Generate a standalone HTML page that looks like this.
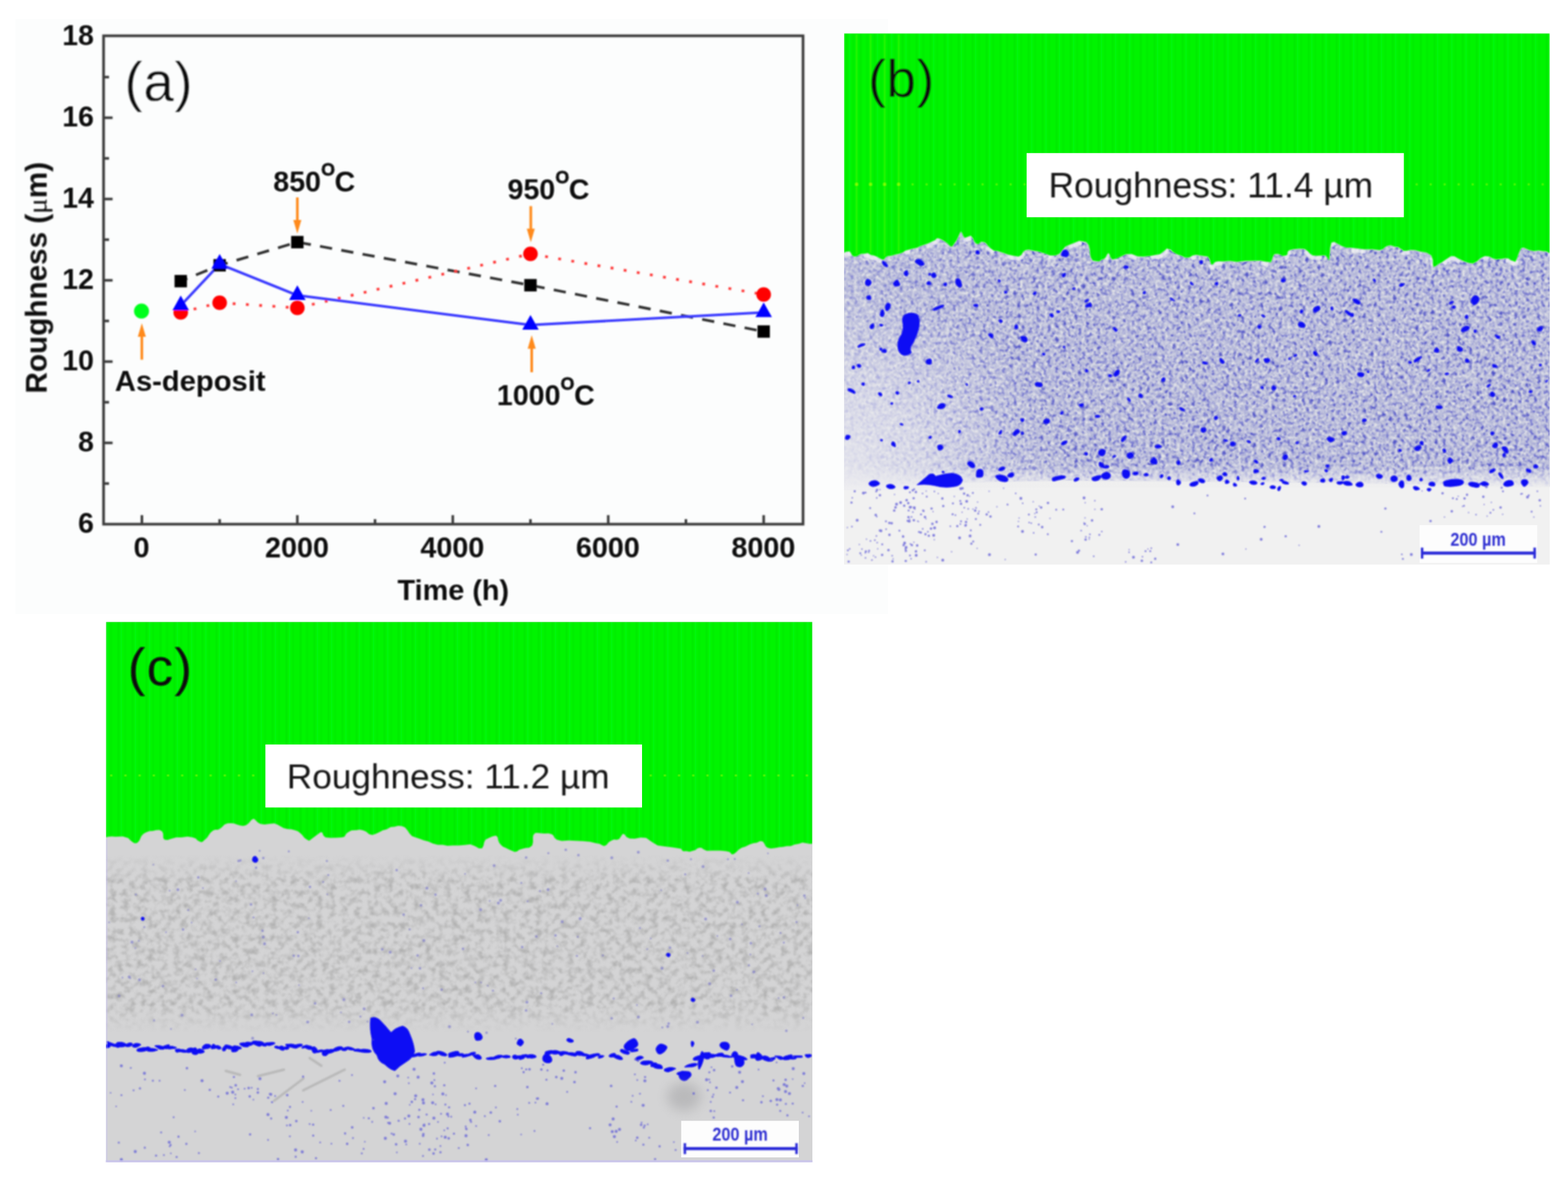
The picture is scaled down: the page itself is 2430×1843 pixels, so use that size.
<!DOCTYPE html>
<html lang="en"><head><meta charset="utf-8"><title>Roughness vs time and cross-section micrographs</title>
<style>
html,body{margin:0;padding:0;background:#fff;}
body{width:2430px;height:1843px;overflow:hidden;position:relative;font-family:"Liberation Sans", Arial, Helvetica, sans-serif;}
svg{position:absolute;left:0;top:0;display:block;}
text{font-family:"Liberation Sans", Arial, Helvetica, sans-serif;}
.b{font-weight:700;}
</style></head><body>
<svg width="2430" height="1843" viewBox="0 0 2430 1843">
<defs>
<filter id="soft" x="-5%" y="-5%" width="110%" height="110%"><feGaussianBlur stdDeviation="0.9"/></filter>
<filter id="soft2" x="-5%" y="-5%" width="110%" height="110%"><feGaussianBlur stdDeviation="1.3"/></filter>
<filter id="nzB" x="0" y="0" width="100%" height="100%" color-interpolation-filters="sRGB">
  <feTurbulence type="fractalNoise" baseFrequency="0.21" numOctaves="3" seed="3" result="n"/>
  <feColorMatrix in="n" type="matrix" values="0 0 0 0 0.90  0 0 0 0 0.905  0 0 0 0 0.91  2.2 0.8 0 0 -1.13"/>
  <feGaussianBlur stdDeviation="0.9"/>
  <feComposite in2="SourceGraphic" operator="in"/>
</filter>
<filter id="nzB2" x="0" y="0" width="100%" height="100%" color-interpolation-filters="sRGB">
  <feTurbulence type="fractalNoise" baseFrequency="0.17" numOctaves="3" seed="8" result="n"/>
  <feColorMatrix in="n" type="matrix" values="0 0 0 0 0.30  0 0 0 0 0.31  0 0 0 0 0.78  0 3.0 1.0 0 -1.98"/>
  <feGaussianBlur stdDeviation="1.0"/>
  <feComposite in2="SourceGraphic" operator="in"/>
</filter>
<filter id="blur8" x="-50%" y="-50%" width="200%" height="200%"><feGaussianBlur stdDeviation="9"/></filter>
<linearGradient id="gB" x1="0" y1="0" x2="1" y2="0"><stop offset="0" stop-color="#fff" stop-opacity="0.55"/><stop offset="0.25" stop-color="#fff" stop-opacity="0.95"/><stop offset="1" stop-color="#fff" stop-opacity="1"/></linearGradient>
<mask id="mB" maskUnits="userSpaceOnUse" x="1300" y="330" width="1110" height="440"><rect x="1300" y="330" width="1110" height="440" fill="url(#gB)"/></mask>
<radialGradient id="gBL" gradientUnits="userSpaceOnUse" cx="1300" cy="720" r="330" gradientTransform="translate(1300 720) scale(1 0.85) translate(-1300 -720)"><stop offset="0" stop-color="#ececf0" stop-opacity="0.8"/><stop offset="0.4" stop-color="#ececf0" stop-opacity="0.55"/><stop offset="0.75" stop-color="#ececf0" stop-opacity="0.2"/><stop offset="1" stop-color="#ececf0" stop-opacity="0"/></radialGradient>
<linearGradient id="gBbot" gradientUnits="userSpaceOnUse" x1="0" y1="722" x2="0" y2="752"><stop offset="0" stop-color="#efefef" stop-opacity="0"/><stop offset="1" stop-color="#efefef" stop-opacity="0.9"/></linearGradient>
<linearGradient id="gC" x1="0" y1="0" x2="0" y2="1"><stop offset="0" stop-color="#fff" stop-opacity="0"/><stop offset="0.15" stop-color="#fff" stop-opacity="1"/><stop offset="0.85" stop-color="#fff" stop-opacity="1"/><stop offset="1" stop-color="#fff" stop-opacity="0"/></linearGradient>
<mask id="mC" maskUnits="userSpaceOnUse" x="160" y="1325" width="1105" height="275"><rect x="160" y="1325" width="1105" height="275" fill="url(#gC)"/></mask>
<filter id="nzC" x="0" y="0" width="100%" height="100%" color-interpolation-filters="sRGB">
  <feTurbulence type="fractalNoise" baseFrequency="0.1" numOctaves="3" seed="11" result="n"/>
  <feColorMatrix in="n" type="matrix" values="0 0 0 0 0.70  0 0 0 0 0.70  0 0 0 0 0.70  2.6 0 0 0 -1.1"/>
  <feGaussianBlur stdDeviation="0.9"/>
  <feComposite in2="SourceGraphic" operator="in"/>
</filter>
<pattern id="stripe" width="21.7" height="40" patternUnits="userSpaceOnUse" patternTransform="translate(1308 0)">
  <rect x="0" y="0" width="21.7" height="40" fill="#00f404"/>
  <rect x="3" y="0" width="2" height="40" fill="#00e602"/>
  <rect x="13.5" y="0" width="1.6" height="40" fill="#00ea02"/>
  <rect x="8" y="0" width="1.5" height="40" fill="#08fa0a"/>
</pattern>
<clipPath id="clipBcoat"><polygon points="1308.0,392.3 1316.3,389.6 1323.5,397.8 1339.8,393.2 1354.2,396.0 1366.9,402.3 1376.0,396.9 1394.0,393.2 1408.5,386.9 1426.6,381.5 1444.7,374.2 1455.5,369.7 1466.4,376.1 1473.6,382.4 1482.6,372.4 1489.0,358.9 1495.3,368.8 1504.3,365.2 1513.4,377.9 1524.2,375.2 1535.1,385.1 1553.2,391.4 1578.5,397.8 1589.3,387.8 1607.4,389.6 1636.3,396.0 1650.8,382.4 1672.5,373.3 1687.0,379.7 1690.6,399.6 1700.0,405.0 1710.8,401.4 1718.0,392.3 1723.5,402.3 1745.2,394.1 1772.3,397.8 1797.6,394.1 1808.5,385.1 1817.5,390.5 1837.4,399.6 1853.7,395.0 1871.8,397.8 1878.1,410.4 1888.0,405.0 1917.0,405.9 1953.2,404.1 1969.4,406.8 1974.9,394.1 1993.0,396.0 1998.4,387.8 2021.9,386.0 2034.5,396.0 2054.4,396.0 2059.9,403.2 2063.5,376.1 2079.7,381.5 2102.3,385.1 2138.5,387.8 2149.3,381.5 2167.4,383.3 2174.7,388.7 2192.7,387.8 2218.0,396.0 2221.7,414.0 2234.3,406.8 2248.8,396.9 2265.0,403.2 2283.1,408.6 2301.2,396.9 2319.3,402.3 2337.4,400.5 2348.2,405.9 2357.3,385.1 2369.9,387.8 2391.6,389.6 2402.0,392.3 2402,754 2300,753 2150,750 2000,748 1800,746 1650,745 1500,748 1400,752 1308,754"/></clipPath>
<clipPath id="clipB"><rect x="1308" y="51.6" width="1093.8000000000002" height="823.6999999999999"/></clipPath>
<clipPath id="clipC"><rect x="164.2" y="963.7" width="1094.8" height="837.8999999999999"/></clipPath>
</defs>
<rect width="2430" height="1843" fill="#ffffff"/>

<g id="chart">
<rect x="24" y="29.5" width="1352" height="922" fill="#fcfdfd"/>
<g filter="url(#soft)">
<rect x="160.5" y="55.5" width="1084.0" height="757.0" fill="none" stroke="#3c3c3c" stroke-width="4.1"/>
<line x1="160.5" y1="749.5" x2="169.0" y2="749.5" stroke="#3c3c3c" stroke-width="4"/>
<line x1="160.5" y1="686.5" x2="174.5" y2="686.5" stroke="#3c3c3c" stroke-width="4"/>
<line x1="160.5" y1="623.5" x2="169.0" y2="623.5" stroke="#3c3c3c" stroke-width="4"/>
<line x1="160.5" y1="560.5" x2="174.5" y2="560.5" stroke="#3c3c3c" stroke-width="4"/>
<line x1="160.5" y1="497.5" x2="169.0" y2="497.5" stroke="#3c3c3c" stroke-width="4"/>
<line x1="160.5" y1="434.5" x2="174.5" y2="434.5" stroke="#3c3c3c" stroke-width="4"/>
<line x1="160.5" y1="371.5" x2="169.0" y2="371.5" stroke="#3c3c3c" stroke-width="4"/>
<line x1="160.5" y1="308.5" x2="174.5" y2="308.5" stroke="#3c3c3c" stroke-width="4"/>
<line x1="160.5" y1="245.5" x2="169.0" y2="245.5" stroke="#3c3c3c" stroke-width="4"/>
<line x1="160.5" y1="182.5" x2="174.5" y2="182.5" stroke="#3c3c3c" stroke-width="4"/>
<line x1="160.5" y1="119.5" x2="169.0" y2="119.5" stroke="#3c3c3c" stroke-width="4"/>
<line x1="219.9" y1="812.5" x2="219.9" y2="798.5" stroke="#3c3c3c" stroke-width="4"/>
<line x1="340.4" y1="812.5" x2="340.4" y2="804.7" stroke="#3c3c3c" stroke-width="4"/>
<line x1="460.8" y1="812.5" x2="460.8" y2="798.5" stroke="#3c3c3c" stroke-width="4"/>
<line x1="581.2" y1="812.5" x2="581.2" y2="804.7" stroke="#3c3c3c" stroke-width="4"/>
<line x1="701.7" y1="812.5" x2="701.7" y2="798.5" stroke="#3c3c3c" stroke-width="4"/>
<line x1="822.1" y1="812.5" x2="822.1" y2="804.7" stroke="#3c3c3c" stroke-width="4"/>
<line x1="942.6" y1="812.5" x2="942.6" y2="798.5" stroke="#3c3c3c" stroke-width="4"/>
<line x1="1063.0" y1="812.5" x2="1063.0" y2="804.7" stroke="#3c3c3c" stroke-width="4"/>
<line x1="1183.5" y1="812.5" x2="1183.5" y2="798.5" stroke="#3c3c3c" stroke-width="4"/>
</g>
<g class="b" font-size="44" fill="#0a0a0a" filter="url(#soft)">
<text x="145.5" y="825.8" text-anchor="end">6</text>
<text x="145.5" y="699.8" text-anchor="end">8</text>
<text x="145.5" y="573.8" text-anchor="end">10</text>
<text x="145.5" y="447.8" text-anchor="end">12</text>
<text x="145.5" y="321.8" text-anchor="end">14</text>
<text x="145.5" y="195.8" text-anchor="end">16</text>
<text x="145.5" y="69.8" text-anchor="end">18</text>
<text x="219.3" y="864" font-size="44.5" text-anchor="middle">0</text>
<text x="460.2" y="864" font-size="44.5" text-anchor="middle">2000</text>
<text x="701.1" y="864" font-size="44.5" text-anchor="middle">4000</text>
<text x="942.0" y="864" font-size="44.5" text-anchor="middle">6000</text>
<text x="1182.9" y="864" font-size="44.5" text-anchor="middle">8000</text>
<text x="702.5" y="930.3" font-size="44.7" text-anchor="middle">Time (h)</text>
<text transform="translate(72.3 430.5) rotate(-90)" font-size="46" text-anchor="middle">Roughness (<tspan font-family="'Liberation Serif', serif" font-weight="400" font-size="45">μ</tspan>m)</text>
</g>
<text x="193" y="155.5" font-size="84.5" letter-spacing="1" fill="#0a0a0a" stroke="#fcfdfd" stroke-width="0.4" filter="url(#soft)">(a)</text>
<g filter="url(#soft)">
<polyline points="280.1,435.8 340.4,411.2 460.8,375.3 822.1,442.1 1183.5,513.9" fill="none" stroke="#303030" stroke-width="4.2" stroke-dasharray="19 14.5" stroke-dashoffset="8"/>
<polyline points="280.1,484.3 340.4,469.2 460.8,477.3 822.1,393.5 1183.5,456.5" fill="none" stroke="#ff3a3a" stroke-width="4.2" stroke-dasharray="4.4 16.2" />
<polyline points="280.1,473.6 340.4,409.3 460.8,457.8 822.1,503.8 1183.5,484.3" fill="none" stroke="#3a3aff" stroke-width="4.1" stroke-linejoin="round"/>
<rect x="270.5" y="426.2" width="19.2" height="19.2" fill="#000"/>
<rect x="330.8" y="401.6" width="19.2" height="19.2" fill="#000"/>
<rect x="451.2" y="365.7" width="19.2" height="19.2" fill="#000"/>
<rect x="812.5" y="432.5" width="19.2" height="19.2" fill="#000"/>
<rect x="1173.9" y="504.3" width="19.2" height="19.2" fill="#000"/>
<circle cx="280.1" cy="484.3" r="11.3" fill="#ff0000"/>
<circle cx="340.4" cy="469.2" r="11.3" fill="#ff0000"/>
<circle cx="460.8" cy="477.3" r="11.3" fill="#ff0000"/>
<circle cx="822.1" cy="393.5" r="11.3" fill="#ff0000"/>
<circle cx="1183.5" cy="456.5" r="11.3" fill="#ff0000"/>
<polygon points="280.1,458.1 292.9,480.9 267.3,480.9" fill="#0000ff"/>
<polygon points="340.4,393.8 353.2,416.6 327.6,416.6" fill="#0000ff"/>
<polygon points="460.8,442.3 473.6,465.1 448.0,465.1" fill="#0000ff"/>
<polygon points="822.1,488.3 834.9,511.1 809.4,511.1" fill="#0000ff"/>
<polygon points="1183.5,468.8 1196.3,491.6 1170.7,491.6" fill="#0000ff"/>
<circle cx="219.3" cy="482.2" r="11.6" fill="#00ff1e"/>
<line x1="460.8" y1="306" x2="460.8" y2="348" stroke="#ff8a1a" stroke-width="4"/>
<polygon points="460.8,362 454.6,341 467.0,341" fill="#ff8a1a"/>
<line x1="822.6" y1="319.5" x2="822.6" y2="361.5" stroke="#ff8a1a" stroke-width="4"/>
<polygon points="822.6,375.5 816.4,354.5 828.8000000000001,354.5" fill="#ff8a1a"/>
<line x1="824" y1="577" x2="824" y2="533.5" stroke="#ff8a1a" stroke-width="4"/>
<polygon points="824,519.5 817.8,540.5 830.2,540.5" fill="#ff8a1a"/>
<line x1="219.8" y1="557.5" x2="219.8" y2="515" stroke="#ff8a1a" stroke-width="4"/>
<polygon points="219.8,501 213.60000000000002,522 226.0,522" fill="#ff8a1a"/>
</g>
<g class="b" font-size="44.3" fill="#0a0a0a" filter="url(#soft)">
<text x="423.5" y="296.5">850<tspan font-size="27.5" dy="-24.5" dx="0.3" stroke="#0a0a0a" stroke-width="0.9">O</tspan><tspan dy="24.5" dx="-0.5">C</tspan></text>
<text x="786.5" y="308.8">950<tspan font-size="27.5" dy="-24.5" dx="0.3" stroke="#0a0a0a" stroke-width="0.9">O</tspan><tspan dy="24.5" dx="-0.5">C</tspan></text>
<text x="770" y="628.2">1000<tspan font-size="27.5" dy="-24.5" dx="0.3" stroke="#0a0a0a" stroke-width="0.9">O</tspan><tspan dy="24.5" dx="-0.5">C</tspan></text>
<text x="178" y="606.3" font-size="45.2">As-deposit</text>
</g>
</g>
<g id="panelB">
<g clip-path="url(#clipB)">
<rect x="1308" y="51.6" width="1093.8000000000002" height="823.6999999999999" fill="#f1f1f1"/>
<polygon points="1308.0,392.3 1310.2,390.6 1313.3,389.9 1316.3,389.6 1318.4,391.7 1320.5,395.9 1323.5,397.8 1328.3,397.2 1334.2,393.6 1339.8,393.2 1344.8,392.3 1349.6,395.3 1354.2,396.0 1358.7,397.7 1363.0,400.3 1366.9,402.3 1369.9,402.5 1372.4,398.9 1376.0,396.9 1381.5,396.4 1387.9,394.5 1394.0,393.2 1399.0,391.6 1403.5,388.2 1408.5,386.9 1414.3,385.4 1420.4,384.3 1426.6,381.5 1432.9,379.2 1439.2,377.1 1444.7,374.2 1448.8,372.5 1452.2,369.2 1455.5,369.7 1459.3,371.6 1463.0,373.8 1466.4,376.1 1469.0,378.3 1471.2,380.4 1473.6,382.4 1476.6,381.3 1479.7,376.5 1482.6,372.4 1484.9,367.8 1487.0,362.7 1489.0,358.9 1491.0,361.5 1493.0,366.6 1495.3,368.8 1498.1,367.7 1501.2,366.4 1504.3,365.2 1507.3,368.7 1510.2,375.2 1513.4,377.9 1516.9,378.6 1520.5,374.8 1524.2,375.2 1527.6,376.8 1530.9,380.9 1535.1,385.1 1540.3,388.6 1546.4,389.3 1553.2,391.4 1561.6,394.4 1570.9,396.4 1578.5,397.8 1582.9,395.3 1585.7,390.6 1589.3,387.8 1594.4,387.0 1600.3,388.4 1607.4,389.6 1616.8,392.3 1627.3,396.1 1636.3,396.0 1641.9,393.2 1646.0,388.4 1650.8,382.4 1657.8,379.3 1665.5,376.2 1672.5,373.3 1678.3,374.2 1683.2,375.2 1687.0,379.7 1688.8,386.7 1689.4,394.7 1690.6,399.6 1693.3,403.8 1696.5,404.6 1700.0,405.0 1703.6,405.2 1707.4,402.6 1710.8,401.4 1713.5,398.9 1715.9,394.3 1718.0,392.3 1719.4,394.4 1720.5,398.6 1723.5,402.3 1729.3,401.3 1737.0,397.8 1745.2,394.1 1753.9,393.7 1763.2,397.4 1772.3,397.8 1781.4,397.1 1790.3,395.2 1797.6,394.1 1802.4,390.5 1805.5,387.9 1808.5,385.1 1811.2,386.6 1813.8,386.8 1817.5,390.5 1823.5,394.0 1830.6,396.4 1837.4,399.6 1843.0,399.3 1848.3,396.1 1853.7,395.0 1860.0,395.9 1866.6,397.0 1871.8,397.8 1874.6,402.0 1876.2,408.4 1878.1,410.4 1880.4,409.2 1883.2,406.0 1888.0,405.0 1896.0,405.2 1906.1,404.4 1917.0,405.9 1929.3,404.6 1942.3,404.2 1953.2,404.1 1960.5,405.5 1965.5,406.0 1969.4,406.8 1971.6,402.1 1972.5,398.7 1974.9,394.1 1980.5,393.6 1987.4,396.7 1993.0,396.0 1995.1,394.7 1995.7,390.1 1998.4,387.8 2005.3,386.2 2014.2,385.5 2021.9,386.0 2026.6,389.2 2030.2,393.2 2034.5,396.0 2041.1,396.6 2048.6,396.1 2054.4,396.0 2057.4,400.2 2058.7,403.1 2059.9,403.2 2060.8,395.3 2061.4,384.5 2063.5,376.1 2067.7,374.9 2073.4,378.2 2079.7,381.5 2086.3,384.0 2093.5,384.1 2102.3,385.1 2114.3,386.5 2127.8,386.4 2138.5,387.8 2143.7,385.9 2146.1,383.5 2149.3,381.5 2155.2,380.2 2161.9,382.4 2167.4,383.3 2170.2,385.4 2171.9,386.2 2174.7,388.7 2179.6,388.8 2185.8,387.6 2192.7,387.8 2201.4,389.9 2210.9,391.8 2218.0,396.0 2220.5,402.7 2220.6,410.1 2221.7,414.0 2225.2,412.4 2229.6,409.3 2234.3,406.8 2238.9,403.5 2243.8,400.2 2248.8,396.9 2254.0,397.2 2259.4,400.5 2265.0,403.2 2270.9,405.9 2277.0,407.7 2283.1,408.6 2289.1,405.0 2295.2,399.7 2301.2,396.9 2307.2,397.4 2313.3,400.6 2319.3,402.3 2325.6,401.5 2331.9,400.5 2337.4,400.5 2341.6,403.4 2345.0,404.6 2348.2,405.9 2351.2,400.2 2354.1,391.8 2357.3,385.1 2360.9,383.8 2364.9,385.4 2369.9,387.8 2376.9,389.2 2384.9,388.3 2391.6,389.6 2396.3,389.8 2399.7,391.4 2402.0,392.3 2402.0,754.0 2300.0,753.0 2150.0,750.0 2000.0,748.0 1800.0,746.0 1650.0,745.0 1500.0,748.0 1400.0,752.0 1308.0,754.0" fill="#b2b5d8" filter="url(#soft2)"/>
<g clip-path="url(#clipBcoat)"><rect x="1308" y="340" width="1093.8000000000002" height="420" fill="#000" filter="url(#nzB)"/><rect x="1308" y="340" width="1093.8000000000002" height="420" fill="#000" filter="url(#nzB2)" mask="url(#mB)"/></g>
<rect x="1308" y="720" width="1093.8000000000002" height="36" fill="url(#gBbot)"/>
<rect x="1308" y="430" width="340" height="330" fill="url(#gBL)"/>
<polyline points="1308.0,395.3 1310.2,393.6 1313.3,392.9 1316.3,392.6 1318.4,394.7 1320.5,398.9 1323.5,400.8 1328.3,400.2 1334.2,396.6 1339.8,396.2 1344.8,395.3 1349.6,398.3 1354.2,399.0 1358.7,400.7 1363.0,403.3 1366.9,405.3 1369.9,405.5 1372.4,401.9 1376.0,399.9 1381.5,399.4 1387.9,397.5 1394.0,396.2 1399.0,394.6 1403.5,391.2 1408.5,389.9 1414.3,388.4 1420.4,387.3 1426.6,384.5 1432.9,382.2 1439.2,380.1 1444.7,377.2 1448.8,375.5 1452.2,372.2 1455.5,372.7 1459.3,374.6 1463.0,376.8 1466.4,379.1 1469.0,381.3 1471.2,383.4 1473.6,385.4 1476.6,384.3 1479.7,379.5 1482.6,375.4 1484.9,370.8 1487.0,365.7 1489.0,361.9 1491.0,364.5 1493.0,369.6 1495.3,371.8 1498.1,370.7 1501.2,369.4 1504.3,368.2 1507.3,371.7 1510.2,378.2 1513.4,380.9 1516.9,381.6 1520.5,377.8 1524.2,378.2 1527.6,379.8 1530.9,383.9 1535.1,388.1 1540.3,391.6 1546.4,392.3 1553.2,394.4 1561.6,397.4 1570.9,399.4 1578.5,400.8 1582.9,398.3 1585.7,393.6 1589.3,390.8 1594.4,390.0 1600.3,391.4 1607.4,392.6 1616.8,395.3 1627.3,399.1 1636.3,399.0 1641.9,396.2 1646.0,391.4 1650.8,385.4 1657.8,382.3 1665.5,379.2 1672.5,376.3 1678.3,377.2 1683.2,378.2 1687.0,382.7 1688.8,389.7 1689.4,397.7 1690.6,402.6 1693.3,406.8 1696.5,407.6 1700.0,408.0 1703.6,408.2 1707.4,405.6 1710.8,404.4 1713.5,401.9 1715.9,397.3 1718.0,395.3 1719.4,397.4 1720.5,401.6 1723.5,405.3 1729.3,404.3 1737.0,400.8 1745.2,397.1 1753.9,396.7 1763.2,400.4 1772.3,400.8 1781.4,400.1 1790.3,398.2 1797.6,397.1 1802.4,393.5 1805.5,390.9 1808.5,388.1 1811.2,389.6 1813.8,389.8 1817.5,393.5 1823.5,397.0 1830.6,399.4 1837.4,402.6 1843.0,402.3 1848.3,399.1 1853.7,398.0 1860.0,398.9 1866.6,400.0 1871.8,400.8 1874.6,405.0 1876.2,411.4 1878.1,413.4 1880.4,412.2 1883.2,409.0 1888.0,408.0 1896.0,408.2 1906.1,407.4 1917.0,408.9 1929.3,407.6 1942.3,407.2 1953.2,407.1 1960.5,408.5 1965.5,409.0 1969.4,409.8 1971.6,405.1 1972.5,401.7 1974.9,397.1 1980.5,396.6 1987.4,399.7 1993.0,399.0 1995.1,397.7 1995.7,393.1 1998.4,390.8 2005.3,389.2 2014.2,388.5 2021.9,389.0 2026.6,392.2 2030.2,396.2 2034.5,399.0 2041.1,399.6 2048.6,399.1 2054.4,399.0 2057.4,403.2 2058.7,406.1 2059.9,406.2 2060.8,398.3 2061.4,387.5 2063.5,379.1 2067.7,377.9 2073.4,381.2 2079.7,384.5 2086.3,387.0 2093.5,387.1 2102.3,388.1 2114.3,389.5 2127.8,389.4 2138.5,390.8 2143.7,388.9 2146.1,386.5 2149.3,384.5 2155.2,383.2 2161.9,385.4 2167.4,386.3 2170.2,388.4 2171.9,389.2 2174.7,391.7 2179.6,391.8 2185.8,390.6 2192.7,390.8 2201.4,392.9 2210.9,394.8 2218.0,399.0 2220.5,405.7 2220.6,413.1 2221.7,417.0 2225.2,415.4 2229.6,412.3 2234.3,409.8 2238.9,406.5 2243.8,403.2 2248.8,399.9 2254.0,400.2 2259.4,403.5 2265.0,406.2 2270.9,408.9 2277.0,410.7 2283.1,411.6 2289.1,408.0 2295.2,402.7 2301.2,399.9 2307.2,400.4 2313.3,403.6 2319.3,405.3 2325.6,404.5 2331.9,403.5 2337.4,403.5 2341.6,406.4 2345.0,407.6 2348.2,408.9 2351.2,403.2 2354.1,394.8 2357.3,388.1 2360.9,386.8 2364.9,388.4 2369.9,390.8 2376.9,392.2 2384.9,391.3 2391.6,392.6 2396.3,392.8 2399.7,394.4 2402.0,395.3" fill="none" stroke="#f4f4f6" stroke-width="7" stroke-dasharray="14 22 30 40 9 28 22 60 12 35" opacity="0.75" filter="url(#soft2)"/>
<polygon points="1308,51.6 2401.8,51.6 2402.0,392.3 2399.7,391.4 2396.3,389.8 2391.6,389.6 2384.9,388.3 2376.9,389.2 2369.9,387.8 2364.9,385.4 2360.9,383.8 2357.3,385.1 2354.1,391.8 2351.2,400.2 2348.2,405.9 2345.0,404.6 2341.6,403.4 2337.4,400.5 2331.9,400.5 2325.6,401.5 2319.3,402.3 2313.3,400.6 2307.2,397.4 2301.2,396.9 2295.2,399.7 2289.1,405.0 2283.1,408.6 2277.0,407.7 2270.9,405.9 2265.0,403.2 2259.4,400.5 2254.0,397.2 2248.8,396.9 2243.8,400.2 2238.9,403.5 2234.3,406.8 2229.6,409.3 2225.2,412.4 2221.7,414.0 2220.6,410.1 2220.5,402.7 2218.0,396.0 2210.9,391.8 2201.4,389.9 2192.7,387.8 2185.8,387.6 2179.6,388.8 2174.7,388.7 2171.9,386.2 2170.2,385.4 2167.4,383.3 2161.9,382.4 2155.2,380.2 2149.3,381.5 2146.1,383.5 2143.7,385.9 2138.5,387.8 2127.8,386.4 2114.3,386.5 2102.3,385.1 2093.5,384.1 2086.3,384.0 2079.7,381.5 2073.4,378.2 2067.7,374.9 2063.5,376.1 2061.4,384.5 2060.8,395.3 2059.9,403.2 2058.7,403.1 2057.4,400.2 2054.4,396.0 2048.6,396.1 2041.1,396.6 2034.5,396.0 2030.2,393.2 2026.6,389.2 2021.9,386.0 2014.2,385.5 2005.3,386.2 1998.4,387.8 1995.7,390.1 1995.1,394.7 1993.0,396.0 1987.4,396.7 1980.5,393.6 1974.9,394.1 1972.5,398.7 1971.6,402.1 1969.4,406.8 1965.5,406.0 1960.5,405.5 1953.2,404.1 1942.3,404.2 1929.3,404.6 1917.0,405.9 1906.1,404.4 1896.0,405.2 1888.0,405.0 1883.2,406.0 1880.4,409.2 1878.1,410.4 1876.2,408.4 1874.6,402.0 1871.8,397.8 1866.6,397.0 1860.0,395.9 1853.7,395.0 1848.3,396.1 1843.0,399.3 1837.4,399.6 1830.6,396.4 1823.5,394.0 1817.5,390.5 1813.8,386.8 1811.2,386.6 1808.5,385.1 1805.5,387.9 1802.4,390.5 1797.6,394.1 1790.3,395.2 1781.4,397.1 1772.3,397.8 1763.2,397.4 1753.9,393.7 1745.2,394.1 1737.0,397.8 1729.3,401.3 1723.5,402.3 1720.5,398.6 1719.4,394.4 1718.0,392.3 1715.9,394.3 1713.5,398.9 1710.8,401.4 1707.4,402.6 1703.6,405.2 1700.0,405.0 1696.5,404.6 1693.3,403.8 1690.6,399.6 1689.4,394.7 1688.8,386.7 1687.0,379.7 1683.2,375.2 1678.3,374.2 1672.5,373.3 1665.5,376.2 1657.8,379.3 1650.8,382.4 1646.0,388.4 1641.9,393.2 1636.3,396.0 1627.3,396.1 1616.8,392.3 1607.4,389.6 1600.3,388.4 1594.4,387.0 1589.3,387.8 1585.7,390.6 1582.9,395.3 1578.5,397.8 1570.9,396.4 1561.6,394.4 1553.2,391.4 1546.4,389.3 1540.3,388.6 1535.1,385.1 1530.9,380.9 1527.6,376.8 1524.2,375.2 1520.5,374.8 1516.9,378.6 1513.4,377.9 1510.2,375.2 1507.3,368.7 1504.3,365.2 1501.2,366.4 1498.1,367.7 1495.3,368.8 1493.0,366.6 1491.0,361.5 1489.0,358.9 1487.0,362.7 1484.9,367.8 1482.6,372.4 1479.7,376.5 1476.6,381.3 1473.6,382.4 1471.2,380.4 1469.0,378.3 1466.4,376.1 1463.0,373.8 1459.3,371.6 1455.5,369.7 1452.2,369.2 1448.8,372.5 1444.7,374.2 1439.2,377.1 1432.9,379.2 1426.6,381.5 1420.4,384.3 1414.3,385.4 1408.5,386.9 1403.5,388.2 1399.0,391.6 1394.0,393.2 1387.9,394.5 1381.5,396.4 1376.0,396.9 1372.4,398.9 1369.9,402.5 1366.9,402.3 1363.0,400.3 1358.7,397.7 1354.2,396.0 1349.6,395.3 1344.8,392.3 1339.8,393.2 1334.2,393.6 1328.3,397.2 1323.5,397.8 1320.5,395.9 1318.4,391.7 1316.3,389.6 1313.3,389.9 1310.2,390.6 1308.0,392.3" fill="url(#stripe)" filter="url(#soft)"/>
<g stroke="#8cff00" opacity="0.55" filter="url(#soft)">
<line x1="1327.5" y1="53.6" x2="1327.5" y2="393.7" stroke-width="1.3"/>
<line x1="1349.2" y1="53.6" x2="1349.2" y2="392.0" stroke-width="1.3"/>
<line x1="1371" y1="53.6" x2="1371" y2="396.9" stroke-width="1.3"/>
<line x1="1392.7" y1="53.6" x2="1392.7" y2="390.5" stroke-width="1.3"/>
</g>
<g fill="#9cff00" opacity="0.8" filter="url(#soft)">
<circle cx="1327.5" cy="285.7" r="2.6"/>
<circle cx="1349.2" cy="285.7" r="2.6"/>
<circle cx="1370.9" cy="285.7" r="2.6"/>
<circle cx="1392.6" cy="285.7" r="2.6"/>
<circle cx="1414.3" cy="285.7" r="1.5"/>
<circle cx="1436.0" cy="285.7" r="1.5"/>
<circle cx="1457.7" cy="285.7" r="1.5"/>
<circle cx="1479.4" cy="285.7" r="1.5"/>
<circle cx="1501.1" cy="285.7" r="1.5"/>
<circle cx="1522.8" cy="285.7" r="1.5"/>
<circle cx="1544.5" cy="285.7" r="1.5"/>
<circle cx="1566.2" cy="285.7" r="1.5"/>
<circle cx="1587.9" cy="285.7" r="1.5"/>
<circle cx="2195.5" cy="285.7" r="1.5"/>
<circle cx="2217.2" cy="285.7" r="1.5"/>
<circle cx="2238.9" cy="285.7" r="1.5"/>
<circle cx="2260.6" cy="285.7" r="1.5"/>
<circle cx="2282.3" cy="285.7" r="1.5"/>
<circle cx="2304.0" cy="285.7" r="1.5"/>
<circle cx="2325.7" cy="285.7" r="1.5"/>
<circle cx="2347.4" cy="285.7" r="1.5"/>
<circle cx="2369.1" cy="285.7" r="1.5"/>
<circle cx="2390.8" cy="285.7" r="1.5"/>
</g>
<g fill="#0808f4" filter="url(#soft)">
<path d="M1403 487 Q1414 482 1423 488 Q1427 497 1424 510 Q1420 524 1414 534 Q1409 541 1413 546 Q1409 552 1400 551 Q1392 548 1391 538 Q1390 527 1397 518 Q1401 508 1398 497 Q1398 490 1403 487Z"/>
<path d="M1378.9 478.6Q1377.6 480.8 1375.6 482.0Q1373.5 483.1 1372.5 480.9Q1371.6 478.7 1371.6 476.2Q1371.7 473.7 1373.0 471.4Q1374.4 469.1 1376.0 469.2Q1377.7 469.4 1379.1 470.3Q1380.5 471.2 1380.4 473.7Q1380.2 476.3 1378.9 478.6Z"/>
<path d="M1369.8 489.6Q1368.5 492.0 1367.0 491.5Q1365.5 490.9 1364.4 490.1Q1363.3 489.2 1363.6 487.1Q1364.0 485.1 1364.7 482.5Q1365.4 480.0 1367.3 479.6Q1369.1 479.2 1369.6 481.2Q1370.1 483.3 1370.6 485.3Q1371.1 487.3 1369.8 489.6Z"/>
<path d="M1353.3 508.9Q1351.6 510.3 1350.0 509.9Q1348.5 509.4 1347.8 508.0Q1347.2 506.6 1348.2 505.0Q1349.1 503.4 1350.3 502.5Q1351.5 501.7 1352.9 501.3Q1354.4 500.8 1354.5 502.3Q1354.6 503.8 1354.9 505.6Q1355.1 507.5 1353.3 508.9Z"/>
<path d="M1462.8 474.7Q1462.0 476.1 1458.9 477.6Q1455.9 479.1 1452.3 480.5Q1448.8 481.9 1447.0 481.5Q1445.2 481.2 1445.4 479.7Q1445.6 478.3 1449.7 476.2Q1453.8 474.2 1457.8 472.9Q1461.8 471.7 1462.7 472.5Q1463.6 473.4 1462.8 474.7Z"/>
<path d="M1490.6 440.6Q1491.0 443.5 1489.6 444.7Q1488.2 446.0 1486.4 445.2Q1484.7 444.3 1482.7 442.5Q1480.6 440.7 1480.4 437.3Q1480.3 433.9 1481.8 432.2Q1483.4 430.6 1485.5 431.5Q1487.6 432.4 1489.0 435.0Q1490.3 437.7 1490.6 440.6Z"/>
<path d="M1590.5 530.3Q1588.8 530.9 1586.6 530.3Q1584.5 529.7 1583.3 527.9Q1582.2 526.1 1581.3 523.8Q1580.5 521.5 1582.7 521.0Q1585.0 520.6 1587.7 520.9Q1590.3 521.2 1591.5 523.5Q1592.7 525.9 1592.5 527.7Q1592.2 529.6 1590.5 530.3Z"/>
<path d="M1406.8 427.0Q1405.5 428.8 1404.2 428.2Q1402.9 427.6 1402.0 426.9Q1401.1 426.3 1400.5 424.5Q1400.0 422.8 1401.3 421.4Q1402.7 420.0 1404.3 419.0Q1405.8 418.1 1406.5 419.8Q1407.2 421.5 1407.7 423.4Q1408.1 425.3 1406.8 427.0Z"/>
<path d="M1451.1 426.5Q1451.7 427.8 1450.5 429.4Q1449.2 431.0 1447.3 430.8Q1445.5 430.7 1444.5 429.8Q1443.5 428.9 1443.2 427.6Q1442.9 426.3 1443.8 424.5Q1444.6 422.7 1446.8 422.5Q1449.0 422.3 1449.7 423.7Q1450.5 425.1 1451.1 426.5Z"/>
<path d="M1467.5 442.1Q1467.2 443.2 1466.1 443.5Q1465.0 443.8 1464.0 443.4Q1463.1 442.9 1462.0 442.0Q1461.0 441.0 1462.0 440.0Q1462.9 438.9 1464.0 438.2Q1465.0 437.4 1466.2 438.0Q1467.4 438.6 1467.6 439.8Q1467.8 441.0 1467.5 442.1Z"/>
<path d="M1518.3 392.6Q1518.2 394.2 1516.6 394.2Q1515.0 394.3 1513.5 394.1Q1512.0 394.0 1511.9 392.5Q1511.8 391.0 1512.0 389.6Q1512.3 388.3 1513.6 387.9Q1515.0 387.6 1516.3 388.0Q1517.5 388.5 1517.9 389.7Q1518.4 391.0 1518.3 392.6Z"/>
<path d="M1655.2 397.2Q1653.2 399.1 1650.8 398.6Q1648.4 398.2 1646.0 397.3Q1643.7 396.3 1644.4 393.9Q1645.1 391.5 1646.2 389.7Q1647.3 388.0 1649.7 387.1Q1652.1 386.3 1653.9 388.1Q1655.7 390.0 1656.4 392.6Q1657.1 395.2 1655.2 397.2Z"/>
<path d="M1538.8 523.6Q1538.2 525.2 1536.3 524.1Q1534.4 523.0 1533.2 521.8Q1532.1 520.7 1531.5 519.0Q1531.0 517.3 1532.7 516.7Q1534.4 516.2 1536.1 516.5Q1537.7 516.8 1538.6 518.1Q1539.5 519.4 1539.5 520.6Q1539.5 521.9 1538.8 523.6Z"/>
<path d="M1577.7 508.5Q1577.6 509.9 1576.3 510.2Q1575.0 510.5 1573.7 510.2Q1572.4 510.0 1572.1 508.5Q1571.7 507.0 1572.2 505.6Q1572.6 504.2 1573.8 503.2Q1575.0 502.1 1576.2 503.1Q1577.5 504.2 1577.6 505.6Q1577.8 507.0 1577.7 508.5Z"/>
<path d="M1615.6 597.9Q1615.0 599.8 1612.5 599.8Q1610.0 599.8 1608.2 599.2Q1606.5 598.6 1604.6 597.3Q1602.8 596.0 1603.9 594.2Q1605.1 592.3 1607.5 592.2Q1610.0 592.1 1611.8 592.7Q1613.6 593.3 1614.9 594.7Q1616.2 596.0 1615.6 597.9Z"/>
<path d="M1340.9 533.7Q1340.6 535.0 1338.2 536.0Q1335.8 537.0 1333.4 538.0Q1331.1 539.0 1329.7 538.4Q1328.4 537.8 1329.3 536.4Q1330.2 535.0 1332.1 533.9Q1334.1 532.8 1335.8 532.6Q1337.6 532.4 1339.4 532.4Q1341.2 532.4 1340.9 533.7Z"/>
<path d="M1325.5 609.8Q1325.4 611.1 1322.2 609.8Q1319.0 608.4 1316.2 607.1Q1313.3 605.7 1313.4 604.5Q1313.5 603.3 1314.2 602.2Q1314.9 601.2 1318.1 602.1Q1321.2 603.1 1323.3 604.7Q1325.4 606.2 1325.5 607.3Q1325.7 608.4 1325.5 609.8Z"/>
<path d="M1632.8 490.4Q1632.7 491.7 1631.4 491.7Q1630.0 491.7 1628.9 491.4Q1627.9 491.1 1627.1 490.1Q1626.4 489.0 1626.7 487.5Q1627.1 486.1 1628.5 485.7Q1630.0 485.3 1631.1 486.0Q1632.2 486.8 1632.6 487.9Q1632.9 489.0 1632.8 490.4Z"/>
<path d="M1420 752 Q1432 742 1440 735 Q1447 732 1450 738 Q1462 734 1476 733 Q1490 735 1492 744 Q1490 754 1476 755 Q1462 757 1448 753 Q1436 750 1420 752Z"/>
<path d="M1362.2 751.5Q1359.4 753.4 1356.7 753.9Q1354.0 754.4 1351.2 754.0Q1348.4 753.6 1346.8 751.5Q1345.2 749.5 1347.1 747.7Q1349.0 745.9 1351.5 745.0Q1354.0 744.1 1357.0 744.6Q1359.9 745.2 1362.4 747.4Q1364.9 749.5 1362.2 751.5Z"/>
<path d="M1386.3 756.8Q1384.5 757.6 1382.4 757.9Q1380.3 758.2 1377.4 757.4Q1374.5 756.6 1373.5 754.7Q1372.5 752.8 1374.4 751.6Q1376.4 750.4 1379.1 750.3Q1381.9 750.2 1384.3 751.4Q1386.6 752.6 1387.4 754.3Q1388.1 755.9 1386.3 756.8Z"/>
<path d="M1408.1 756.8Q1407.4 757.6 1406.2 758.0Q1405.0 758.3 1403.1 758.4Q1401.2 758.6 1400.6 757.3Q1400.0 756.0 1400.6 754.7Q1401.1 753.4 1403.0 753.6Q1405.0 753.7 1406.7 753.7Q1408.4 753.7 1408.5 754.9Q1408.7 756.0 1408.1 756.8Z"/>
<path d="M1523.8 736.8Q1523.1 739.5 1520.6 739.9Q1518.0 740.4 1515.1 740.3Q1512.3 740.2 1512.6 737.1Q1512.9 734.0 1513.1 731.5Q1513.3 728.9 1515.6 727.6Q1518.0 726.2 1520.8 727.1Q1523.5 728.1 1524.0 731.0Q1524.4 734.0 1523.8 736.8Z"/>
<path d="M1509.1 725.5Q1507.2 725.9 1504.6 724.7Q1502.0 723.5 1500.1 721.1Q1498.2 718.8 1499.1 717.3Q1500.0 715.8 1501.4 715.0Q1502.9 714.2 1505.5 715.2Q1508.1 716.3 1509.9 718.8Q1511.6 721.2 1511.3 723.1Q1511.0 725.0 1509.1 725.5Z"/>
<path d="M1561.7 745.8Q1560.3 747.5 1555.8 747.1Q1551.3 746.6 1547.7 744.4Q1544.2 742.1 1543.0 739.8Q1541.8 737.5 1544.4 736.6Q1547.0 735.7 1550.8 735.8Q1554.5 736.0 1558.2 737.9Q1561.9 739.9 1562.5 742.0Q1563.1 744.1 1561.7 745.8Z"/>
<path d="M1571.8 735.9Q1572.1 737.2 1570.2 738.7Q1568.3 740.2 1565.7 740.2Q1563.0 740.3 1561.8 739.1Q1560.6 738.0 1561.5 736.5Q1562.5 735.0 1564.2 733.6Q1565.8 732.3 1568.2 732.2Q1570.5 732.2 1571.0 733.4Q1571.5 734.6 1571.8 735.9Z"/>
<path d="M1651.7 739.7Q1651.2 741.5 1646.0 742.8Q1640.8 744.1 1635.8 745.4Q1630.8 746.6 1630.6 745.1Q1630.4 743.5 1630.1 742.0Q1629.9 740.5 1634.5 738.8Q1639.0 737.2 1643.1 736.9Q1647.1 736.7 1649.7 737.3Q1652.2 737.9 1651.7 739.7Z"/>
<path d="M1672.6 742.7Q1672.0 744.0 1670.5 745.0Q1668.9 746.0 1666.8 746.4Q1664.7 746.7 1664.2 745.5Q1663.8 744.3 1664.4 743.3Q1665.0 742.3 1666.1 741.3Q1667.2 740.4 1669.1 740.0Q1671.0 739.7 1672.1 740.5Q1673.3 741.4 1672.6 742.7Z"/>
<path d="M1706.5 740.2Q1705.8 741.7 1703.6 743.6Q1701.4 745.6 1697.9 745.8Q1694.3 745.9 1693.0 744.8Q1691.7 743.6 1691.7 741.8Q1691.7 740.0 1695.3 738.8Q1698.9 737.5 1702.3 736.8Q1705.7 736.0 1706.5 737.4Q1707.3 738.7 1706.5 740.2Z"/>
<path d="M1721.1 739.0Q1720.5 741.1 1717.7 742.5Q1715.0 743.9 1711.6 743.0Q1708.2 742.1 1706.8 739.6Q1705.5 737.0 1707.6 735.0Q1709.7 733.0 1712.3 731.9Q1715.0 730.8 1717.6 731.9Q1720.1 733.1 1721.0 735.1Q1721.8 737.0 1721.1 739.0Z"/>
<path d="M1751.3 736.6Q1750.9 739.3 1748.5 741.0Q1746.0 742.8 1743.1 741.5Q1740.2 740.2 1739.2 737.1Q1738.3 734.0 1739.1 730.8Q1739.9 727.5 1743.0 727.4Q1746.0 727.3 1748.1 728.5Q1750.1 729.6 1750.9 731.8Q1751.7 734.0 1751.3 736.6Z"/>
<path d="M1764.0 735.1Q1763.1 736.2 1761.6 736.6Q1760.0 737.0 1758.3 736.7Q1756.6 736.4 1755.7 735.2Q1754.7 734.0 1755.6 732.8Q1756.5 731.5 1758.2 731.2Q1760.0 730.8 1762.1 731.0Q1764.1 731.1 1764.5 732.6Q1764.9 734.0 1764.0 735.1Z"/>
<path d="M1779.9 737.0Q1778.8 738.1 1777.4 738.2Q1776.0 738.4 1774.9 738.0Q1773.8 737.6 1772.5 736.8Q1771.3 736.0 1772.5 735.2Q1773.8 734.4 1774.9 733.5Q1776.0 732.7 1777.5 733.2Q1778.9 733.8 1779.9 734.9Q1781.0 736.0 1779.9 737.0Z"/>
<path d="M1793.6 717.6Q1793.3 720.3 1790.6 720.1Q1788.0 719.9 1786.1 719.3Q1784.2 718.8 1782.9 716.9Q1781.6 715.0 1783.1 713.2Q1784.5 711.5 1786.2 709.5Q1788.0 707.4 1790.0 709.2Q1792.0 711.0 1792.9 713.0Q1793.9 715.0 1793.6 717.6Z"/>
<path d="M1712.4 703.5Q1711.6 705.0 1709.8 706.4Q1708.0 707.9 1705.8 706.8Q1703.5 705.8 1702.3 703.9Q1701.1 702.0 1702.1 699.9Q1703.0 697.8 1705.5 696.7Q1708.0 695.7 1710.8 696.4Q1713.6 697.2 1713.5 699.6Q1713.3 702.0 1712.4 703.5Z"/>
<path d="M1829.8 749.5Q1828.7 751.0 1827.4 752.0Q1826.0 752.9 1824.7 752.0Q1823.3 751.0 1823.0 749.5Q1822.6 748.0 1822.7 746.3Q1822.9 744.5 1824.4 743.5Q1826.0 742.5 1827.3 743.7Q1828.7 745.0 1829.8 746.5Q1830.9 748.0 1829.8 749.5Z"/>
<path d="M1857.3 749.4Q1856.8 751.0 1854.5 752.6Q1852.3 754.2 1849.3 754.3Q1846.4 754.4 1844.7 753.5Q1842.9 752.5 1843.4 750.7Q1844.0 748.8 1846.9 747.6Q1849.9 746.4 1853.1 745.7Q1856.2 745.0 1857.0 746.4Q1857.8 747.9 1857.3 749.4Z"/>
<path d="M1802.6 738.8Q1801.7 739.7 1800.8 740.7Q1800.0 741.6 1798.8 741.0Q1797.6 740.4 1797.6 739.2Q1797.6 738.0 1797.7 737.0Q1797.9 735.9 1799.0 735.4Q1800.0 734.8 1801.3 735.1Q1802.6 735.4 1803.1 736.7Q1803.6 738.0 1802.6 738.8Z"/>
<path d="M1814.5 742.1Q1814.2 743.2 1813.1 743.9Q1812.0 744.6 1810.8 744.0Q1809.6 743.4 1808.9 742.2Q1808.3 741.0 1809.1 740.0Q1809.9 738.9 1811.0 738.3Q1812.0 737.8 1812.9 738.5Q1813.8 739.2 1814.3 740.1Q1814.8 741.0 1814.5 742.1Z"/>
<path d="M2267.5 749.9Q2265.2 752.4 2258.4 753.6Q2251.5 754.9 2244.8 754.6Q2238.1 754.4 2237.3 752.3Q2236.5 750.2 2236.4 747.8Q2236.2 745.5 2243.4 743.9Q2250.5 742.2 2258.0 742.6Q2265.5 743.0 2267.6 745.2Q2269.8 747.5 2267.5 749.9Z"/>
<path d="M2292.7 754.6Q2291.3 756.4 2287.7 755.9Q2284.1 755.5 2280.4 754.6Q2276.6 753.7 2275.6 751.3Q2274.6 748.9 2277.2 747.8Q2279.9 746.6 2282.8 746.9Q2285.8 747.1 2288.8 748.0Q2291.7 748.9 2292.9 750.8Q2294.0 752.8 2292.7 754.6Z"/>
<path d="M2307.3 751.6Q2306.4 753.2 2303.2 753.6Q2300.0 754.0 2297.8 753.1Q2295.7 752.2 2293.2 751.1Q2290.8 750.0 2293.2 748.9Q2295.6 747.8 2297.8 746.6Q2300.0 745.4 2302.4 746.5Q2304.7 747.6 2306.5 748.8Q2308.2 750.0 2307.3 751.6Z"/>
<path d="M2346.1 749.8Q2346.3 752.1 2342.8 753.2Q2339.3 754.3 2336.6 754.5Q2333.9 754.6 2331.6 753.6Q2329.3 752.7 2329.6 750.3Q2330.0 748.0 2333.0 745.9Q2336.1 743.9 2339.7 743.9Q2343.4 743.9 2344.6 745.7Q2345.9 747.6 2346.1 749.8Z"/>
<path d="M2367.8 750.1Q2366.2 752.2 2364.1 753.8Q2362.0 755.3 2360.3 753.4Q2358.6 751.4 2357.7 749.7Q2356.8 748.0 2357.3 745.9Q2357.7 743.7 2359.9 743.2Q2362.0 742.6 2364.4 743.0Q2366.7 743.3 2368.0 745.6Q2369.3 748.0 2367.8 750.1Z"/>
<path d="M2163.8 746.1Q2162.1 747.2 2159.6 747.2Q2157.2 747.1 2155.8 745.1Q2154.4 743.1 2154.8 741.2Q2155.2 739.4 2156.7 738.3Q2158.1 737.2 2160.5 737.0Q2162.8 736.9 2164.7 738.8Q2166.5 740.7 2166.1 742.9Q2165.6 745.1 2163.8 746.1Z"/>
<path d="M2176.2 752.5Q2176.2 755.0 2174.1 756.2Q2172.0 757.4 2170.2 755.8Q2168.4 754.3 2167.6 752.1Q2166.8 750.0 2167.9 748.2Q2169.0 746.4 2170.5 745.1Q2172.0 743.9 2173.8 744.8Q2175.5 745.8 2175.9 747.9Q2176.3 750.0 2176.2 752.5Z"/>
<path d="M2199.3 759.2Q2197.6 759.5 2195.8 760.0Q2193.9 760.5 2192.1 759.2Q2190.3 757.8 2189.9 756.5Q2189.6 755.3 2190.3 754.3Q2191.1 753.2 2193.5 753.6Q2195.9 754.0 2197.8 755.1Q2199.7 756.2 2200.3 757.5Q2201.0 758.9 2199.3 759.2Z"/>
<path d="M2217.9 759.8Q2216.9 760.7 2216.0 761.4Q2215.0 762.1 2213.8 761.5Q2212.6 761.0 2211.7 760.0Q2210.7 759.0 2211.4 757.7Q2212.0 756.4 2213.5 756.4Q2215.0 756.3 2216.2 756.6Q2217.4 756.9 2218.1 758.0Q2218.8 759.0 2217.9 759.8Z"/>
<path d="M2141.6 741.0Q2140.7 742.1 2138.5 742.2Q2136.2 742.3 2134.1 740.7Q2132.0 739.1 2132.3 737.4Q2132.5 735.7 2134.0 734.9Q2135.5 734.1 2137.4 734.5Q2139.3 734.9 2141.3 735.9Q2143.3 737.0 2142.9 738.4Q2142.5 739.9 2141.6 741.0Z"/>
<path d="M2251.5 715.4Q2249.9 716.9 2248.4 718.3Q2247.0 719.7 2245.7 718.2Q2244.3 716.7 2243.5 715.3Q2242.8 714.0 2243.4 712.5Q2243.9 710.9 2245.5 709.7Q2247.0 708.5 2248.6 709.7Q2250.2 710.8 2251.6 712.4Q2253.1 714.0 2251.5 715.4Z"/>
<path d="M2383.8 724.3Q2383.4 725.6 2381.7 725.7Q2380.0 725.8 2378.2 725.8Q2376.5 725.8 2376.4 724.4Q2376.3 723.0 2376.6 721.8Q2376.8 720.5 2378.4 720.2Q2380.0 719.9 2381.4 720.4Q2382.7 720.9 2383.4 721.9Q2384.2 723.0 2383.8 724.3Z"/>
<path d="M1866.2 748.5Q1864.7 749.3 1862.5 748.8Q1860.4 748.4 1858.7 747.0Q1857.0 745.6 1856.7 744.0Q1856.3 742.3 1858.0 741.8Q1859.7 741.3 1861.6 741.6Q1863.5 741.9 1865.5 743.1Q1867.5 744.3 1867.6 746.0Q1867.7 747.7 1866.2 748.5Z"/>
<path d="M1894.4 743.3Q1893.3 744.7 1891.5 745.4Q1889.6 746.2 1888.0 745.0Q1886.3 743.8 1885.5 742.0Q1884.7 740.3 1886.3 739.1Q1887.8 738.0 1889.5 737.2Q1891.1 736.3 1892.9 737.2Q1894.8 738.2 1895.1 740.0Q1895.5 741.9 1894.4 743.3Z"/>
<path d="M1905.1 748.3Q1904.0 749.3 1902.7 749.7Q1901.5 750.1 1899.9 749.9Q1898.3 749.7 1898.4 748.2Q1898.5 746.8 1898.6 745.3Q1898.7 743.8 1900.4 743.4Q1902.0 743.0 1903.0 744.1Q1904.0 745.2 1905.1 746.3Q1906.2 747.3 1905.1 748.3Z"/>
<path d="M1901.9 736.5Q1901.7 737.9 1900.0 738.0Q1898.3 738.2 1897.1 737.7Q1895.9 737.1 1894.6 736.1Q1893.3 735.1 1894.4 733.9Q1895.4 732.7 1896.9 731.9Q1898.3 731.1 1899.6 732.1Q1900.8 733.1 1901.4 734.1Q1902.1 735.1 1901.9 736.5Z"/>
<path d="M1917.2 752.0Q1917.4 753.4 1916.2 753.8Q1915.1 754.2 1914.1 754.3Q1913.1 754.4 1912.0 753.7Q1910.9 753.0 1910.7 751.5Q1910.5 749.9 1911.5 748.8Q1912.5 747.7 1913.8 748.4Q1915.1 749.2 1916.0 749.9Q1916.9 750.6 1917.2 752.0Z"/>
<path d="M1920.8 742.4Q1920.6 744.0 1919.6 744.4Q1918.6 744.8 1917.6 744.3Q1916.6 743.9 1916.5 742.3Q1916.4 740.8 1916.8 739.7Q1917.1 738.6 1917.8 738.1Q1918.6 737.6 1919.2 738.1Q1919.9 738.6 1920.5 739.7Q1921.1 740.8 1920.8 742.4Z"/>
<path d="M1947.5 750.5Q1946.1 751.4 1943.5 751.5Q1940.8 751.6 1938.8 750.5Q1936.9 749.3 1936.1 748.2Q1935.4 747.1 1936.4 746.2Q1937.4 745.4 1939.8 744.9Q1942.1 744.3 1945.2 745.4Q1948.3 746.4 1948.5 748.0Q1948.8 749.5 1947.5 750.5Z"/>
<path d="M1950.6 731.6Q1949.2 732.6 1948.0 733.1Q1946.7 733.5 1944.8 733.6Q1942.9 733.8 1942.6 732.1Q1942.4 730.5 1942.8 729.0Q1943.2 727.5 1944.9 727.3Q1946.7 727.0 1948.2 727.5Q1949.8 727.9 1950.9 729.2Q1952.1 730.5 1950.6 731.6Z"/>
<path d="M1959.6 749.3Q1959.4 750.3 1958.6 751.1Q1957.7 752.0 1956.7 751.8Q1955.6 751.7 1954.5 751.5Q1953.4 751.3 1953.4 750.2Q1953.4 749.1 1954.6 748.6Q1955.9 748.0 1957.0 747.6Q1958.1 747.3 1958.9 747.8Q1959.7 748.3 1959.6 749.3Z"/>
<path d="M1961.2 742.6Q1960.4 743.5 1959.2 743.7Q1957.9 744.0 1956.8 743.6Q1955.8 743.3 1955.0 742.5Q1954.2 741.7 1955.1 741.0Q1956.0 740.3 1956.9 739.4Q1957.9 738.5 1959.4 739.0Q1960.9 739.5 1961.5 740.6Q1962.1 741.7 1961.2 742.6Z"/>
<path d="M1977.0 756.4Q1976.3 757.5 1974.3 757.9Q1972.3 758.3 1970.6 757.7Q1968.9 757.2 1968.0 756.3Q1967.1 755.4 1967.9 754.4Q1968.7 753.4 1970.4 752.6Q1972.1 751.8 1974.1 752.4Q1976.2 752.9 1976.9 754.1Q1977.6 755.2 1977.0 756.4Z"/>
<path d="M1984.0 759.5Q1983.4 761.0 1982.2 761.1Q1980.9 761.3 1980.1 760.3Q1979.4 759.4 1979.5 757.8Q1979.6 756.1 1980.6 755.1Q1981.6 754.1 1982.8 753.5Q1984.0 752.8 1984.8 753.8Q1985.6 754.8 1985.1 756.4Q1984.6 757.9 1984.0 759.5Z"/>
<path d="M1989.1 744.8Q1988.6 745.7 1987.2 746.0Q1985.9 746.3 1984.7 745.9Q1983.5 745.4 1982.8 744.7Q1982.0 744.0 1983.0 743.5Q1983.9 742.9 1984.9 742.5Q1985.9 742.2 1987.1 742.4Q1988.3 742.6 1988.9 743.3Q1989.6 744.0 1989.1 744.8Z"/>
<path d="M1997.1 750.5Q1996.6 751.2 1994.1 751.1Q1991.7 751.0 1989.2 749.9Q1986.6 748.9 1986.5 747.9Q1986.3 746.8 1986.6 745.8Q1986.8 744.8 1990.0 745.3Q1993.1 745.8 1995.2 746.9Q1997.4 748.1 1997.5 748.9Q1997.7 749.8 1997.1 750.5Z"/>
<path d="M2024.6 751.7Q2023.5 752.7 2021.9 752.7Q2020.2 752.8 2019.0 751.8Q2017.8 750.9 2016.9 749.5Q2016.0 748.1 2017.4 747.2Q2018.7 746.2 2020.4 746.1Q2022.2 746.0 2023.7 747.0Q2025.2 747.9 2025.4 749.3Q2025.6 750.8 2024.6 751.7Z"/>
<path d="M2027.8 730.9Q2026.4 731.5 2025.3 732.0Q2024.1 732.6 2022.5 732.3Q2020.9 732.0 2020.7 731.2Q2020.5 730.4 2020.9 729.7Q2021.4 729.0 2022.7 728.9Q2024.1 728.8 2025.4 728.9Q2026.6 729.1 2028.0 729.7Q2029.3 730.4 2027.8 730.9Z"/>
<path d="M2052.5 747.4Q2051.4 747.9 2050.1 748.0Q2048.8 748.0 2047.2 747.2Q2045.5 746.5 2045.8 744.9Q2046.1 743.4 2047.2 742.5Q2048.3 741.7 2050.1 741.4Q2051.8 741.2 2052.8 742.6Q2053.9 744.1 2053.8 745.4Q2053.6 746.8 2052.5 747.4Z"/>
<path d="M2057.9 730.5Q2057.2 731.5 2056.2 732.0Q2055.1 732.6 2054.3 731.8Q2053.6 731.0 2052.9 730.3Q2052.2 729.5 2052.5 728.5Q2052.9 727.4 2054.0 727.5Q2055.1 727.5 2056.3 727.4Q2057.5 727.3 2058.0 728.4Q2058.6 729.5 2057.9 730.5Z"/>
<path d="M2064.3 746.5Q2063.5 747.5 2062.4 747.2Q2061.3 746.9 2060.4 746.1Q2059.5 745.4 2059.6 743.9Q2059.7 742.5 2060.9 742.0Q2062.2 741.5 2063.5 740.8Q2064.9 740.2 2065.4 741.6Q2065.9 743.0 2065.5 744.2Q2065.1 745.4 2064.3 746.5Z"/>
<path d="M2060.3 723.4Q2059.8 724.4 2058.6 724.7Q2057.3 725.0 2056.3 724.5Q2055.2 724.1 2054.5 723.2Q2053.7 722.3 2054.3 721.3Q2054.9 720.3 2056.1 720.1Q2057.3 719.8 2058.6 720.0Q2059.9 720.1 2060.3 721.2Q2060.7 722.3 2060.3 723.4Z"/>
<path d="M2081.5 749.3Q2080.4 750.2 2078.7 750.9Q2077.0 751.6 2075.1 751.2Q2073.3 750.8 2072.3 750.0Q2071.3 749.3 2071.3 748.0Q2071.3 746.8 2073.9 746.3Q2076.5 745.9 2079.3 745.8Q2082.1 745.7 2082.4 747.1Q2082.7 748.4 2081.5 749.3Z"/>
<path d="M2084.4 741.4Q2083.5 742.4 2082.6 743.7Q2081.7 745.0 2080.3 744.3Q2078.9 743.6 2079.1 742.0Q2079.2 740.4 2079.1 738.8Q2079.0 737.3 2080.4 737.0Q2081.7 736.8 2082.9 737.3Q2084.0 737.8 2084.7 739.1Q2085.4 740.4 2084.4 741.4Z"/>
<path d="M2094.6 752.5Q2092.1 752.9 2089.8 753.0Q2087.5 753.0 2084.5 751.9Q2081.6 750.7 2081.2 749.0Q2080.8 747.2 2082.6 746.5Q2084.3 745.7 2087.0 745.5Q2089.7 745.3 2092.4 746.8Q2095.0 748.4 2096.0 750.2Q2097.1 752.1 2094.6 752.5Z"/>
<path d="M2091.0 740.2Q2090.0 740.9 2088.9 741.6Q2087.7 742.2 2086.3 741.7Q2084.8 741.2 2084.5 740.3Q2084.2 739.4 2084.8 738.7Q2085.4 738.0 2086.6 737.4Q2087.7 736.8 2088.9 737.4Q2090.1 738.0 2091.0 738.7Q2092.0 739.4 2091.0 740.2Z"/>
<path d="M2112.9 752.7Q2112.3 754.4 2109.8 755.0Q2107.2 755.6 2105.1 754.9Q2102.9 754.2 2101.4 752.9Q2100.0 751.6 2101.1 750.0Q2102.3 748.5 2104.5 747.4Q2106.8 746.2 2109.2 747.0Q2111.7 747.9 2112.6 749.4Q2113.6 751.0 2112.9 752.7Z"/>
<path d="M2186.3 744.4Q2184.7 745.8 2182.7 745.4Q2180.7 745.1 2180.0 743.5Q2179.3 741.9 2179.6 740.5Q2179.8 739.1 2180.6 737.3Q2181.3 735.6 2183.3 735.8Q2185.2 736.0 2186.3 737.6Q2187.4 739.1 2187.6 741.1Q2187.9 743.1 2186.3 744.4Z"/>
<path d="M2204.4 745.1Q2203.8 745.8 2202.7 746.1Q2201.6 746.4 2200.7 745.7Q2199.8 744.9 2199.7 743.8Q2199.5 742.8 2200.2 741.9Q2200.9 741.1 2202.1 740.9Q2203.3 740.7 2203.9 741.6Q2204.6 742.6 2204.8 743.5Q2205.1 744.4 2204.4 745.1Z"/>
<path d="M2224.3 752.2Q2224.0 753.8 2221.2 754.0Q2218.3 754.1 2215.8 753.0Q2213.2 751.9 2213.7 750.4Q2214.2 748.9 2215.1 747.9Q2215.9 747.0 2217.7 746.7Q2219.6 746.4 2221.7 747.1Q2223.7 747.9 2224.1 749.2Q2224.5 750.6 2224.3 752.2Z"/>
<path d="M1989.8 437.5Q1988.5 438.0 1986.5 437.5Q1984.5 437.1 1984.9 435.1Q1985.2 433.1 1986.5 432.1Q1987.8 431.1 1989.4 431.4Q1990.9 431.7 1991.9 433.1Q1992.9 434.4 1992.0 435.7Q1991.2 437.0 1989.8 437.5Z"/>
<path d="M1460.4 696.7Q1458.4 698.0 1456.5 698.3Q1454.6 698.7 1453.6 696.8Q1452.7 695.0 1452.5 692.4Q1452.4 689.9 1454.7 689.4Q1457.1 688.9 1459.2 689.5Q1461.2 690.2 1461.8 692.8Q1462.4 695.3 1460.4 696.7Z"/>
<path d="M2391.2 508.4Q2391.2 510.5 2389.4 512.2Q2387.5 513.8 2385.5 513.9Q2383.5 513.9 2382.3 512.8Q2381.0 511.6 2382.0 509.6Q2383.0 507.6 2385.1 506.4Q2387.2 505.2 2389.2 505.8Q2391.2 506.3 2391.2 508.4Z"/>
<path d="M2203.1 554.2Q2201.6 556.4 2199.7 558.2Q2197.8 560.0 2194.7 561.2Q2191.6 562.5 2190.8 561.0Q2189.9 559.5 2192.2 557.2Q2194.5 555.0 2197.0 553.9Q2199.5 552.8 2202.0 552.4Q2204.6 552.0 2203.1 554.2Z"/>
<path d="M1704.9 646.0Q1704.4 647.2 1702.0 647.6Q1699.7 648.0 1698.4 647.3Q1697.1 646.7 1696.7 645.8Q1696.3 644.9 1697.6 643.8Q1698.9 642.7 1701.0 643.0Q1703.1 643.3 1704.3 644.1Q1705.4 644.8 1704.9 646.0Z"/>
<path d="M1557.5 726.8Q1556.6 728.3 1554.2 729.3Q1551.7 730.4 1549.4 730.1Q1547.1 729.9 1547.1 728.7Q1547.1 727.4 1548.5 725.9Q1549.8 724.4 1553.0 723.6Q1556.2 722.8 1557.3 724.1Q1558.3 725.4 1557.5 726.8Z"/>
<path d="M1902.8 683.6Q1902.0 684.8 1900.3 684.8Q1898.5 684.8 1897.6 684.3Q1896.6 683.7 1896.5 682.9Q1896.3 682.1 1897.2 681.3Q1898.1 680.6 1899.4 680.8Q1900.6 681.1 1902.1 681.7Q1903.6 682.3 1902.8 683.6Z"/>
<path d="M2229.8 541.4Q2231.1 542.7 2229.9 544.9Q2228.7 547.1 2226.7 546.7Q2224.8 546.2 2223.1 545.7Q2221.4 545.2 2222.3 543.3Q2223.2 541.5 2224.5 539.7Q2225.8 537.9 2227.2 539.0Q2228.6 540.1 2229.8 541.4Z"/>
<path d="M2019.8 483.2Q2019.5 484.5 2018.3 485.6Q2017.1 486.7 2015.8 485.9Q2014.5 485.1 2014.3 483.9Q2014.1 482.7 2014.6 481.5Q2015.1 480.3 2016.7 479.8Q2018.4 479.4 2019.3 480.6Q2020.1 481.9 2019.8 483.2Z"/>
<path d="M1392.9 610.9Q1391.9 611.8 1390.5 611.7Q1389.0 611.5 1388.2 610.3Q1387.3 609.2 1387.7 607.9Q1388.1 606.6 1389.5 606.4Q1390.9 606.2 1392.0 606.9Q1393.0 607.6 1393.5 608.8Q1393.9 610.1 1392.9 610.9Z"/>
<path d="M2087.4 670.6Q2087.8 672.1 2085.9 673.7Q2083.9 675.3 2082.0 674.9Q2080.1 674.5 2079.3 673.3Q2078.5 672.1 2079.4 670.3Q2080.3 668.5 2082.4 668.1Q2084.5 667.6 2085.7 668.3Q2086.9 669.1 2087.4 670.6Z"/>
<path d="M2275.8 561.7Q2274.6 562.4 2273.0 562.3Q2271.5 562.3 2270.8 560.6Q2270.1 559.0 2270.8 557.0Q2271.6 555.1 2273.5 555.8Q2275.3 556.5 2276.3 557.4Q2277.2 558.2 2277.1 559.6Q2277.1 561.0 2275.8 561.7Z"/>
<path d="M1515.7 474.7Q1515.3 475.9 1513.4 475.9Q1511.6 475.8 1509.8 475.3Q1508.1 474.8 1508.1 473.4Q1508.1 472.0 1509.8 471.4Q1511.5 470.8 1513.5 470.9Q1515.5 471.0 1515.8 472.3Q1516.1 473.5 1515.7 474.7Z"/>
<path d="M1914.9 688.7Q1914.9 690.6 1912.3 691.4Q1909.7 692.2 1908.1 691.6Q1906.4 690.9 1906.2 689.7Q1906.1 688.4 1906.5 686.5Q1906.9 684.6 1909.6 684.3Q1912.4 684.0 1913.6 685.4Q1914.9 686.8 1914.9 688.7Z"/>
<path d="M1735.2 575.1Q1735.8 577.4 1734.3 580.0Q1732.8 582.5 1730.2 583.6Q1727.7 584.6 1726.7 582.9Q1725.6 581.1 1726.3 579.1Q1726.9 577.1 1728.4 575.5Q1729.9 573.8 1732.3 573.3Q1734.6 572.8 1735.2 575.1Z"/>
<path d="M2264.5 545.1Q2262.7 545.7 2260.0 544.4Q2257.4 543.2 2257.6 540.9Q2257.7 538.6 2258.5 537.1Q2259.3 535.6 2261.3 536.6Q2263.4 537.6 2265.5 539.1Q2267.6 540.7 2267.0 542.6Q2266.4 544.5 2264.5 545.1Z"/>
<path d="M1318.0 677.8Q1317.4 679.5 1315.4 680.9Q1313.4 682.2 1311.3 681.5Q1309.1 680.8 1309.5 679.2Q1309.9 677.5 1310.5 675.8Q1311.1 674.1 1313.4 674.0Q1315.7 673.9 1317.2 675.0Q1318.7 676.1 1318.0 677.8Z"/>
<path d="M1864.2 405.0Q1864.2 406.6 1863.7 407.9Q1863.3 409.2 1861.8 409.4Q1860.4 409.7 1859.7 408.6Q1859.0 407.5 1858.6 406.0Q1858.2 404.6 1859.7 404.1Q1861.2 403.6 1862.7 403.5Q1864.3 403.5 1864.2 405.0Z"/>
<path d="M1652.0 424.0Q1652.3 425.0 1651.6 426.8Q1651.0 428.5 1649.2 429.4Q1647.4 430.2 1646.3 429.4Q1645.2 428.6 1645.7 426.6Q1646.2 424.6 1648.0 423.7Q1649.7 422.8 1650.7 422.9Q1651.8 423.0 1652.0 424.0Z"/>
<path d="M1799.8 693.4Q1798.1 694.0 1795.7 694.9Q1793.3 695.7 1791.1 694.2Q1788.9 692.7 1790.1 691.5Q1791.2 690.2 1792.9 689.3Q1794.6 688.4 1796.9 689.3Q1799.2 690.2 1800.4 691.4Q1801.6 692.7 1799.8 693.4Z"/>
<path d="M1723.2 583.7Q1722.5 584.6 1720.8 584.8Q1719.1 585.0 1718.0 584.0Q1717.0 583.1 1716.9 582.0Q1716.7 580.9 1718.2 580.4Q1719.7 579.9 1721.6 580.2Q1723.4 580.5 1723.6 581.7Q1723.8 582.8 1723.2 583.7Z"/>
<path d="M2010.0 549.7Q2010.4 550.9 2009.4 551.8Q2008.4 552.7 2007.3 553.1Q2006.3 553.6 2005.3 553.1Q2004.2 552.6 2004.7 551.2Q2005.1 549.9 2006.3 549.5Q2007.4 549.0 2008.6 548.8Q2009.7 548.6 2010.0 549.7Z"/>
<path d="M1561.1 453.4Q1561.0 454.7 1559.6 454.9Q1558.2 455.0 1557.3 454.8Q1556.3 454.6 1556.1 453.8Q1555.9 452.9 1556.2 451.8Q1556.6 450.8 1557.9 450.8Q1559.2 450.7 1560.2 451.4Q1561.3 452.0 1561.1 453.4Z"/>
<path d="M2313.7 615.5Q2311.5 615.5 2309.9 613.8Q2308.2 612.1 2308.9 610.4Q2309.6 608.7 2310.6 607.5Q2311.6 606.3 2313.3 606.9Q2315.1 607.6 2316.3 609.5Q2317.5 611.3 2316.7 613.4Q2315.9 615.4 2313.7 615.5Z"/>
<path d="M1869.4 666.3Q1869.2 668.5 1867.8 669.6Q1866.4 670.8 1864.3 670.8Q1862.2 670.9 1861.2 668.7Q1860.2 666.6 1860.9 664.5Q1861.6 662.3 1863.7 662.4Q1865.8 662.4 1867.7 663.3Q1869.5 664.2 1869.4 666.3Z"/>
<path d="M2328.3 742.2Q2326.3 741.3 2324.8 739.7Q2323.3 738.0 2322.5 736.1Q2321.7 734.3 2322.3 733.0Q2323.0 731.7 2325.2 732.9Q2327.4 734.0 2328.6 736.5Q2329.8 738.9 2330.0 741.0Q2330.3 743.0 2328.3 742.2Z"/>
<path d="M2324.0 524.9Q2323.0 525.7 2320.8 524.9Q2318.6 524.1 2318.0 522.8Q2317.4 521.4 2316.9 519.7Q2316.3 518.0 2318.7 518.8Q2321.1 519.6 2323.3 520.5Q2325.5 521.4 2325.2 522.7Q2324.9 524.1 2324.0 524.9Z"/>
<path d="M2288.7 513.1Q2288.2 514.4 2287.5 515.3Q2286.8 516.2 2285.4 516.0Q2284.1 515.8 2284.0 514.4Q2283.9 513.0 2284.1 511.8Q2284.3 510.6 2285.4 510.8Q2286.5 511.0 2287.8 511.4Q2289.1 511.8 2288.7 513.1Z"/>
<path d="M1348.6 464.8Q1346.5 465.4 1344.8 464.6Q1343.0 463.8 1342.6 461.8Q1342.1 459.8 1343.8 458.8Q1345.5 457.8 1347.1 457.5Q1348.7 457.2 1349.2 458.7Q1349.8 460.1 1350.2 462.1Q1350.7 464.1 1348.6 464.8Z"/>
<path d="M1888.1 439.7Q1887.9 441.0 1886.9 442.1Q1886.0 443.2 1884.9 442.5Q1883.8 441.8 1882.7 441.0Q1881.7 440.2 1882.7 439.2Q1883.7 438.2 1885.0 437.1Q1886.2 436.1 1887.3 437.3Q1888.3 438.4 1888.1 439.7Z"/>
<path d="M1967.5 560.6Q1966.2 561.7 1964.0 562.4Q1961.7 563.1 1960.3 561.4Q1958.9 559.8 1958.5 557.9Q1958.1 556.1 1960.5 555.4Q1962.9 554.7 1965.5 555.3Q1968.1 555.9 1968.4 557.7Q1968.7 559.5 1967.5 560.6Z"/>
<path d="M1442.9 439.9Q1443.3 441.5 1441.2 441.7Q1439.1 441.8 1437.4 441.4Q1435.7 441.0 1435.6 439.4Q1435.6 437.9 1436.9 436.9Q1438.1 435.8 1439.8 435.9Q1441.4 436.0 1441.9 437.1Q1442.5 438.3 1442.9 439.9Z"/>
<path d="M2172.3 698.2Q2172.5 699.6 2171.3 700.1Q2170.2 700.7 2169.3 700.3Q2168.4 699.9 2167.4 699.2Q2166.4 698.5 2167.0 697.4Q2167.7 696.4 2168.8 696.0Q2169.9 695.6 2171.0 696.2Q2172.1 696.8 2172.3 698.2Z"/>
<path d="M2336.3 702.8Q2334.4 703.7 2332.1 701.4Q2329.8 699.0 2328.1 696.5Q2326.3 694.0 2327.9 692.8Q2329.4 691.5 2332.2 691.9Q2335.0 692.3 2336.2 695.0Q2337.3 697.7 2337.7 699.8Q2338.1 701.9 2336.3 702.8Z"/>
<path d="M2176.5 441.1Q2175.3 442.6 2174.0 443.6Q2172.7 444.6 2170.9 444.7Q2169.0 444.9 2168.5 443.6Q2167.9 442.3 2169.0 440.8Q2170.1 439.3 2172.1 439.1Q2174.0 439.0 2175.9 439.3Q2177.8 439.6 2176.5 441.1Z"/>
<path d="M2066.4 478.6Q2066.8 480.2 2065.7 481.0Q2064.6 481.9 2063.5 481.0Q2062.3 480.1 2062.0 478.9Q2061.7 477.7 2062.0 476.7Q2062.4 475.7 2063.4 475.1Q2064.4 474.4 2065.3 475.8Q2066.1 477.1 2066.4 478.6Z"/>
<path d="M2292.1 461.5Q2293.3 464.2 2291.5 467.6Q2289.7 470.9 2286.7 472.3Q2283.8 473.7 2282.2 471.9Q2280.7 470.0 2279.7 467.0Q2278.7 463.9 2281.8 460.7Q2284.9 457.4 2287.9 458.1Q2290.9 458.8 2292.1 461.5Z"/>
<path d="M2020.3 507.9Q2017.7 508.0 2015.2 507.5Q2012.7 507.1 2011.9 504.3Q2011.0 501.4 2013.5 499.8Q2015.9 498.3 2018.0 499.0Q2020.1 499.7 2021.5 501.2Q2022.8 502.7 2022.8 505.3Q2022.8 507.8 2020.3 507.9Z"/>
<path d="M1647.7 641.1Q1647.2 642.1 1646.0 642.8Q1644.8 643.5 1643.8 642.4Q1642.8 641.4 1643.1 640.3Q1643.5 639.2 1644.2 638.3Q1644.9 637.3 1646.5 637.3Q1648.0 637.3 1648.1 638.7Q1648.3 640.2 1647.7 641.1Z"/>
<path d="M2287.2 459.6Q2287.3 461.1 2286.6 462.3Q2286.0 463.4 2284.7 463.7Q2283.5 463.9 2283.0 462.9Q2282.5 461.9 2282.2 460.8Q2281.9 459.6 2283.1 459.1Q2284.3 458.5 2285.7 458.3Q2287.2 458.1 2287.2 459.6Z"/>
<path d="M1586.6 671.5Q1587.2 672.5 1586.3 672.9Q1585.3 673.3 1584.3 673.7Q1583.3 674.1 1582.9 672.9Q1582.6 671.7 1582.3 670.4Q1582.0 669.2 1583.2 668.9Q1584.4 668.7 1585.2 669.6Q1586.0 670.4 1586.6 671.5Z"/>
<path d="M2310.4 596.4Q2310.4 597.6 2309.1 598.6Q2307.7 599.7 2306.2 600.2Q2304.8 600.8 2304.0 600.0Q2303.3 599.3 2304.3 597.9Q2305.3 596.5 2306.7 595.7Q2308.2 594.9 2309.3 595.1Q2310.4 595.3 2310.4 596.4Z"/>
<path d="M2234.4 633.2Q2232.3 633.8 2230.3 634.0Q2228.3 634.2 2226.3 633.1Q2224.4 631.9 2224.8 630.3Q2225.3 628.8 2227.5 628.5Q2229.6 628.3 2232.1 628.6Q2234.5 629.0 2235.5 630.8Q2236.5 632.5 2234.4 633.2Z"/>
<path d="M2098.3 489.2Q2098.2 490.7 2096.4 491.2Q2094.7 491.7 2093.3 490.5Q2092.0 489.4 2091.6 487.6Q2091.3 485.9 2093.1 485.4Q2094.9 485.0 2096.2 485.3Q2097.6 485.6 2098.0 486.7Q2098.4 487.8 2098.3 489.2Z"/>
<path d="M1332.6 570.1Q1331.5 570.5 1330.3 569.9Q1329.0 569.2 1328.1 567.7Q1327.2 566.2 1328.2 565.1Q1329.3 563.9 1331.1 564.1Q1332.9 564.2 1334.1 565.8Q1335.3 567.4 1334.5 568.5Q1333.6 569.7 1332.6 570.1Z"/>
<path d="M1374.1 545.6Q1373.6 547.3 1371.6 547.0Q1369.7 546.7 1367.6 546.2Q1365.4 545.6 1366.4 543.9Q1367.3 542.2 1368.6 541.2Q1369.9 540.3 1371.5 540.8Q1373.1 541.3 1373.9 542.7Q1374.7 544.0 1374.1 545.6Z"/>
<path d="M2068.0 682.3Q2066.8 684.2 2063.7 685.2Q2060.6 686.1 2059.1 684.3Q2057.7 682.6 2056.5 680.9Q2055.3 679.2 2057.8 677.9Q2060.3 676.7 2062.6 677.4Q2065.0 678.1 2067.1 679.2Q2069.2 680.4 2068.0 682.3Z"/>
<path d="M2122.0 577.2Q2121.8 578.0 2121.0 578.1Q2120.1 578.2 2119.2 577.8Q2118.3 577.3 2118.3 576.2Q2118.4 575.1 2119.3 574.6Q2120.3 574.1 2121.2 574.4Q2122.1 574.6 2122.1 575.5Q2122.2 576.4 2122.0 577.2Z"/>
<path d="M2375.0 606.8Q2375.3 608.1 2374.0 608.7Q2372.6 609.4 2371.5 609.2Q2370.4 609.1 2369.3 608.3Q2368.3 607.5 2369.1 606.2Q2370.0 605.0 2371.3 605.0Q2372.5 605.0 2373.5 605.3Q2374.6 605.6 2375.0 606.8Z"/>
<path d="M1751.3 622.9Q1750.0 623.1 1749.0 621.7Q1748.0 620.4 1747.1 619.0Q1746.3 617.6 1747.1 616.8Q1747.9 615.9 1749.3 616.9Q1750.6 617.9 1751.4 619.0Q1752.3 620.0 1752.4 621.4Q1752.6 622.8 1751.3 622.9Z"/>
<path d="M1367.5 540.9Q1367.7 541.9 1367.1 542.8Q1366.6 543.8 1365.5 543.7Q1364.3 543.6 1363.6 542.9Q1362.9 542.1 1362.8 540.7Q1362.8 539.4 1364.2 538.9Q1365.6 538.4 1366.5 539.2Q1367.3 540.0 1367.5 540.9Z"/>
<path d="M2252.8 468.3Q2252.1 469.7 2250.6 470.6Q2249.0 471.5 2247.4 471.7Q2245.7 471.9 2245.5 470.9Q2245.3 469.8 2246.2 468.7Q2247.1 467.6 2248.8 466.9Q2250.5 466.3 2252.0 466.6Q2253.5 467.0 2252.8 468.3Z"/>
<path d="M1550.6 435.5Q1550.5 436.8 1549.5 437.5Q1548.5 438.2 1547.8 437.2Q1547.1 436.2 1546.6 435.3Q1546.2 434.5 1546.6 433.6Q1547.1 432.8 1548.0 433.0Q1548.9 433.1 1549.8 433.7Q1550.8 434.2 1550.6 435.5Z"/>
<path d="M2277.5 509.1Q2276.5 511.6 2273.5 513.0Q2270.5 514.3 2267.3 514.6Q2264.2 514.9 2264.2 512.7Q2264.3 510.6 2265.8 508.6Q2267.3 506.7 2270.3 505.6Q2273.3 504.5 2275.9 505.5Q2278.4 506.5 2277.5 509.1Z"/>
<path d="M1835.3 637.3Q1833.4 637.4 1831.6 636.8Q1829.9 636.3 1828.7 635.0Q1827.5 633.7 1827.4 632.3Q1827.4 630.9 1829.7 631.3Q1831.9 631.7 1833.7 632.9Q1835.6 634.0 1836.4 635.6Q1837.2 637.2 1835.3 637.3Z"/>
<path d="M2255.6 475.2Q2255.8 476.7 2254.7 477.8Q2253.6 478.9 2252.5 478.6Q2251.4 478.4 2250.2 478.0Q2249.0 477.6 2249.4 476.2Q2249.8 474.7 2251.2 473.9Q2252.6 473.2 2254.0 473.5Q2255.4 473.8 2255.6 475.2Z"/>
<path d="M1386.6 692.8Q1384.5 692.0 1382.6 690.9Q1380.8 689.7 1381.1 687.9Q1381.4 686.1 1382.2 684.9Q1383.0 683.7 1384.8 684.5Q1386.7 685.3 1387.3 687.1Q1387.9 688.9 1388.3 691.2Q1388.7 693.5 1386.6 692.8Z"/>
<path d="M1729.9 514.4Q1728.9 515.0 1727.5 513.3Q1726.0 511.7 1725.1 509.9Q1724.2 508.1 1725.2 507.5Q1726.3 506.9 1727.9 507.6Q1729.6 508.2 1731.1 510.1Q1732.6 512.1 1731.7 513.0Q1730.9 513.9 1729.9 514.4Z"/>
<path d="M2187.4 563.6Q2186.8 564.4 2185.2 563.9Q2183.7 563.5 2183.1 562.4Q2182.5 561.4 2182.6 560.4Q2182.6 559.3 2184.0 559.5Q2185.5 559.7 2187.0 560.2Q2188.5 560.8 2188.3 561.8Q2188.0 562.8 2187.4 563.6Z"/>
<path d="M1950.8 556.2Q1950.9 557.2 1950.0 558.7Q1949.0 560.2 1947.6 561.6Q1946.2 563.0 1945.3 562.4Q1944.4 561.9 1945.2 560.0Q1946.0 558.2 1947.4 556.9Q1948.7 555.6 1949.7 555.4Q1950.7 555.3 1950.8 556.2Z"/>
<path d="M1684.6 705.8Q1683.4 706.4 1682.2 705.8Q1681.0 705.2 1680.4 704.1Q1679.9 703.0 1680.6 702.1Q1681.2 701.3 1682.5 700.8Q1683.7 700.3 1684.9 701.4Q1686.2 702.5 1686.0 703.8Q1685.7 705.2 1684.6 705.8Z"/>
<path d="M1729.7 707.0Q1729.5 708.1 1728.2 708.6Q1726.9 709.2 1725.5 709.6Q1724.1 709.9 1724.0 708.9Q1723.8 707.9 1724.5 706.9Q1725.2 706.0 1726.5 705.6Q1727.7 705.3 1728.8 705.6Q1730.0 705.9 1729.7 707.0Z"/>
<path d="M1878.5 715.3Q1877.2 715.4 1875.9 715.4Q1874.5 715.4 1874.2 713.9Q1873.9 712.4 1875.0 711.3Q1876.2 710.2 1877.6 710.1Q1879.1 710.0 1879.4 711.3Q1879.8 712.5 1879.8 713.9Q1879.9 715.2 1878.5 715.3Z"/>
<path d="M1431.1 411.6Q1428.3 413.1 1425.2 411.5Q1422.1 409.8 1419.6 408.0Q1417.1 406.1 1418.2 404.1Q1419.3 402.0 1422.2 401.5Q1425.1 401.0 1427.7 402.8Q1430.2 404.6 1432.0 407.3Q1433.8 410.1 1431.1 411.6Z"/>
<path d="M1627.2 653.6Q1626.9 655.6 1624.5 656.5Q1622.2 657.4 1620.0 657.0Q1617.7 656.5 1617.0 654.6Q1616.3 652.7 1618.1 651.0Q1619.9 649.4 1622.4 649.0Q1624.9 648.7 1626.2 650.2Q1627.5 651.7 1627.2 653.6Z"/>
<path d="M1654.2 684.7Q1654.2 686.8 1651.9 688.1Q1649.6 689.4 1647.9 690.0Q1646.2 690.6 1645.1 689.8Q1643.9 689.0 1644.6 686.9Q1645.3 684.9 1647.6 683.9Q1649.9 683.0 1652.1 682.8Q1654.2 682.6 1654.2 684.7Z"/>
<path d="M2092.1 489.0Q2090.8 489.6 2089.0 487.9Q2087.2 486.2 2085.1 484.0Q2083.1 481.8 2084.5 481.0Q2086.0 480.1 2088.1 481.4Q2090.3 482.6 2092.4 484.2Q2094.6 485.8 2094.0 487.1Q2093.3 488.4 2092.1 489.0Z"/>
<path d="M1606.2 454.0Q1606.1 454.9 1605.5 456.1Q1604.9 457.2 1603.2 457.4Q1601.6 457.6 1600.8 456.3Q1600.0 455.0 1601.2 453.9Q1602.5 452.8 1603.6 452.0Q1604.8 451.1 1605.6 452.0Q1606.4 453.0 1606.2 454.0Z"/>
<path d="M1770.8 612.6Q1771.9 613.9 1770.5 615.5Q1769.2 617.1 1767.6 616.6Q1766.0 616.2 1765.0 615.4Q1764.1 614.6 1764.3 613.1Q1764.5 611.6 1766.0 610.4Q1767.5 609.3 1768.6 610.3Q1769.7 611.4 1770.8 612.6Z"/>
<path d="M1757.2 706.5Q1757.3 708.7 1754.1 710.1Q1751.0 711.5 1748.8 710.2Q1746.7 708.8 1746.0 707.1Q1745.4 705.4 1747.0 703.5Q1748.6 701.5 1751.8 701.0Q1755.1 700.5 1756.1 702.4Q1757.2 704.3 1757.2 706.5Z"/>
<path d="M2379.1 535.3Q2377.7 536.1 2376.0 534.8Q2374.3 533.4 2373.4 531.5Q2372.5 529.7 2373.7 528.3Q2374.9 527.0 2376.8 527.8Q2378.7 528.7 2379.5 530.1Q2380.3 531.5 2380.4 533.0Q2380.5 534.4 2379.1 535.3Z"/>
<path d="M2275.5 491.4Q2275.8 492.9 2274.5 493.7Q2273.2 494.6 2271.9 494.2Q2270.5 493.8 2270.2 492.6Q2269.8 491.3 2270.3 490.3Q2270.8 489.2 2272.1 488.1Q2273.5 486.9 2274.4 488.5Q2275.2 490.0 2275.5 491.4Z"/>
<path d="M1650.1 428.8Q1648.7 428.8 1647.7 428.1Q1646.7 427.4 1646.0 426.6Q1645.3 425.7 1645.6 424.9Q1645.9 424.1 1647.2 424.3Q1648.4 424.4 1649.2 425.4Q1650.0 426.3 1650.7 427.5Q1651.4 428.8 1650.1 428.8Z"/>
<path d="M1983.1 682.4Q1981.5 682.6 1980.1 682.2Q1978.6 681.8 1978.5 680.2Q1978.4 678.7 1979.6 678.0Q1980.8 677.3 1981.9 677.4Q1982.9 677.6 1983.5 678.3Q1984.2 679.1 1984.5 680.7Q1984.7 682.2 1983.1 682.4Z"/>
<path d="M1443.3 424.4Q1444.1 425.4 1443.2 426.1Q1442.2 426.8 1441.3 427.1Q1440.5 427.5 1439.4 426.9Q1438.3 426.4 1438.7 425.3Q1439.0 424.2 1439.7 423.6Q1440.5 423.1 1441.5 423.3Q1442.5 423.4 1443.3 424.4Z"/>
<path d="M2318.9 570.0Q2316.9 569.9 2315.0 569.9Q2313.1 569.9 2312.7 568.2Q2312.2 566.5 2312.6 565.2Q2313.0 563.8 2314.8 564.3Q2316.6 564.7 2318.5 565.6Q2320.4 566.5 2320.6 568.3Q2320.8 570.2 2318.9 570.0Z"/>
<path d="M1340.2 596.5Q1340.0 597.9 1338.4 597.9Q1336.7 598.0 1335.7 597.1Q1334.7 596.1 1334.9 595.0Q1335.0 593.8 1336.0 593.3Q1337.0 592.9 1338.4 592.7Q1339.7 592.5 1340.0 593.8Q1340.3 595.0 1340.2 596.5Z"/>
<path d="M1960.0 491.9Q1959.0 492.4 1957.4 491.5Q1955.9 490.6 1955.1 489.6Q1954.4 488.7 1954.7 488.1Q1955.0 487.4 1956.2 487.4Q1957.4 487.4 1958.8 488.3Q1960.3 489.2 1960.7 490.3Q1961.1 491.5 1960.0 491.9Z"/>
<path d="M1323.5 572.2Q1322.0 572.4 1321.0 572.1Q1320.0 571.8 1319.9 570.7Q1319.9 569.5 1320.5 568.1Q1321.1 566.7 1322.6 566.6Q1324.1 566.4 1324.7 567.7Q1325.2 568.9 1325.1 570.5Q1325.0 572.1 1323.5 572.2Z"/>
<path d="M1829.4 716.6Q1830.0 718.0 1828.8 719.6Q1827.6 721.2 1826.0 720.7Q1824.3 720.2 1823.7 719.1Q1823.0 718.1 1823.3 716.7Q1823.6 715.4 1825.1 714.0Q1826.6 712.7 1827.7 714.0Q1828.8 715.2 1829.4 716.6Z"/>
<path d="M1476.6 616.3Q1475.6 616.9 1473.3 616.7Q1471.0 616.6 1469.6 615.5Q1468.2 614.4 1467.7 613.1Q1467.1 611.9 1469.6 611.8Q1472.0 611.6 1473.9 612.7Q1475.7 613.8 1476.6 614.7Q1477.6 615.7 1476.6 616.3Z"/>
<path d="M2117.9 651.9Q2117.7 653.1 2115.8 653.8Q2113.8 654.6 2112.1 654.1Q2110.4 653.7 2110.7 652.5Q2111.1 651.4 2111.7 650.1Q2112.4 648.9 2114.4 648.8Q2116.5 648.8 2117.2 649.7Q2118.0 650.6 2117.9 651.9Z"/>
<path d="M1957.0 603.4Q1955.8 603.2 1954.7 602.6Q1953.7 601.9 1953.6 600.5Q1953.4 599.1 1954.7 598.8Q1956.0 598.4 1957.2 598.6Q1958.5 598.7 1958.4 600.0Q1958.4 601.2 1958.3 602.4Q1958.1 603.6 1957.0 603.4Z"/>
<path d="M2388.2 567.8Q2387.3 568.3 2386.4 568.0Q2385.5 567.7 2385.1 566.7Q2384.7 565.8 2385.4 564.8Q2386.0 563.8 2387.1 563.7Q2388.2 563.6 2388.7 564.4Q2389.3 565.2 2389.2 566.2Q2389.1 567.2 2388.2 567.8Z"/>
<path d="M1685.0 577.2Q1684.1 577.5 1682.8 577.0Q1681.4 576.5 1681.5 575.2Q1681.6 574.0 1681.9 573.0Q1682.2 571.9 1683.7 572.0Q1685.2 572.1 1686.0 573.5Q1686.8 574.9 1686.4 575.9Q1686.0 576.9 1685.0 577.2Z"/>
<path d="M1574.4 674.9Q1572.2 676.7 1570.4 675.0Q1568.5 673.3 1569.8 671.0Q1571.0 668.8 1572.6 667.4Q1574.2 666.0 1576.8 665.6Q1579.5 665.3 1580.4 667.7Q1581.4 670.1 1579.0 671.6Q1576.6 673.2 1574.4 674.9Z"/>
<path d="M1551.9 500.5Q1550.7 501.2 1549.7 500.0Q1548.8 498.7 1547.6 497.5Q1546.5 496.2 1547.9 495.7Q1549.2 495.2 1550.5 495.0Q1551.7 494.8 1552.9 495.9Q1554.1 497.1 1553.7 498.4Q1553.2 499.8 1551.9 500.5Z"/>
<path d="M2106.7 471.9Q2104.6 472.5 2101.3 470.7Q2098.0 468.9 2096.8 466.4Q2095.5 463.8 2097.1 463.1Q2098.7 462.4 2100.8 463.0Q2102.9 463.5 2105.6 465.3Q2108.3 467.1 2108.5 469.2Q2108.7 471.4 2106.7 471.9Z"/>
<path d="M1499.0 598.0Q1498.2 598.0 1497.6 597.4Q1497.0 596.7 1496.4 595.8Q1495.9 594.8 1496.7 594.4Q1497.4 594.0 1498.4 594.3Q1499.3 594.6 1499.7 595.5Q1500.0 596.5 1499.9 597.3Q1499.8 598.1 1499.0 598.0Z"/>
<path d="M1651.1 538.2Q1650.7 539.1 1649.8 539.4Q1648.9 539.7 1648.2 539.4Q1647.4 539.2 1647.2 538.4Q1647.1 537.7 1647.5 536.9Q1647.9 536.0 1648.9 536.0Q1650.0 536.0 1650.8 536.7Q1651.6 537.3 1651.1 538.2Z"/>
<path d="M1848.9 442.4Q1847.7 442.3 1846.2 441.5Q1844.6 440.8 1844.3 439.5Q1844.0 438.3 1844.3 437.4Q1844.6 436.5 1846.0 437.1Q1847.5 437.7 1848.5 438.9Q1849.6 440.1 1849.8 441.3Q1850.1 442.4 1848.9 442.4Z"/>
<path d="M1619.2 550.8Q1618.5 551.6 1617.4 551.2Q1616.2 550.9 1615.0 550.1Q1613.7 549.3 1614.7 548.3Q1615.6 547.2 1616.7 546.8Q1617.8 546.3 1618.8 547.0Q1619.8 547.7 1619.9 548.8Q1620.0 549.9 1619.2 550.8Z"/>
<path d="M2206.0 688.8Q2206.0 690.5 2204.4 690.3Q2202.8 690.0 2201.8 689.4Q2200.9 688.8 2200.2 687.4Q2199.6 686.0 2200.7 684.7Q2201.8 683.4 2203.7 683.4Q2205.6 683.4 2205.8 685.3Q2206.0 687.1 2206.0 688.8Z"/>
<path d="M2202.5 695.1Q2201.7 696.7 2199.6 698.1Q2197.6 699.4 2195.2 698.9Q2192.9 698.3 2191.8 696.6Q2190.7 695.0 2192.8 693.0Q2194.9 691.0 2198.1 690.6Q2201.4 690.2 2202.4 691.9Q2203.4 693.5 2202.5 695.1Z"/>
<path d="M1745.6 676.6Q1745.5 678.8 1744.1 681.1Q1742.8 683.3 1740.6 684.7Q1738.4 686.0 1737.7 684.6Q1736.9 683.2 1737.4 681.2Q1738.0 679.2 1739.7 677.6Q1741.5 676.0 1743.6 675.2Q1745.7 674.5 1745.6 676.6Z"/>
<path d="M2216.6 572.9Q2216.4 573.9 2215.3 575.0Q2214.2 576.2 2213.1 576.3Q2212.0 576.4 2211.2 576.1Q2210.3 575.9 2211.2 574.7Q2212.0 573.4 2213.4 572.5Q2214.9 571.5 2215.8 571.7Q2216.8 571.9 2216.6 572.9Z"/>
<path d="M1443.5 560.3Q1442.3 560.1 1441.3 559.8Q1440.4 559.5 1439.9 558.5Q1439.4 557.5 1439.8 556.6Q1440.2 555.6 1441.5 555.9Q1442.8 556.2 1443.3 557.3Q1443.7 558.3 1444.2 559.4Q1444.6 560.5 1443.5 560.3Z"/>
<path d="M2398.9 589.2Q2398.8 590.2 2398.2 591.3Q2397.6 592.5 2396.6 592.7Q2395.6 592.8 2395.1 592.5Q2394.5 592.1 2395.0 591.2Q2395.6 590.2 2396.4 589.5Q2397.1 588.7 2398.0 588.5Q2399.0 588.3 2398.9 589.2Z"/>
<path d="M1803.8 590.9Q1802.5 591.4 1801.1 591.3Q1799.8 591.2 1799.8 589.8Q1799.9 588.3 1800.5 586.9Q1801.0 585.5 1802.7 584.9Q1804.5 584.4 1805.3 585.9Q1806.2 587.3 1805.7 588.9Q1805.1 590.5 1803.8 590.9Z"/>
<path d="M1442.7 679.8Q1441.5 680.2 1440.4 680.3Q1439.2 680.3 1439.2 679.1Q1439.1 678.0 1439.5 677.1Q1439.9 676.2 1440.9 675.8Q1441.9 675.4 1443.2 675.8Q1444.5 676.2 1444.2 677.8Q1444.0 679.3 1442.7 679.8Z"/>
<path d="M2012.8 685.9Q2012.8 686.8 2011.8 687.6Q2010.8 688.3 2009.5 688.7Q2008.3 689.0 2008.3 688.0Q2008.3 687.1 2008.3 686.0Q2008.4 685.0 2009.7 684.6Q2011.0 684.3 2011.9 684.6Q2012.7 685.0 2012.8 685.9Z"/>
<path d="M1463.2 733.3Q1462.5 733.7 1461.5 733.4Q1460.4 733.0 1459.8 732.2Q1459.2 731.3 1459.6 730.7Q1460.0 730.0 1461.0 730.0Q1462.0 729.9 1463.0 730.6Q1463.9 731.3 1463.9 732.1Q1463.9 732.9 1463.2 733.3Z"/>
<path d="M1368.2 682.5Q1367.9 683.5 1367.0 684.1Q1366.0 684.7 1365.3 684.1Q1364.6 683.6 1364.2 683.0Q1363.8 682.4 1364.1 681.4Q1364.4 680.4 1365.5 680.4Q1366.7 680.5 1367.5 681.0Q1368.4 681.5 1368.2 682.5Z"/>
<path d="M1887.2 646.1Q1888.4 647.4 1887.3 648.7Q1886.2 650.0 1884.9 650.6Q1883.6 651.3 1882.6 650.4Q1881.5 649.4 1881.5 648.1Q1881.5 646.8 1882.3 645.6Q1883.1 644.4 1884.6 644.6Q1886.1 644.8 1887.2 646.1Z"/>
<path d="M1955.0 506.7Q1954.3 508.1 1953.4 509.1Q1952.5 510.1 1951.0 509.7Q1949.5 509.2 1948.8 507.5Q1948.2 505.8 1949.2 504.5Q1950.3 503.3 1951.7 503.4Q1953.1 503.6 1954.4 504.5Q1955.7 505.4 1955.0 506.7Z"/>
<path d="M1410.2 595.1Q1409.3 595.6 1408.2 595.6Q1407.1 595.6 1407.0 594.3Q1406.8 593.1 1407.7 592.1Q1408.6 591.1 1409.5 591.4Q1410.4 591.6 1411.3 592.0Q1412.3 592.4 1411.6 593.5Q1411.0 594.6 1410.2 595.1Z"/>
<path d="M1366.4 613.7Q1365.2 614.6 1363.8 613.9Q1362.4 613.1 1361.4 612.0Q1360.4 611.0 1360.8 609.5Q1361.2 608.0 1362.9 608.1Q1364.6 608.1 1365.7 609.1Q1366.8 610.0 1367.2 611.4Q1367.6 612.8 1366.4 613.7Z"/>
<path d="M1995.5 710.2Q1994.4 712.4 1992.6 713.2Q1990.8 714.0 1989.1 712.8Q1987.4 711.5 1987.6 709.4Q1987.7 707.3 1988.7 705.8Q1989.7 704.2 1991.8 703.9Q1994.0 703.5 1995.3 705.8Q1996.6 708.1 1995.5 710.2Z"/>
<path d="M1393.4 443.1Q1391.1 444.3 1388.4 444.2Q1385.8 444.1 1384.5 441.6Q1383.2 439.2 1384.9 437.5Q1386.6 435.8 1388.7 434.1Q1390.9 432.4 1392.2 434.9Q1393.5 437.3 1394.6 439.6Q1395.7 441.9 1393.4 443.1Z"/>
<path d="M1666.5 447.8Q1666.1 448.8 1665.0 448.8Q1663.9 448.8 1662.9 448.7Q1661.9 448.6 1661.9 447.8Q1661.8 446.9 1662.5 446.3Q1663.2 445.7 1664.3 445.5Q1665.4 445.3 1666.1 446.1Q1666.8 446.8 1666.5 447.8Z"/>
<path d="M1871.2 564.4Q1870.3 565.3 1868.2 565.0Q1866.2 564.7 1864.5 563.9Q1862.8 563.1 1862.7 561.9Q1862.5 560.7 1864.6 560.3Q1866.7 559.9 1868.9 560.7Q1871.0 561.4 1871.5 562.5Q1872.0 563.6 1871.2 564.4Z"/>
<path d="M1938.2 686.4Q1937.0 686.6 1935.5 686.4Q1934.0 686.1 1932.8 685.0Q1931.5 683.9 1932.1 683.3Q1932.8 682.6 1934.2 682.6Q1935.6 682.6 1936.7 683.5Q1937.9 684.4 1938.6 685.3Q1939.3 686.3 1938.2 686.4Z"/>
<path d="M2315.9 672.1Q2315.4 673.3 2314.0 674.2Q2312.5 675.0 2311.0 674.2Q2309.5 673.3 2309.7 671.9Q2309.9 670.5 2310.9 669.6Q2311.9 668.7 2313.2 668.9Q2314.4 669.2 2315.5 670.0Q2316.5 670.8 2315.9 672.1Z"/>
<path d="M2130.8 437.0Q2129.8 436.8 2128.8 435.9Q2127.8 435.0 2127.6 433.7Q2127.4 432.4 2128.1 431.9Q2128.9 431.5 2130.2 431.9Q2131.4 432.3 2131.8 433.9Q2132.2 435.5 2132.0 436.4Q2131.7 437.3 2130.8 437.0Z"/>
<path d="M1642.5 484.3Q1641.6 484.9 1640.4 485.3Q1639.3 485.8 1638.4 485.0Q1637.4 484.3 1637.2 483.2Q1637.1 482.2 1638.3 481.5Q1639.6 480.9 1641.0 481.4Q1642.4 481.8 1642.9 482.8Q1643.3 483.7 1642.5 484.3Z"/>
<path d="M1711.1 725.9Q1708.3 725.3 1706.2 724.4Q1704.1 723.5 1703.4 721.6Q1702.7 719.7 1702.8 717.5Q1703.0 715.3 1705.9 716.2Q1708.8 717.0 1710.3 719.2Q1711.8 721.4 1712.9 724.0Q1713.9 726.6 1711.1 725.9Z"/>
<path d="M1923.4 488.6Q1923.5 489.5 1922.4 489.9Q1921.2 490.3 1920.1 490.6Q1918.9 490.8 1918.5 490.0Q1918.1 489.1 1918.9 488.2Q1919.6 487.3 1920.7 487.0Q1921.9 486.7 1922.6 487.2Q1923.3 487.7 1923.4 488.6Z"/>
<path d="M2113.0 583.4Q2111.7 584.6 2109.0 584.6Q2106.2 584.7 2104.5 582.8Q2102.7 580.9 2103.4 579.1Q2104.1 577.4 2106.4 577.0Q2108.8 576.6 2111.4 577.5Q2114.1 578.5 2114.2 580.3Q2114.2 582.2 2113.0 583.4Z"/>
<path d="M1692.2 473.6Q1692.6 475.6 1690.0 475.9Q1687.4 476.2 1684.7 476.6Q1682.1 477.0 1681.9 474.9Q1681.7 472.9 1683.7 471.7Q1685.7 470.6 1687.9 469.4Q1690.2 468.1 1691.0 469.9Q1691.7 471.7 1692.2 473.6Z"/>
<path d="M1424.9 591.5Q1425.2 592.4 1424.0 592.9Q1422.8 593.3 1422.1 592.8Q1421.4 592.2 1421.0 591.6Q1420.6 590.9 1421.3 590.4Q1421.9 589.8 1423.0 589.3Q1424.0 588.8 1424.3 589.7Q1424.6 590.6 1424.9 591.5Z"/>
<path d="M2372.9 732.0Q2372.2 733.3 2370.0 732.8Q2367.7 732.2 2365.9 730.7Q2364.2 729.1 2364.8 727.5Q2365.5 725.9 2367.8 726.4Q2370.1 726.9 2371.5 727.6Q2373.0 728.4 2373.2 729.6Q2373.5 730.7 2372.9 732.0Z"/>
<path d="M1523.4 635.6Q1523.0 636.5 1521.8 636.6Q1520.6 636.7 1519.4 636.0Q1518.2 635.3 1518.2 633.9Q1518.2 632.5 1519.6 631.7Q1521.0 630.9 1522.6 631.5Q1524.3 632.0 1524.1 633.4Q1523.9 634.7 1523.4 635.6Z"/>
<path d="M2320.5 692.8Q2319.2 694.6 2317.1 694.7Q2315.0 694.8 2313.2 693.3Q2311.4 691.8 2312.8 690.0Q2314.2 688.2 2315.5 686.9Q2316.8 685.5 2319.0 685.9Q2321.3 686.3 2321.5 688.7Q2321.8 691.1 2320.5 692.8Z"/>
<path d="M1350.6 439.0Q1350.1 441.0 1348.2 442.6Q1346.3 444.1 1343.7 443.0Q1341.0 441.9 1340.6 438.9Q1340.2 435.8 1342.1 433.7Q1344.1 431.6 1346.4 432.7Q1348.6 433.8 1349.8 435.4Q1351.0 437.0 1350.6 439.0Z"/>
<path d="M1718.8 724.3Q1718.2 725.5 1716.5 725.8Q1714.8 726.1 1712.7 726.2Q1710.6 726.3 1711.0 724.9Q1711.3 723.4 1712.4 722.2Q1713.5 721.0 1715.6 721.0Q1717.7 720.9 1718.5 722.0Q1719.4 723.1 1718.8 724.3Z"/>
<path d="M1679.5 628.8Q1679.0 630.1 1677.4 630.9Q1675.8 631.8 1674.4 630.9Q1673.0 630.0 1671.9 628.5Q1670.7 627.0 1672.8 626.2Q1674.9 625.4 1676.9 624.9Q1678.8 624.4 1679.4 625.9Q1680.0 627.5 1679.5 628.8Z"/>
<path d="M1977.8 600.8Q1978.2 602.3 1977.2 603.5Q1976.2 604.7 1974.4 605.0Q1972.6 605.4 1971.5 603.7Q1970.3 602.0 1970.7 600.0Q1971.1 598.1 1973.0 597.6Q1974.8 597.1 1976.1 598.2Q1977.4 599.3 1977.8 600.8Z"/>
<path d="M1399.8 659.1Q1399.5 659.9 1398.1 659.6Q1396.6 659.3 1395.8 658.9Q1395.0 658.4 1394.3 657.5Q1393.7 656.7 1395.2 656.1Q1396.6 655.6 1398.1 656.2Q1399.5 656.9 1399.8 657.6Q1400.0 658.4 1399.8 659.1Z"/>
<path d="M2044.5 480.8Q2042.1 482.2 2039.9 483.9Q2037.7 485.6 2035.8 483.3Q2033.8 481.0 2035.3 478.6Q2036.9 476.3 2038.3 475.4Q2039.8 474.4 2042.4 473.9Q2045.0 473.4 2045.9 476.4Q2046.8 479.4 2044.5 480.8Z"/>
<path d="M1774.0 455.9Q1772.7 455.8 1771.6 455.4Q1770.4 455.0 1771.0 453.9Q1771.7 452.7 1772.3 451.8Q1772.9 450.9 1774.2 451.0Q1775.5 451.1 1775.5 452.3Q1775.5 453.5 1775.3 454.8Q1775.2 456.0 1774.0 455.9Z"/>
<path d="M1464.8 630.5Q1463.3 632.5 1460.9 633.4Q1458.4 634.3 1454.7 633.8Q1451.1 633.3 1452.6 630.5Q1454.1 627.8 1455.9 626.3Q1457.6 624.7 1460.4 624.7Q1463.3 624.7 1464.8 626.6Q1466.4 628.6 1464.8 630.5Z"/>
<path d="M1368.8 504.7Q1367.7 505.5 1366.0 505.9Q1364.4 506.3 1363.4 505.3Q1362.5 504.4 1362.7 503.7Q1362.9 502.9 1363.8 502.1Q1364.7 501.4 1365.9 502.0Q1367.2 502.6 1368.6 503.3Q1370.0 504.0 1368.8 504.7Z"/>
<path d="M2317.3 729.3Q2316.4 730.7 2314.6 732.1Q2312.8 733.5 2310.2 733.5Q2307.6 733.4 2307.8 731.8Q2308.0 730.1 2309.3 728.6Q2310.7 727.2 2313.2 726.4Q2315.8 725.6 2317.0 726.8Q2318.2 727.9 2317.3 729.3Z"/>
<path d="M1820.1 467.0Q1818.6 466.8 1817.0 466.1Q1815.4 465.4 1814.3 464.3Q1813.2 463.1 1812.9 461.9Q1812.6 460.7 1814.8 461.6Q1817.0 462.5 1818.4 463.6Q1819.8 464.7 1820.7 465.9Q1821.5 467.1 1820.1 467.0Z"/>
<path d="M1553.0 667.9Q1553.1 669.1 1552.6 670.9Q1552.1 672.8 1550.7 673.2Q1549.2 673.6 1548.0 673.5Q1546.8 673.4 1547.5 671.6Q1548.2 669.7 1549.5 668.1Q1550.9 666.5 1551.9 666.6Q1553.0 666.8 1553.0 667.9Z"/>
<path d="M1586.7 652.7Q1586.0 653.9 1584.6 653.9Q1583.1 653.9 1582.3 652.9Q1581.5 651.9 1581.2 650.3Q1581.0 648.8 1582.6 648.6Q1584.1 648.5 1585.7 648.5Q1587.3 648.5 1587.4 650.0Q1587.4 651.6 1586.7 652.7Z"/>
<path d="M2239.7 701.5Q2238.2 701.9 2237.2 700.5Q2236.2 699.1 2235.7 697.8Q2235.3 696.5 2236.2 695.8Q2237.1 695.2 2238.5 695.3Q2239.9 695.5 2240.5 696.9Q2241.1 698.3 2241.1 699.7Q2241.1 701.1 2239.7 701.5Z"/>
<path d="M2008.4 615.1Q2007.6 616.0 2006.4 616.1Q2005.3 616.2 2004.7 615.6Q2004.2 614.9 2003.8 614.1Q2003.4 613.3 2004.4 612.9Q2005.3 612.4 2006.5 612.4Q2007.6 612.4 2008.4 613.3Q2009.2 614.2 2008.4 615.1Z"/>
<path d="M1999.8 555.4Q2000.0 556.2 1999.8 557.2Q1999.6 558.2 1998.6 558.1Q1997.7 558.0 1997.0 557.7Q1996.2 557.3 1996.5 556.4Q1996.7 555.5 1997.3 554.6Q1997.9 553.7 1998.7 554.2Q1999.6 554.6 1999.8 555.4Z"/>
<path d="M1749.2 414.7Q1748.8 416.1 1746.5 416.4Q1744.2 416.7 1742.6 416.2Q1741.0 415.8 1741.1 414.7Q1741.2 413.7 1742.2 412.5Q1743.2 411.3 1745.3 411.5Q1747.4 411.7 1748.5 412.6Q1749.5 413.4 1749.2 414.7Z"/>
<path d="M1687.2 465.8Q1686.3 467.0 1685.2 467.8Q1684.0 468.6 1682.3 468.9Q1680.6 469.2 1680.6 468.0Q1680.7 466.8 1681.5 465.8Q1682.4 464.8 1684.1 463.9Q1685.9 463.0 1687.0 463.8Q1688.0 464.7 1687.2 465.8Z"/>
<path d="M1443.2 558.9Q1444.0 560.7 1443.8 562.8Q1443.5 564.9 1441.3 565.2Q1439.1 565.6 1436.9 564.5Q1434.7 563.4 1434.5 560.9Q1434.3 558.4 1436.2 557.2Q1438.2 556.0 1440.3 556.5Q1442.4 557.1 1443.2 558.9Z"/>
<path d="M1384.1 625.9Q1384.0 626.7 1382.9 627.2Q1381.9 627.7 1381.1 627.2Q1380.3 626.6 1379.8 625.9Q1379.4 625.2 1380.2 624.5Q1381.0 623.7 1382.2 623.6Q1383.4 623.5 1383.8 624.3Q1384.1 625.0 1384.1 625.9Z"/>
<path d="M2040.8 551.8Q2039.2 552.6 2037.2 551.0Q2035.3 549.3 2034.8 547.4Q2034.4 545.5 2035.5 544.5Q2036.6 543.6 2038.3 544.0Q2040.0 544.5 2040.8 546.0Q2041.6 547.5 2042.0 549.2Q2042.5 550.9 2040.8 551.8Z"/>
<path d="M1489.1 668.2Q1489.6 669.2 1488.9 670.2Q1488.2 671.3 1486.9 671.6Q1485.6 671.9 1485.3 670.8Q1484.9 669.6 1484.9 668.7Q1484.9 667.7 1485.8 666.7Q1486.7 665.7 1487.6 666.5Q1488.6 667.3 1489.1 668.2Z"/>
<path d="M1373.2 414.1Q1371.0 413.3 1369.4 411.6Q1367.8 409.9 1367.0 407.6Q1366.3 405.4 1367.6 404.5Q1368.9 403.6 1370.6 405.1Q1372.4 406.7 1374.5 408.7Q1376.6 410.7 1376.0 412.8Q1375.3 414.8 1373.2 414.1Z"/>
<path d="M1895.3 563.9Q1893.7 564.0 1892.1 562.5Q1890.4 561.0 1890.0 559.2Q1889.6 557.3 1890.2 555.6Q1890.8 553.9 1892.9 555.5Q1895.0 557.2 1896.8 559.1Q1898.6 561.0 1897.7 562.4Q1896.8 563.7 1895.3 563.9Z"/>
<path d="M2245.4 580.1Q2244.1 580.9 2242.9 581.3Q2241.7 581.7 2240.4 581.3Q2239.0 580.9 2238.9 579.8Q2238.8 578.8 2240.1 578.1Q2241.5 577.5 2243.0 577.6Q2244.5 577.7 2245.6 578.6Q2246.7 579.4 2245.4 580.1Z"/>
<path d="M2333.0 703.5Q2333.4 704.3 2333.2 706.0Q2333.0 707.7 2331.5 708.2Q2329.9 708.7 2329.4 707.8Q2328.8 706.9 2328.4 705.6Q2327.9 704.3 2329.4 702.9Q2330.8 701.5 2331.7 702.1Q2332.7 702.7 2333.0 703.5Z"/>
<path d="M1949.6 718.3Q1948.4 718.9 1946.9 718.3Q1945.4 717.6 1944.2 716.6Q1943.0 715.6 1943.1 714.1Q1943.1 712.6 1945.1 712.6Q1947.2 712.5 1948.3 713.9Q1949.4 715.3 1950.0 716.5Q1950.7 717.6 1949.6 718.3Z"/>
</g>
<g fill="#3a36d0" opacity="0.6" filter="url(#soft)">
<circle cx="1445.0" cy="812.0" r="1.9"/>
<circle cx="1358.7" cy="800.7" r="1.2"/>
<circle cx="1378.4" cy="829.0" r="1.9"/>
<circle cx="1472.8" cy="815.8" r="1.2"/>
<circle cx="1421.4" cy="845.5" r="1.9"/>
<circle cx="1433.5" cy="801.4" r="1.9"/>
<circle cx="1426.9" cy="825.3" r="1.9"/>
<circle cx="1491.0" cy="794.0" r="1.0"/>
<circle cx="1416.2" cy="806.3" r="1.9"/>
<circle cx="1423.3" cy="808.6" r="1.0"/>
<circle cx="1410.1" cy="763.1" r="1.5"/>
<circle cx="1407.6" cy="779.8" r="1.9"/>
<circle cx="1400.4" cy="844.9" r="1.9"/>
<circle cx="1454.0" cy="764.9" r="1.0"/>
<circle cx="1381.9" cy="811.0" r="1.9"/>
<circle cx="1357.2" cy="798.2" r="1.9"/>
<circle cx="1430.4" cy="790.9" r="1.2"/>
<circle cx="1403.9" cy="853.8" r="1.9"/>
<circle cx="1373.2" cy="820.2" r="1.2"/>
<circle cx="1408.1" cy="791.3" r="1.5"/>
<circle cx="1387.8" cy="786.5" r="1.9"/>
<circle cx="1399.3" cy="830.6" r="1.0"/>
<circle cx="1401.3" cy="783.8" r="1.9"/>
<circle cx="1419.4" cy="762.7" r="1.9"/>
<circle cx="1363.7" cy="767.6" r="1.9"/>
<circle cx="1508.2" cy="839.2" r="1.5"/>
<circle cx="1419.5" cy="854.7" r="1.9"/>
<circle cx="1320.8" cy="771.6" r="1.2"/>
<circle cx="1435.3" cy="761.2" r="1.0"/>
<circle cx="1413.1" cy="844.8" r="1.9"/>
<circle cx="1383.2" cy="870.1" r="1.9"/>
<circle cx="1405.0" cy="775.3" r="1.9"/>
<circle cx="1412.9" cy="785.8" r="1.0"/>
<circle cx="1378.3" cy="810.6" r="1.9"/>
<circle cx="1341.4" cy="763.4" r="1.5"/>
<circle cx="1409.6" cy="804.7" r="1.0"/>
<circle cx="1403.3" cy="851.0" r="1.5"/>
<circle cx="1436.2" cy="769.8" r="1.5"/>
<circle cx="1447.9" cy="836.6" r="1.0"/>
<circle cx="1385.8" cy="791.3" r="1.9"/>
<circle cx="1438.0" cy="824.3" r="1.2"/>
<circle cx="1422.1" cy="807.7" r="1.0"/>
<circle cx="1414.7" cy="793.8" r="1.2"/>
<circle cx="1416.3" cy="840.4" r="1.0"/>
<circle cx="1405.3" cy="775.0" r="1.5"/>
<circle cx="1433.1" cy="853.0" r="1.5"/>
<circle cx="1382.6" cy="861.4" r="1.2"/>
<circle cx="1497.0" cy="813.5" r="1.5"/>
<circle cx="1424.1" cy="824.5" r="1.5"/>
<circle cx="1399.6" cy="831.7" r="1.9"/>
<circle cx="1430.0" cy="819.8" r="1.2"/>
<circle cx="1373.0" cy="808.0" r="1.5"/>
<circle cx="1435.3" cy="870.8" r="1.2"/>
<circle cx="1407.9" cy="801.6" r="1.9"/>
<circle cx="1417.9" cy="789.3" r="1.0"/>
<circle cx="1427.3" cy="797.2" r="1.5"/>
<circle cx="1451.4" cy="809.0" r="1.9"/>
<circle cx="1363.6" cy="759.0" r="1.0"/>
<circle cx="1429.7" cy="764.9" r="1.2"/>
<circle cx="1494.4" cy="787.0" r="1.2"/>
<circle cx="1494.1" cy="765.1" r="1.9"/>
<circle cx="1502.6" cy="769.2" r="1.0"/>
<circle cx="1488.3" cy="812.3" r="1.2"/>
<circle cx="1515.0" cy="778.3" r="1.0"/>
<circle cx="1517.2" cy="792.6" r="1.2"/>
<circle cx="1498.9" cy="804.6" r="1.0"/>
<circle cx="1476.5" cy="796.9" r="1.5"/>
<circle cx="1460.4" cy="772.7" r="1.9"/>
<circle cx="1491.7" cy="756.9" r="1.9"/>
<circle cx="1507.7" cy="764.0" r="1.5"/>
<circle cx="1475.9" cy="797.2" r="1.2"/>
<circle cx="1496.3" cy="814.5" r="1.9"/>
<circle cx="1535.0" cy="800.6" r="1.9"/>
<circle cx="1497.1" cy="809.1" r="1.9"/>
<circle cx="1480.7" cy="798.5" r="1.2"/>
<circle cx="1532.9" cy="761.6" r="1.0"/>
<circle cx="1519.1" cy="813.6" r="1.5"/>
<circle cx="1476.8" cy="780.3" r="1.5"/>
<circle cx="1516.0" cy="796.0" r="1.5"/>
<circle cx="1507.9" cy="789.3" r="1.0"/>
<circle cx="1511.3" cy="791.4" r="1.9"/>
<circle cx="1442.8" cy="819.3" r="1.9"/>
<circle cx="1478.9" cy="769.5" r="1.0"/>
<circle cx="1489.3" cy="780.8" r="1.9"/>
<circle cx="1499.5" cy="767.7" r="1.9"/>
<circle cx="1504.5" cy="821.9" r="1.5"/>
<circle cx="1545.0" cy="785.6" r="1.0"/>
<circle cx="1531.9" cy="793.7" r="1.2"/>
<circle cx="1488.2" cy="776.4" r="1.5"/>
<circle cx="1474.7" cy="855.2" r="1.0"/>
<circle cx="1512.6" cy="787.2" r="1.2"/>
<circle cx="1355.8" cy="837.3" r="1.2"/>
<circle cx="1346.2" cy="856.1" r="1.2"/>
<circle cx="1349.0" cy="838.5" r="1.2"/>
<circle cx="1367.2" cy="843.7" r="1.5"/>
<circle cx="1358.2" cy="830.7" r="1.2"/>
<circle cx="1334.8" cy="860.4" r="1.0"/>
<circle cx="1346.9" cy="853.6" r="1.5"/>
<circle cx="1351.6" cy="867.9" r="1.0"/>
<circle cx="1341.3" cy="864.7" r="1.2"/>
<circle cx="1335.8" cy="851.1" r="1.2"/>
<circle cx="1331.7" cy="843.9" r="1.0"/>
<circle cx="1376.9" cy="852.7" r="1.9"/>
<circle cx="1360.2" cy="850.8" r="1.0"/>
<circle cx="1367.1" cy="860.1" r="1.9"/>
<circle cx="1353.8" cy="861.4" r="1.0"/>
<circle cx="1410.2" cy="861.0" r="1.5"/>
<circle cx="1316.8" cy="850.8" r="1.2"/>
<circle cx="1341.1" cy="856.7" r="1.2"/>
<circle cx="1312.7" cy="859.4" r="1.0"/>
<circle cx="1384.1" cy="866.3" r="1.0"/>
<circle cx="1356.8" cy="863.6" r="1.2"/>
<circle cx="1359.4" cy="841.1" r="1.2"/>
<circle cx="1342.8" cy="835.8" r="1.0"/>
<circle cx="1594.5" cy="797.5" r="1.5"/>
<circle cx="1603.6" cy="795.9" r="1.0"/>
<circle cx="1601.9" cy="826.0" r="1.2"/>
<circle cx="1606.6" cy="794.0" r="1.5"/>
<circle cx="1555.3" cy="756.8" r="1.0"/>
<circle cx="1584.9" cy="780.1" r="1.2"/>
<circle cx="1604.4" cy="801.4" r="1.2"/>
<circle cx="1627.2" cy="803.6" r="1.0"/>
<circle cx="1615.1" cy="817.0" r="1.9"/>
<circle cx="1579.4" cy="803.1" r="1.0"/>
<circle cx="1578.4" cy="808.3" r="1.0"/>
<circle cx="1606.0" cy="789.5" r="1.5"/>
<circle cx="1624.1" cy="779.6" r="1.9"/>
<circle cx="1594.9" cy="809.9" r="1.2"/>
<circle cx="1623.9" cy="827.9" r="1.5"/>
<circle cx="1610.6" cy="784.6" r="1.0"/>
<circle cx="1598.2" cy="810.9" r="1.2"/>
<circle cx="1609.8" cy="813.0" r="1.5"/>
<circle cx="1601.2" cy="777.8" r="1.0"/>
<circle cx="1577.9" cy="816.0" r="1.5"/>
<circle cx="1647.8" cy="789.7" r="1.5"/>
<circle cx="1613.5" cy="786.6" r="1.9"/>
<circle cx="1684.8" cy="815.1" r="1.0"/>
<circle cx="1675.5" cy="822.4" r="1.2"/>
<circle cx="1682.8" cy="832.2" r="1.2"/>
<circle cx="1688.0" cy="835.7" r="1.0"/>
<circle cx="1689.1" cy="828.3" r="1.2"/>
<circle cx="1681.0" cy="812.1" r="1.9"/>
<circle cx="1679.8" cy="810.6" r="1.0"/>
<circle cx="1703.7" cy="829.1" r="1.5"/>
<circle cx="1681.5" cy="802.8" r="1.0"/>
<circle cx="1707.5" cy="823.9" r="1.2"/>
<circle cx="1692.4" cy="806.7" r="1.9"/>
<circle cx="1707.4" cy="789.3" r="1.9"/>
<circle cx="1688.2" cy="832.9" r="1.2"/>
<circle cx="1682.4" cy="836.3" r="1.9"/>
<circle cx="1749.8" cy="856.0" r="1.2"/>
<circle cx="1784.3" cy="871.5" r="1.0"/>
<circle cx="1744.5" cy="870.9" r="1.2"/>
<circle cx="1749.8" cy="852.1" r="1.0"/>
<circle cx="1769.6" cy="869.2" r="1.9"/>
<circle cx="1779.0" cy="850.9" r="1.0"/>
<circle cx="1790.3" cy="866.1" r="1.9"/>
<circle cx="1770.5" cy="862.9" r="1.2"/>
<circle cx="1775.3" cy="854.3" r="1.5"/>
<circle cx="1784.1" cy="871.8" r="1.5"/>
<circle cx="1782.6" cy="854.3" r="1.5"/>
<circle cx="1784.2" cy="849.8" r="1.2"/>
<circle cx="2329.2" cy="761.5" r="1.5"/>
<circle cx="2259.8" cy="769.2" r="1.0"/>
<circle cx="2217.0" cy="807.6" r="1.9"/>
<circle cx="2251.6" cy="772.2" r="1.5"/>
<circle cx="2309.8" cy="794.8" r="1.5"/>
<circle cx="2298.8" cy="770.0" r="1.9"/>
<circle cx="2257.6" cy="773.6" r="1.5"/>
<circle cx="2249.9" cy="792.5" r="1.9"/>
<circle cx="2300.0" cy="781.9" r="1.0"/>
<circle cx="2328.7" cy="797.3" r="1.0"/>
<circle cx="2386.2" cy="775.4" r="1.9"/>
<circle cx="2235.6" cy="764.6" r="1.9"/>
<circle cx="2269.7" cy="772.6" r="1.9"/>
<circle cx="2311.2" cy="778.8" r="1.0"/>
<circle cx="2314.3" cy="790.3" r="1.2"/>
<circle cx="2304.6" cy="800.0" r="1.0"/>
<circle cx="2268.8" cy="784.1" r="1.5"/>
<circle cx="2238.6" cy="801.4" r="1.0"/>
<circle cx="2287.5" cy="797.7" r="1.2"/>
<circle cx="2275.9" cy="794.5" r="1.0"/>
<circle cx="2325.5" cy="786.6" r="1.9"/>
<circle cx="2387.2" cy="784.1" r="1.2"/>
<circle cx="2382.5" cy="761.5" r="1.2"/>
<circle cx="2377.1" cy="801.5" r="1.0"/>
<circle cx="2373.6" cy="793.1" r="1.5"/>
<circle cx="2369.2" cy="767.8" r="1.5"/>
<circle cx="2358.9" cy="765.2" r="1.2"/>
<circle cx="1415.9" cy="772.3" r="1.8"/>
<circle cx="1851.0" cy="795.7" r="1.5"/>
<circle cx="1395.7" cy="779.0" r="2.2"/>
<circle cx="1584.6" cy="823.7" r="2.2"/>
<circle cx="1403.7" cy="869.5" r="1.8"/>
<circle cx="1409.1" cy="807.9" r="2.2"/>
<circle cx="1561.4" cy="782.1" r="1.5"/>
<circle cx="1929.7" cy="772.8" r="1.5"/>
<circle cx="1954.5" cy="836.0" r="2.2"/>
<circle cx="1410.8" cy="843.1" r="1.2"/>
<circle cx="1414.5" cy="760.1" r="1.8"/>
<circle cx="1498.1" cy="777.1" r="2.2"/>
<circle cx="1386.3" cy="766.4" r="1.0"/>
<circle cx="1401.9" cy="841.8" r="2.2"/>
<circle cx="1328.4" cy="806.4" r="2.2"/>
<circle cx="1512.3" cy="804.6" r="1.5"/>
<circle cx="1669.9" cy="856.2" r="2.2"/>
<circle cx="1446.0" cy="793.0" r="1.0"/>
<circle cx="1503.4" cy="830.7" r="2.2"/>
<circle cx="1412.6" cy="801.3" r="1.2"/>
<circle cx="1636.9" cy="790.0" r="1.5"/>
<circle cx="2013.3" cy="845.3" r="1.0"/>
<circle cx="1483.6" cy="815.6" r="1.8"/>
<circle cx="2187.2" cy="859.5" r="2.2"/>
<circle cx="1930.8" cy="851.0" r="1.0"/>
<circle cx="2357.1" cy="765.7" r="1.2"/>
<circle cx="1817.4" cy="785.5" r="2.2"/>
<circle cx="1672.2" cy="853.5" r="1.8"/>
<circle cx="1313.2" cy="817.7" r="1.0"/>
<circle cx="1447.0" cy="829.8" r="2.2"/>
<circle cx="1439.4" cy="830.5" r="1.8"/>
<circle cx="1574.1" cy="764.8" r="1.2"/>
<circle cx="1959.7" cy="816.7" r="1.8"/>
<circle cx="1315.2" cy="870.5" r="1.8"/>
<circle cx="1992.5" cy="831.2" r="1.8"/>
<circle cx="1505.4" cy="842.7" r="1.8"/>
<circle cx="1358.7" cy="771.7" r="1.2"/>
<circle cx="1314.0" cy="853.1" r="1.5"/>
<circle cx="1410.6" cy="786.2" r="2.2"/>
<circle cx="1489.3" cy="808.1" r="1.5"/>
<circle cx="2174.1" cy="866.2" r="1.5"/>
<circle cx="2367.2" cy="770.5" r="2.2"/>
<circle cx="1324.6" cy="761.5" r="1.8"/>
<circle cx="1448.1" cy="761.8" r="1.2"/>
<circle cx="1365.2" cy="822.8" r="2.2"/>
<circle cx="1352.8" cy="753.8" r="1.2"/>
<circle cx="1514.4" cy="850.1" r="1.0"/>
<circle cx="1529.1" cy="797.4" r="1.8"/>
<circle cx="2147.0" cy="788.3" r="1.8"/>
<circle cx="1350.9" cy="868.2" r="1.0"/>
<circle cx="1696.7" cy="776.1" r="1.2"/>
<circle cx="1443.7" cy="788.3" r="1.8"/>
<circle cx="1393.9" cy="822.5" r="1.5"/>
<circle cx="1533.4" cy="859.7" r="2.2"/>
<circle cx="1348.5" cy="787.5" r="1.5"/>
<circle cx="1341.9" cy="854.7" r="1.8"/>
<circle cx="1389.4" cy="781.5" r="2.2"/>
<circle cx="1681.7" cy="779.3" r="1.0"/>
<circle cx="1416.9" cy="787.0" r="2.2"/>
<circle cx="1488.9" cy="757.4" r="2.2"/>
<circle cx="1416.7" cy="758.2" r="1.5"/>
<circle cx="1404.2" cy="848.5" r="2.2"/>
<circle cx="1333.2" cy="857.5" r="1.5"/>
<circle cx="1320.2" cy="816.3" r="1.2"/>
<circle cx="1338.1" cy="764.2" r="2.2"/>
<circle cx="1461.8" cy="784.4" r="1.8"/>
<circle cx="2172.5" cy="859.3" r="1.2"/>
<circle cx="2043.9" cy="816.0" r="2.2"/>
<circle cx="1895.2" cy="858.6" r="2.2"/>
<circle cx="1680.0" cy="771.8" r="2.2"/>
<circle cx="1605.1" cy="859.6" r="1.8"/>
<circle cx="1434.2" cy="828.1" r="1.8"/>
<circle cx="1319.6" cy="779.0" r="1.8"/>
<circle cx="2266.5" cy="785.0" r="1.0"/>
<circle cx="1756.6" cy="863.7" r="2.2"/>
<circle cx="2327.2" cy="756.0" r="1.8"/>
<circle cx="1582.1" cy="772.5" r="2.2"/>
<circle cx="2273.5" cy="766.9" r="1.8"/>
<circle cx="1448.4" cy="818.3" r="2.2"/>
<circle cx="1431.2" cy="792.0" r="1.8"/>
<circle cx="1871.3" cy="768.0" r="1.5"/>
<circle cx="1406.8" cy="807.2" r="1.8"/>
<circle cx="1696.8" cy="789.5" r="1.0"/>
<circle cx="1452.7" cy="863.9" r="1.0"/>
<circle cx="1357.9" cy="761.7" r="1.5"/>
<circle cx="1419.9" cy="860.8" r="2.2"/>
<circle cx="1825.3" cy="844.1" r="2.2"/>
<circle cx="2140.8" cy="824.3" r="1.5"/>
<circle cx="1411.9" cy="866.1" r="1.2"/>
<circle cx="1557.8" cy="867.2" r="1.0"/>
<circle cx="2203.8" cy="760.9" r="1.0"/>
<circle cx="1359.2" cy="759.4" r="1.8"/>
<circle cx="1363.6" cy="822.2" r="1.8"/>
<circle cx="1435.0" cy="804.2" r="1.0"/>
<circle cx="1661.2" cy="838.8" r="1.8"/>
<circle cx="1487.1" cy="833.7" r="2.2"/>
<circle cx="1695.0" cy="862.3" r="1.2"/>
<circle cx="1461.0" cy="868.2" r="2.2"/>
<circle cx="2303.6" cy="754.5" r="2.2"/>
<circle cx="1500.5" cy="788.8" r="1.2"/>
</g>
</g>
<rect x="1591" y="237.3" width="584.6" height="99.4" fill="#fff"/>
<text x="1624.9" y="306.2" font-size="54.85" fill="#161616" filter="url(#soft)">Roughness: 11.4 µm</text>
<text x="1345.5" y="149.8" font-size="82" letter-spacing="1" fill="#0a0a0a" stroke="#00f404" stroke-width="0.5" filter="url(#soft)">(b)</text>
<rect x="2200" y="814" width="182.30000000000018" height="58.5" fill="#fdfdfd"/>
<g filter="url(#soft)"><text class="b" x="2290.7" y="845.8" font-size="29" textLength="86" lengthAdjust="spacingAndGlyphs" text-anchor="middle" fill="#3232d2">200 µm</text>
<rect x="2202" y="854.9" width="178.19999999999982" height="4.8" fill="#2a2ad8"/>
<rect x="2202" y="848.8" width="3.8" height="17" fill="#2a2ad8"/><rect x="2376.3999999999996" y="848.8" width="3.8" height="17" fill="#2a2ad8"/></g>
</g>
<g id="panelC">
<g clip-path="url(#clipC)">
<rect x="164.2" y="963.7" width="1094.8" height="837.8999999999999" fill="#d4d4d5"/>
<rect x="164.2" y="1325" width="1094.8" height="275" fill="#000" filter="url(#nzC)" mask="url(#mC)"/>
<polygon points="164.2,963.7 1259,963.7 1259.0,1307.8 1255.1,1307.9 1249.5,1306.9 1243.6,1306.0 1237.8,1308.1 1231.6,1309.0 1225.5,1311.4 1219.5,1311.5 1213.4,1312.8 1207.4,1313.2 1201.0,1314.5 1194.5,1315.2 1189.3,1314.1 1186.4,1311.4 1184.6,1307.8 1182.1,1304.2 1177.9,1303.8 1173.0,1306.2 1167.6,1306.9 1161.6,1309.0 1155.3,1312.2 1149.5,1314.1 1144.8,1316.9 1140.8,1321.0 1136.9,1324.1 1133.9,1324.3 1131.0,1320.8 1126.0,1319.6 1116.5,1318.6 1104.8,1318.6 1095.3,1318.7 1090.2,1316.6 1087.3,1314.2 1084.4,1314.1 1080.9,1315.1 1077.5,1317.8 1073.6,1318.7 1068.8,1320.3 1063.5,1319.3 1059.1,1319.6 1057.1,1318.3 1055.9,1315.8 1051.9,1315.0 1042.4,1313.6 1030.0,1312.0 1019.3,1310.5 1012.5,1306.6 1007.3,1303.0 1001.3,1298.8 992.8,1298.3 983.6,1300.1 975.9,1299.7 971.0,1297.4 967.8,1293.2 965.1,1292.4 963.2,1295.2 961.8,1297.2 959.7,1300.6 955.9,1301.7 951.4,1301.3 947.0,1303.3 943.3,1305.4 939.9,1309.8 936.2,1311.4 932.8,1310.1 929.2,1307.9 923.5,1306.9 914.2,1304.7 902.8,1303.7 891.7,1303.3 881.0,1302.7 870.6,1303.5 862.7,1301.5 859.1,1298.2 857.9,1295.4 855.5,1293.3 850.0,1291.8 843.3,1292.1 837.4,1291.5 832.9,1290.9 829.3,1291.2 826.6,1294.2 825.9,1298.0 826.1,1305.0 824.8,1310.5 820.2,1314.1 814.1,1314.4 808.5,1316.0 804.6,1317.3 801.3,1319.7 797.6,1320.5 792.9,1318.6 787.7,1316.3 783.2,1314.1 779.6,1312.6 776.7,1309.9 774.1,1306.9 772.4,1303.6 771.2,1297.8 768.7,1295.2 763.7,1296.3 757.4,1299.1 752.4,1301.5 750.3,1305.8 749.3,1310.7 747.0,1315.0 742.2,1315.0 736.1,1311.4 728.9,1308.7 720.4,1309.7 710.9,1310.6 701.8,1310.5 693.6,1311.0 685.9,1309.6 678.3,1309.6 670.8,1307.6 663.5,1304.3 656.6,1302.4 650.0,1300.1 643.9,1298.1 638.5,1296.0 634.5,1291.8 631.4,1286.9 627.6,1282.5 622.7,1280.5 617.1,1280.1 611.4,1281.6 605.4,1282.1 599.3,1285.6 593.3,1287.0 587.7,1289.9 582.2,1292.4 577.0,1294.2 572.0,1293.1 567.3,1289.1 562.5,1287.0 557.5,1285.9 552.4,1286.7 548.0,1287.0 544.5,1287.2 541.7,1288.8 538.8,1290.6 536.4,1292.4 533.9,1296.9 529.7,1297.9 521.8,1298.4 512.1,1298.7 504.4,1297.9 501.1,1295.0 499.7,1290.7 497.2,1289.7 491.7,1293.7 485.0,1298.7 479.1,1303.3 475.0,1301.0 471.6,1298.6 468.3,1294.2 464.9,1291.1 461.6,1288.4 457.4,1287.0 451.8,1285.5 445.3,1284.9 439.3,1283.4 434.5,1280.8 430.1,1278.2 424.9,1276.2 417.8,1276.9 409.8,1277.9 403.2,1277.1 399.1,1274.5 396.2,1271.4 393.2,1268.9 389.5,1270.9 385.7,1275.8 381.5,1278.9 376.9,1280.2 371.9,1279.6 367.0,1278.0 362.1,1276.2 357.2,1276.0 352.5,1276.2 348.0,1278.0 343.8,1282.3 339.9,1285.2 336.8,1286.2 334.1,1285.9 330.8,1287.0 326.1,1290.8 320.9,1298.5 316.4,1302.4 313.6,1305.0 311.5,1305.2 309.1,1304.2 306.3,1302.7 303.1,1299.5 298.3,1297.9 290.7,1296.7 281.4,1298.0 273.0,1297.9 265.9,1300.1 259.6,1302.0 254.9,1301.5 253.0,1298.9 252.8,1292.2 251.3,1288.8 247.3,1286.6 242.0,1286.7 236.8,1287.9 231.8,1288.2 226.7,1290.1 222.3,1292.4 218.9,1296.3 216.1,1302.8 213.3,1306.0 210.3,1307.3 207.2,1306.5 204.2,1304.2 201.5,1302.0 198.7,1298.9 195.2,1297.9 190.3,1296.4 184.5,1296.8 178.9,1297.0 173.3,1296.4 167.8,1297.1 164.0,1297.9" fill="url(#stripe)" filter="url(#soft)"/>
<g fill="#9cff00" opacity="0.8" filter="url(#soft)">
<circle cx="172.4" cy="1202" r="1.7"/>
<circle cx="194.4" cy="1202" r="1.7"/>
<circle cx="216.4" cy="1202" r="1.7"/>
<circle cx="238.4" cy="1202" r="1.7"/>
<circle cx="260.4" cy="1202" r="1.7"/>
<circle cx="282.4" cy="1202" r="1.7"/>
<circle cx="304.4" cy="1202" r="1.7"/>
<circle cx="326.4" cy="1202" r="1.7"/>
<circle cx="348.4" cy="1202" r="1.7"/>
<circle cx="370.4" cy="1202" r="1.7"/>
<circle cx="392.4" cy="1202" r="1.7"/>
<circle cx="1008.4" cy="1202" r="1.7"/>
<circle cx="1030.4" cy="1202" r="1.7"/>
<circle cx="1052.4" cy="1202" r="1.7"/>
<circle cx="1074.4" cy="1202" r="1.7"/>
<circle cx="1096.4" cy="1202" r="1.7"/>
<circle cx="1118.4" cy="1202" r="1.7"/>
<circle cx="1140.4" cy="1202" r="1.7"/>
<circle cx="1162.4" cy="1202" r="1.7"/>
<circle cx="1184.4" cy="1202" r="1.7"/>
<circle cx="1206.4" cy="1202" r="1.7"/>
<circle cx="1228.4" cy="1202" r="1.7"/>
<circle cx="1250.4" cy="1202" r="1.7"/>
</g>
<g fill="#0808f4" filter="url(#soft)">
<path d="M574 1578 Q580 1574 588 1580 Q598 1590 606 1600 Q614 1592 624 1590 Q632 1592 636 1604 Q642 1618 643 1630 Q640 1640 630 1646 Q620 1652 612 1660 Q604 1658 596 1650 Q586 1646 584 1636 Q574 1626 576 1610 Q572 1594 574 1578Z"/>
<path d="M171.7 1621.4Q171.2 1623.1 169.0 1623.9Q166.8 1624.7 164.8 1624.6Q162.8 1624.5 162.1 1623.4Q161.5 1622.2 162.2 1621.1Q162.9 1620.0 164.1 1619.0Q165.2 1617.9 167.3 1617.8Q169.4 1617.6 170.8 1618.7Q172.3 1619.7 171.7 1621.4Z"/>
<path d="M179.4 1622.5Q177.8 1623.1 174.1 1621.9Q170.5 1620.6 168.7 1619.1Q166.9 1617.5 165.6 1616.2Q164.3 1614.8 165.4 1614.3Q166.6 1613.7 169.5 1614.9Q172.4 1616.0 176.2 1617.4Q179.9 1618.8 180.5 1620.3Q181.0 1621.9 179.4 1622.5Z"/>
<path d="M187.0 1621.8Q186.0 1623.0 184.3 1623.8Q182.6 1624.5 181.0 1623.8Q179.4 1623.0 178.9 1621.9Q178.5 1620.8 178.0 1619.2Q177.6 1617.6 179.9 1617.5Q182.3 1617.5 184.5 1617.4Q186.8 1617.3 187.4 1618.9Q188.0 1620.5 187.0 1621.8Z"/>
<path d="M196.7 1621.2Q193.7 1622.2 190.9 1622.9Q188.2 1623.6 184.1 1623.0Q179.9 1622.5 180.2 1620.8Q180.4 1619.1 180.2 1617.3Q180.0 1615.5 184.4 1615.1Q188.8 1614.7 192.0 1616.0Q195.2 1617.4 197.4 1618.9Q199.6 1620.3 196.7 1621.2Z"/>
<path d="M205.9 1618.3Q206.5 1619.4 204.2 1621.1Q201.8 1622.9 199.2 1622.9Q196.6 1623.0 195.2 1622.4Q193.9 1621.8 194.3 1620.4Q194.8 1619.0 196.9 1617.5Q199.1 1616.0 201.3 1616.0Q203.6 1616.0 204.5 1616.6Q205.3 1617.2 205.9 1618.3Z"/>
<path d="M217.3 1620.8Q215.2 1622.2 212.8 1623.2Q210.5 1624.2 208.0 1623.8Q205.6 1623.3 204.9 1622.3Q204.3 1621.3 205.1 1620.2Q205.9 1619.2 207.7 1617.8Q209.5 1616.4 212.7 1616.7Q215.9 1616.9 217.7 1618.2Q219.5 1619.4 217.3 1620.8Z"/>
<path d="M228.5 1627.6Q227.0 1629.3 223.3 1629.9Q219.6 1630.4 216.0 1630.4Q212.4 1630.3 211.7 1628.8Q211.1 1627.3 212.4 1626.0Q213.7 1624.7 216.4 1624.2Q219.1 1623.6 222.7 1623.3Q226.3 1623.0 228.1 1624.5Q230.0 1625.9 228.5 1627.6Z"/>
<path d="M231.2 1627.4Q230.6 1628.4 229.0 1628.5Q227.4 1628.6 225.9 1627.8Q224.4 1626.9 224.4 1625.6Q224.4 1624.3 225.4 1623.5Q226.3 1622.7 227.7 1622.4Q229.2 1622.0 231.3 1622.7Q233.4 1623.3 232.6 1624.8Q231.8 1626.3 231.2 1627.4Z"/>
<path d="M243.4 1628.6Q240.7 1629.4 238.5 1629.9Q236.3 1630.3 232.6 1630.3Q228.9 1630.3 227.6 1628.9Q226.2 1627.5 227.5 1626.1Q228.9 1624.7 232.6 1624.5Q236.4 1624.3 239.3 1625.0Q242.2 1625.6 244.2 1626.8Q246.1 1627.9 243.4 1628.6Z"/>
<path d="M254.5 1626.0Q254.6 1627.2 250.9 1627.1Q247.2 1627.0 245.2 1625.5Q243.2 1623.9 240.8 1622.6Q238.5 1621.4 240.1 1620.6Q241.6 1619.8 245.2 1619.9Q248.8 1620.0 251.9 1621.4Q255.1 1622.8 254.7 1623.8Q254.3 1624.8 254.5 1626.0Z"/>
<path d="M262.9 1622.4Q262.4 1623.6 261.1 1625.1Q259.8 1626.5 257.7 1626.3Q255.7 1626.1 253.1 1625.8Q250.6 1625.4 251.6 1623.4Q252.5 1621.4 255.0 1620.6Q257.5 1619.7 259.9 1619.0Q262.2 1618.4 262.8 1619.7Q263.4 1621.1 262.9 1622.4Z"/>
<path d="M273.4 1624.4Q272.0 1625.5 269.4 1625.7Q266.8 1626.0 263.9 1626.4Q261.0 1626.8 259.4 1625.8Q257.7 1624.9 259.0 1623.7Q260.4 1622.4 263.3 1621.6Q266.3 1620.9 268.1 1621.6Q270.0 1622.3 272.4 1622.8Q274.7 1623.2 273.4 1624.4Z"/>
<path d="M280.3 1628.9Q279.4 1630.3 277.9 1630.8Q276.4 1631.3 274.8 1631.5Q273.1 1631.7 272.3 1630.6Q271.5 1629.5 271.2 1627.9Q270.9 1626.3 273.1 1625.8Q275.2 1625.4 277.0 1625.4Q278.8 1625.3 280.0 1626.4Q281.3 1627.5 280.3 1628.9Z"/>
<path d="M291.4 1631.5Q288.1 1631.6 285.0 1631.7Q281.9 1631.7 278.6 1630.6Q275.3 1629.4 273.9 1628.3Q272.6 1627.1 275.1 1626.9Q277.7 1626.8 280.4 1626.4Q283.0 1626.1 287.3 1627.2Q291.6 1628.4 293.1 1629.9Q294.7 1631.3 291.4 1631.5Z"/>
<path d="M300.7 1627.3Q300.2 1629.4 297.9 1630.5Q295.5 1631.7 293.1 1632.1Q290.7 1632.5 290.3 1630.9Q289.9 1629.4 289.2 1627.9Q288.5 1626.5 290.7 1625.3Q292.8 1624.1 295.1 1623.8Q297.4 1623.5 299.4 1624.4Q301.3 1625.3 300.7 1627.3Z"/>
<path d="M306.7 1633.7Q304.9 1635.4 302.8 1635.3Q300.7 1635.3 298.9 1634.2Q297.1 1633.2 296.7 1631.0Q296.2 1628.8 297.5 1626.7Q298.7 1624.7 301.3 1623.7Q303.9 1622.8 304.9 1625.4Q305.8 1628.0 307.2 1630.0Q308.5 1632.0 306.7 1633.7Z"/>
<path d="M316.5 1631.3Q314.9 1632.5 312.1 1633.1Q309.2 1633.6 306.4 1632.5Q303.6 1631.4 302.6 1629.9Q301.6 1628.3 303.5 1627.4Q305.5 1626.5 307.8 1625.5Q310.1 1624.6 312.3 1625.9Q314.6 1627.2 316.3 1628.6Q318.0 1630.0 316.5 1631.3Z"/>
<path d="M326.7 1623.3Q325.9 1624.8 323.0 1625.5Q320.1 1626.2 316.8 1626.6Q313.5 1626.9 313.2 1625.4Q312.9 1624.0 313.3 1622.6Q313.6 1621.3 316.2 1619.5Q318.8 1617.8 322.6 1618.2Q326.4 1618.6 326.9 1620.2Q327.5 1621.8 326.7 1623.3Z"/>
<path d="M336.2 1623.4Q335.6 1625.1 333.6 1625.5Q331.6 1625.9 329.3 1626.3Q327.0 1626.7 326.8 1624.9Q326.5 1623.0 327.1 1621.7Q327.7 1620.4 329.1 1618.9Q330.5 1617.5 332.1 1618.6Q333.7 1619.8 335.2 1620.7Q336.7 1621.7 336.2 1623.4Z"/>
<path d="M342.5 1626.0Q341.3 1626.8 339.3 1626.8Q337.2 1626.7 335.9 1625.4Q334.5 1624.1 334.4 1622.9Q334.2 1621.7 335.0 1620.8Q335.8 1619.9 337.7 1620.2Q339.5 1620.5 340.9 1621.5Q342.3 1622.6 343.0 1623.9Q343.8 1625.2 342.5 1626.0Z"/>
<path d="M351.4 1625.1Q350.6 1626.4 349.9 1627.9Q349.2 1629.3 347.2 1629.5Q345.2 1629.8 344.6 1628.4Q343.9 1627.0 344.3 1625.8Q344.7 1624.6 345.4 1623.2Q346.1 1621.9 347.7 1622.3Q349.2 1622.6 350.7 1623.2Q352.1 1623.7 351.4 1625.1Z"/>
<path d="M359.5 1625.9Q357.5 1626.9 355.1 1626.4Q352.6 1625.8 350.7 1625.0Q348.8 1624.3 347.8 1622.9Q346.8 1621.4 347.9 1620.2Q348.9 1618.9 351.5 1619.3Q354.0 1619.7 356.9 1620.4Q359.8 1621.1 360.6 1623.0Q361.5 1624.9 359.5 1625.9Z"/>
<path d="M368.4 1629.1Q366.4 1630.6 364.8 1630.8Q363.1 1631.0 360.7 1630.9Q358.4 1630.8 358.3 1628.0Q358.2 1625.2 359.5 1623.0Q360.8 1620.8 363.1 1620.5Q365.3 1620.2 367.5 1621.1Q369.6 1622.0 370.0 1624.8Q370.3 1627.6 368.4 1629.1Z"/>
<path d="M374.1 1625.8Q373.2 1626.4 371.5 1626.6Q369.8 1626.8 367.6 1625.7Q365.4 1624.7 365.7 1623.5Q366.0 1622.4 366.8 1621.7Q367.7 1621.1 369.5 1621.4Q371.3 1621.8 372.7 1622.6Q374.1 1623.4 374.5 1624.4Q375.0 1625.3 374.1 1625.8Z"/>
<path d="M384.7 1622.9Q383.0 1623.5 380.1 1623.3Q377.2 1623.1 374.3 1621.5Q371.3 1619.9 371.0 1618.2Q370.6 1616.6 372.8 1616.4Q375.1 1616.2 377.5 1615.8Q380.0 1615.4 381.9 1617.3Q383.8 1619.1 385.2 1620.7Q386.5 1622.3 384.7 1622.9Z"/>
<path d="M391.7 1619.6Q390.1 1620.2 388.2 1621.0Q386.2 1621.7 383.6 1620.7Q381.0 1619.6 379.9 1618.0Q378.9 1616.4 380.5 1615.4Q382.2 1614.4 384.8 1614.7Q387.3 1615.1 389.9 1615.5Q392.6 1616.0 392.9 1617.4Q393.2 1618.9 391.7 1619.6Z"/>
<path d="M403.8 1621.9Q401.7 1622.9 398.9 1621.6Q396.0 1620.3 393.8 1619.3Q391.6 1618.4 390.5 1616.6Q389.5 1614.8 391.1 1613.8Q392.8 1612.8 395.7 1613.0Q398.6 1613.2 401.1 1615.0Q403.5 1616.7 404.7 1618.8Q405.9 1620.9 403.8 1621.9Z"/>
<path d="M412.8 1621.7Q411.3 1622.6 407.5 1621.6Q403.6 1620.5 399.9 1618.5Q396.3 1616.4 396.6 1615.0Q397.0 1613.6 399.0 1613.5Q401.1 1613.4 403.7 1613.8Q406.3 1614.1 408.6 1615.8Q410.9 1617.4 412.6 1619.1Q414.3 1620.9 412.8 1621.7Z"/>
<path d="M424.9 1618.7Q422.5 1619.6 420.3 1620.6Q418.1 1621.7 415.4 1621.1Q412.7 1620.4 411.9 1619.6Q411.0 1618.8 410.4 1617.5Q409.7 1616.2 413.7 1615.8Q417.7 1615.4 421.6 1615.3Q425.6 1615.3 426.4 1616.5Q427.3 1617.8 424.9 1618.7Z"/>
<path d="M434.4 1625.5Q433.2 1626.3 431.2 1626.0Q429.1 1625.7 427.4 1625.1Q425.8 1624.5 425.3 1623.4Q424.9 1622.3 425.7 1621.5Q426.4 1620.7 428.3 1620.9Q430.2 1621.1 432.0 1621.7Q433.8 1622.3 434.7 1623.5Q435.6 1624.7 434.4 1625.5Z"/>
<path d="M440.9 1627.2Q440.0 1628.9 437.9 1628.5Q435.7 1628.1 434.2 1627.3Q432.8 1626.5 432.9 1625.2Q433.0 1623.9 433.2 1622.4Q433.3 1620.9 435.2 1620.7Q437.1 1620.6 438.8 1621.5Q440.4 1622.4 441.1 1624.0Q441.7 1625.6 440.9 1627.2Z"/>
<path d="M448.1 1625.2Q447.9 1626.1 446.1 1626.8Q444.2 1627.6 442.2 1626.9Q440.2 1626.3 439.4 1625.4Q438.6 1624.4 439.5 1623.5Q440.4 1622.6 442.3 1622.0Q444.1 1621.4 446.3 1621.8Q448.4 1622.2 448.4 1623.2Q448.3 1624.3 448.1 1625.2Z"/>
<path d="M461.2 1624.6Q459.6 1625.9 455.6 1624.9Q451.6 1623.8 447.7 1623.0Q443.8 1622.2 442.5 1620.3Q441.1 1618.3 444.5 1618.1Q447.9 1617.9 450.5 1617.8Q453.0 1617.7 456.4 1618.7Q459.8 1619.7 461.3 1621.5Q462.9 1623.3 461.2 1624.6Z"/>
<path d="M469.2 1620.2Q468.9 1621.3 465.9 1622.6Q462.9 1623.9 460.1 1623.8Q457.3 1623.6 454.8 1623.4Q452.3 1623.1 454.2 1621.7Q456.1 1620.4 458.8 1619.1Q461.5 1617.9 464.5 1617.8Q467.5 1617.7 468.5 1618.4Q469.5 1619.2 469.2 1620.2Z"/>
<path d="M477.6 1621.9Q476.7 1623.1 474.7 1623.7Q472.7 1624.2 470.7 1625.0Q468.6 1625.7 467.7 1625.0Q466.8 1624.3 467.5 1623.2Q468.2 1622.1 469.8 1621.2Q471.5 1620.3 473.8 1619.7Q476.2 1619.1 477.3 1619.9Q478.5 1620.6 477.6 1621.9Z"/>
<path d="M485.5 1626.4Q483.7 1627.3 480.8 1627.3Q478.0 1627.3 475.8 1626.1Q473.7 1624.9 471.6 1623.4Q469.5 1621.9 472.3 1621.6Q475.1 1621.2 477.3 1620.7Q479.5 1620.1 482.1 1621.3Q484.6 1622.6 485.9 1624.1Q487.2 1625.6 485.5 1626.4Z"/>
<path d="M492.2 1629.7Q491.6 1631.7 490.0 1632.3Q488.4 1633.0 486.7 1632.7Q484.9 1632.5 484.1 1630.8Q483.2 1629.1 483.0 1626.8Q482.7 1624.4 484.7 1622.7Q486.7 1621.1 488.6 1622.7Q490.6 1624.4 491.7 1626.1Q492.9 1627.8 492.2 1629.7Z"/>
<path d="M500.7 1628.9Q499.5 1630.2 496.8 1630.9Q494.2 1631.5 492.0 1631.9Q489.8 1632.2 487.9 1631.9Q486.1 1631.6 487.8 1630.4Q489.6 1629.3 491.4 1628.5Q493.3 1627.7 496.0 1627.1Q498.7 1626.6 500.3 1627.1Q501.9 1627.7 500.7 1628.9Z"/>
<path d="M510.3 1632.3Q508.5 1634.0 507.1 1635.6Q505.7 1637.2 503.0 1637.1Q500.3 1637.1 499.2 1634.7Q498.0 1632.3 499.0 1630.0Q500.1 1627.8 502.3 1627.3Q504.5 1626.8 507.2 1626.3Q509.9 1625.8 511.0 1628.2Q512.2 1630.7 510.3 1632.3Z"/>
<path d="M519.7 1628.4Q519.5 1629.9 516.0 1631.5Q512.4 1633.1 509.1 1633.2Q505.8 1633.3 503.0 1632.7Q500.2 1632.2 503.1 1630.4Q505.9 1628.6 508.2 1627.3Q510.5 1626.0 513.2 1625.9Q515.9 1625.8 517.9 1626.3Q519.9 1626.8 519.7 1628.4Z"/>
<path d="M530.9 1625.0Q529.5 1626.8 526.7 1628.0Q523.9 1629.2 521.1 1629.8Q518.2 1630.3 515.4 1629.9Q512.7 1629.5 514.6 1627.6Q516.5 1625.7 519.1 1624.0Q521.7 1622.3 525.1 1621.9Q528.6 1621.5 530.4 1622.4Q532.3 1623.3 530.9 1625.0Z"/>
<path d="M540.0 1625.8Q539.0 1626.8 537.0 1628.2Q535.0 1629.5 532.3 1629.0Q529.6 1628.6 528.9 1627.7Q528.2 1626.8 529.3 1625.8Q530.3 1624.9 532.2 1624.1Q534.0 1623.4 537.2 1622.8Q540.5 1622.2 540.8 1623.5Q541.1 1624.7 540.0 1625.8Z"/>
<path d="M550.0 1627.8Q548.4 1628.4 545.7 1628.2Q543.0 1628.0 540.0 1627.2Q537.1 1626.5 535.4 1625.1Q533.8 1623.8 535.7 1623.1Q537.5 1622.3 540.7 1622.6Q544.0 1623.0 546.4 1624.0Q548.9 1624.9 550.3 1626.1Q551.7 1627.2 550.0 1627.8Z"/>
<path d="M565.8 1630.9Q563.8 1631.8 559.9 1631.2Q555.9 1630.6 551.7 1630.1Q547.6 1629.6 547.8 1628.5Q548.1 1627.3 549.3 1626.6Q550.5 1625.9 553.6 1625.6Q556.7 1625.2 559.1 1626.5Q561.6 1627.7 564.7 1628.9Q567.8 1630.1 565.8 1630.9Z"/>
<path d="M575.3 1630.7Q573.9 1631.8 570.6 1632.0Q567.2 1632.3 563.8 1631.5Q560.4 1630.7 559.2 1629.3Q558.0 1628.0 559.3 1626.8Q560.5 1625.6 564.1 1625.8Q567.8 1626.1 570.9 1626.6Q574.0 1627.2 575.3 1628.4Q576.6 1629.7 575.3 1630.7Z"/>
<path d="M651.3 1634.5Q649.8 1636.0 647.3 1637.0Q644.7 1638.1 642.1 1638.5Q639.5 1639.0 637.2 1638.7Q634.9 1638.5 635.2 1636.9Q635.5 1635.3 639.3 1634.2Q643.2 1633.2 646.8 1632.0Q650.4 1630.9 651.6 1631.9Q652.8 1633.0 651.3 1634.5Z"/>
<path d="M660.5 1635.2Q658.4 1636.1 656.5 1636.8Q654.5 1637.5 651.6 1637.6Q648.7 1637.7 647.1 1636.7Q645.5 1635.7 646.4 1634.3Q647.4 1632.9 650.7 1632.7Q654.1 1632.5 656.9 1632.4Q659.7 1632.3 661.2 1633.3Q662.6 1634.2 660.5 1635.2Z"/>
<path d="M679.0 1634.6Q678.5 1635.9 676.0 1636.6Q673.5 1637.3 671.4 1636.9Q669.3 1636.6 666.5 1635.9Q663.7 1635.3 666.0 1633.9Q668.3 1632.5 670.4 1631.3Q672.6 1630.1 675.6 1630.3Q678.5 1630.6 679.0 1631.9Q679.4 1633.3 679.0 1634.6Z"/>
<path d="M691.4 1637.1Q689.8 1637.6 687.1 1637.1Q684.4 1636.5 681.6 1635.2Q678.8 1633.9 677.0 1632.1Q675.2 1630.2 677.0 1629.3Q678.9 1628.4 682.8 1629.2Q686.7 1630.0 689.9 1631.9Q693.2 1633.7 693.1 1635.1Q693.0 1636.5 691.4 1637.1Z"/>
<path d="M712.1 1633.5Q711.8 1635.4 707.7 1637.2Q703.5 1638.9 699.1 1639.3Q694.8 1639.7 694.9 1637.8Q695.1 1635.9 694.5 1634.4Q693.9 1632.9 697.6 1631.5Q701.3 1630.2 705.5 1629.3Q709.8 1628.5 711.1 1630.0Q712.4 1631.5 712.1 1633.5Z"/>
<path d="M718.8 1635.1Q718.9 1636.1 716.1 1636.9Q713.3 1637.7 711.2 1637.3Q709.2 1636.9 706.3 1636.7Q703.4 1636.5 704.6 1635.2Q705.8 1633.8 709.1 1633.2Q712.5 1632.6 715.3 1632.5Q718.1 1632.3 718.5 1633.2Q718.8 1634.1 718.8 1635.1Z"/>
<path d="M729.0 1635.8Q726.9 1637.1 724.7 1637.7Q722.4 1638.3 719.0 1639.1Q715.6 1639.8 715.8 1638.4Q715.9 1637.1 716.2 1636.0Q716.5 1634.9 719.1 1634.1Q721.6 1633.4 724.1 1633.4Q726.5 1633.5 728.8 1634.0Q731.1 1634.6 729.0 1635.8Z"/>
<path d="M737.2 1633.0Q736.6 1634.0 734.3 1634.8Q732.1 1635.7 729.0 1636.4Q725.9 1637.1 724.7 1636.3Q723.6 1635.5 724.8 1634.3Q726.1 1633.1 728.5 1631.9Q730.9 1630.7 733.8 1630.5Q736.8 1630.2 737.3 1631.1Q737.7 1632.0 737.2 1633.0Z"/>
<path d="M746.0 1641.5Q745.3 1642.7 742.0 1642.6Q738.8 1642.4 736.5 1640.5Q734.1 1638.5 732.6 1636.6Q731.1 1634.6 734.1 1634.6Q737.1 1634.6 739.5 1634.3Q741.8 1634.0 743.8 1635.7Q745.7 1637.4 746.3 1638.8Q746.8 1640.2 746.0 1641.5Z"/>
<path d="M768.9 1641.7Q767.3 1642.5 764.4 1642.8Q761.5 1643.2 757.9 1642.9Q754.3 1642.6 753.3 1641.4Q752.3 1640.3 754.6 1639.6Q756.9 1638.9 759.3 1638.5Q761.7 1638.1 764.4 1638.6Q767.1 1639.0 768.8 1639.9Q770.6 1640.8 768.9 1641.7Z"/>
<path d="M779.2 1637.9Q777.9 1639.0 775.7 1640.1Q773.5 1641.2 769.7 1641.6Q765.9 1641.9 764.3 1640.9Q762.7 1639.9 764.6 1638.5Q766.4 1637.1 769.4 1635.9Q772.4 1634.8 775.4 1635.0Q778.4 1635.3 779.4 1636.1Q780.5 1636.9 779.2 1637.9Z"/>
<path d="M791.4 1638.2Q791.6 1639.2 788.0 1640.0Q784.3 1640.8 781.5 1640.1Q778.7 1639.5 777.6 1638.8Q776.5 1638.1 777.3 1637.3Q778.1 1636.5 781.0 1635.7Q784.0 1634.9 786.8 1635.4Q789.6 1636.0 790.4 1636.6Q791.1 1637.3 791.4 1638.2Z"/>
<path d="M802.6 1641.4Q800.8 1642.0 798.7 1642.2Q796.6 1642.3 794.9 1640.8Q793.3 1639.3 793.6 1638.1Q793.9 1636.8 794.7 1635.9Q795.5 1635.0 797.5 1634.8Q799.5 1634.6 801.0 1636.1Q802.5 1637.6 803.4 1639.2Q804.3 1640.8 802.6 1641.4Z"/>
<path d="M809.0 1638.3Q807.3 1639.2 805.6 1640.0Q803.9 1640.7 802.2 1640.2Q800.6 1639.6 799.3 1638.9Q798.1 1638.2 799.2 1637.4Q800.4 1636.6 801.9 1636.2Q803.5 1635.8 805.2 1635.8Q807.0 1635.9 808.8 1636.6Q810.7 1637.3 809.0 1638.3Z"/>
<path d="M815.5 1637.2Q814.4 1638.8 812.6 1640.4Q810.8 1641.9 807.7 1642.5Q804.7 1643.1 803.9 1641.7Q803.0 1640.3 804.0 1638.8Q804.9 1637.3 806.6 1636.2Q808.4 1635.0 810.7 1634.6Q813.1 1634.1 814.8 1634.9Q816.6 1635.6 815.5 1637.2Z"/>
<path d="M821.5 1639.8Q820.0 1640.3 818.1 1640.4Q816.3 1640.5 815.3 1639.3Q814.3 1638.1 812.9 1636.8Q811.5 1635.5 812.8 1634.7Q814.1 1633.8 816.1 1634.3Q818.1 1634.9 819.7 1635.6Q821.4 1636.4 822.2 1637.8Q823.1 1639.2 821.5 1639.8Z"/>
<path d="M831.4 1637.9Q831.5 1639.3 827.5 1640.2Q823.6 1641.1 821.0 1640.3Q818.3 1639.6 816.7 1638.8Q815.1 1638.1 815.4 1636.7Q815.7 1635.4 819.3 1634.6Q822.9 1633.7 825.7 1634.3Q828.5 1634.9 829.9 1635.7Q831.3 1636.5 831.4 1637.9Z"/>
<path d="M856.3 1631.9Q854.4 1633.4 852.6 1634.6Q850.8 1635.9 847.7 1636.2Q844.5 1636.6 844.4 1634.9Q844.3 1633.2 844.3 1631.7Q844.2 1630.3 846.8 1629.3Q849.3 1628.3 852.6 1627.9Q855.8 1627.4 857.0 1629.0Q858.3 1630.5 856.3 1631.9Z"/>
<path d="M867.5 1632.0Q866.3 1633.9 863.0 1634.3Q859.8 1634.8 857.3 1634.3Q854.8 1633.9 854.1 1632.6Q853.4 1631.3 854.1 1630.0Q854.8 1628.7 857.0 1628.1Q859.2 1627.5 861.3 1627.8Q863.3 1628.2 866.0 1629.1Q868.7 1630.0 867.5 1632.0Z"/>
<path d="M872.9 1635.7Q871.8 1636.3 870.3 1636.7Q868.7 1637.1 867.6 1635.9Q866.4 1634.7 865.2 1633.1Q864.0 1631.6 865.4 1630.5Q866.9 1629.4 869.1 1629.7Q871.2 1630.1 873.0 1631.2Q874.8 1632.4 874.4 1633.7Q874.0 1635.1 872.9 1635.7Z"/>
<path d="M880.5 1633.8Q880.4 1634.9 877.8 1634.6Q875.2 1634.4 871.9 1634.2Q868.7 1634.0 868.4 1632.5Q868.1 1631.1 869.3 1630.1Q870.4 1629.1 873.1 1629.3Q875.8 1629.4 878.7 1629.9Q881.5 1630.4 881.1 1631.5Q880.6 1632.7 880.5 1633.8Z"/>
<path d="M893.5 1636.7Q892.8 1638.0 889.1 1637.2Q885.4 1636.5 881.9 1635.7Q878.4 1635.0 878.4 1633.7Q878.4 1632.4 879.9 1631.8Q881.5 1631.2 883.9 1631.1Q886.4 1631.0 890.4 1631.8Q894.4 1632.6 894.3 1634.0Q894.1 1635.5 893.5 1636.7Z"/>
<path d="M903.9 1635.6Q901.7 1636.4 899.2 1636.5Q896.7 1636.6 893.8 1635.6Q890.9 1634.6 891.1 1633.1Q891.4 1631.5 892.2 1630.4Q893.1 1629.2 895.8 1629.1Q898.5 1628.9 901.5 1630.1Q904.5 1631.2 905.3 1633.1Q906.1 1634.9 903.9 1635.6Z"/>
<path d="M913.4 1636.5Q910.4 1636.9 908.0 1637.3Q905.7 1637.6 902.9 1636.9Q900.1 1636.1 899.5 1635.1Q899.0 1634.1 899.0 1632.9Q899.0 1631.7 902.6 1632.2Q906.2 1632.7 908.7 1633.3Q911.1 1633.8 913.7 1634.9Q916.3 1636.0 913.4 1636.5Z"/>
<path d="M922.9 1637.4Q921.6 1639.3 918.3 1640.1Q914.9 1641.0 911.5 1641.8Q908.1 1642.6 908.1 1641.0Q908.1 1639.4 908.3 1638.2Q908.6 1636.9 911.0 1635.8Q913.4 1634.7 916.9 1633.9Q920.5 1633.1 922.3 1634.3Q924.1 1635.5 922.9 1637.4Z"/>
<path d="M930.1 1635.5Q929.7 1636.8 926.8 1637.1Q923.9 1637.5 921.5 1637.6Q919.1 1637.7 917.8 1636.9Q916.5 1636.1 917.5 1635.0Q918.5 1633.8 920.9 1633.2Q923.3 1632.7 925.9 1632.6Q928.5 1632.5 929.5 1633.4Q930.5 1634.3 930.1 1635.5Z"/>
<path d="M936.4 1637.3Q935.6 1638.3 933.9 1639.2Q932.2 1640.1 929.9 1640.5Q927.6 1641.0 926.9 1640.1Q926.2 1639.3 926.9 1638.3Q927.5 1637.3 929.2 1636.3Q930.9 1635.4 932.5 1635.6Q934.1 1635.7 935.7 1636.0Q937.3 1636.2 936.4 1637.3Z"/>
<path d="M954.7 1636.5Q954.5 1638.2 952.1 1638.6Q949.8 1638.9 947.9 1639.1Q946.0 1639.3 944.2 1638.3Q942.5 1637.4 943.7 1635.8Q944.9 1634.2 946.7 1633.5Q948.5 1632.8 950.9 1632.3Q953.3 1631.8 954.1 1633.3Q955.0 1634.8 954.7 1636.5Z"/>
<path d="M964.1 1642.8Q962.1 1643.4 958.9 1642.5Q955.6 1641.5 952.8 1640.0Q950.1 1638.5 949.8 1637.1Q949.6 1635.7 951.5 1635.5Q953.4 1635.3 955.8 1635.1Q958.3 1634.9 961.3 1636.8Q964.3 1638.7 965.2 1640.4Q966.0 1642.2 964.1 1642.8Z"/>
<path d="M974.7 1634.3Q973.9 1635.2 970.9 1634.6Q967.8 1634.1 964.3 1632.3Q960.9 1630.6 960.7 1629.0Q960.5 1627.4 961.8 1626.4Q963.1 1625.4 966.7 1626.7Q970.3 1628.0 973.6 1629.6Q976.8 1631.2 976.2 1632.3Q975.5 1633.5 974.7 1634.3Z"/>
<path d="M989.2 1628.5Q989.6 1629.4 986.4 1629.9Q983.2 1630.4 980.1 1630.8Q977.0 1631.3 977.1 1630.4Q977.2 1629.4 977.7 1628.6Q978.2 1627.9 980.4 1626.9Q982.5 1625.9 986.0 1625.6Q989.5 1625.4 989.2 1626.5Q988.9 1627.6 989.2 1628.5Z"/>
<path d="M997.4 1638.8Q998.4 1639.8 995.2 1641.3Q992.1 1642.8 989.2 1643.6Q986.3 1644.4 985.7 1643.3Q985.2 1642.3 984.7 1641.2Q984.3 1640.1 986.9 1638.3Q989.5 1636.5 992.0 1636.5Q994.5 1636.6 995.5 1637.2Q996.4 1637.7 997.4 1638.8Z"/>
<path d="M1011.0 1647.2Q1008.7 1648.8 1006.0 1650.1Q1003.2 1651.4 999.7 1651.2Q996.1 1650.9 993.5 1649.7Q990.9 1648.4 992.8 1646.4Q994.7 1644.4 998.5 1644.1Q1002.3 1643.8 1004.9 1643.8Q1007.6 1643.9 1010.5 1644.7Q1013.3 1645.6 1011.0 1647.2Z"/>
<path d="M1019.4 1651.6Q1019.1 1653.0 1016.5 1653.4Q1013.9 1653.9 1010.8 1653.9Q1007.8 1653.9 1008.1 1652.3Q1008.5 1650.6 1008.1 1649.0Q1007.7 1647.4 1010.7 1646.9Q1013.6 1646.4 1016.0 1647.0Q1018.3 1647.7 1019.0 1648.9Q1019.7 1650.1 1019.4 1651.6Z"/>
<path d="M1027.2 1655.4Q1027.6 1657.0 1024.1 1657.0Q1020.6 1657.0 1017.8 1656.5Q1015.0 1656.1 1013.2 1654.7Q1011.3 1653.3 1012.5 1651.7Q1013.8 1650.1 1017.3 1649.5Q1020.8 1648.9 1023.4 1650.1Q1026.0 1651.2 1026.4 1652.5Q1026.8 1653.7 1027.2 1655.4Z"/>
<path d="M1038.0 1661.0Q1037.0 1662.2 1034.8 1661.9Q1032.5 1661.6 1030.8 1660.9Q1029.0 1660.2 1029.0 1659.1Q1029.0 1657.9 1029.5 1656.9Q1030.0 1655.9 1031.8 1655.9Q1033.5 1655.9 1035.7 1656.4Q1037.8 1656.8 1038.4 1658.2Q1038.9 1659.7 1038.0 1661.0Z"/>
<path d="M1046.5 1657.6Q1044.2 1658.6 1041.6 1660.0Q1039.0 1661.4 1035.9 1660.4Q1032.7 1659.4 1031.2 1658.4Q1029.7 1657.3 1031.3 1656.2Q1032.9 1655.1 1035.8 1654.4Q1038.7 1653.8 1041.6 1654.2Q1044.6 1654.6 1046.6 1655.5Q1048.7 1656.5 1046.5 1657.6Z"/>
<path d="M1057.3 1664.1Q1056.2 1665.0 1055.0 1665.7Q1053.8 1666.5 1052.1 1666.4Q1050.3 1666.3 1049.0 1665.5Q1047.7 1664.7 1048.7 1663.5Q1049.8 1662.3 1051.4 1661.7Q1053.0 1661.0 1055.0 1661.0Q1056.9 1661.0 1057.6 1662.1Q1058.3 1663.1 1057.3 1664.1Z"/>
<path d="M1066.8 1668.2Q1065.2 1669.1 1062.0 1669.4Q1058.8 1669.6 1056.6 1668.4Q1054.5 1667.2 1052.1 1666.1Q1049.6 1665.0 1051.9 1664.3Q1054.3 1663.7 1056.9 1663.7Q1059.5 1663.7 1062.0 1664.4Q1064.6 1665.0 1066.5 1666.1Q1068.4 1667.3 1066.8 1668.2Z"/>
<path d="M1080.5 1650.7Q1079.3 1652.6 1075.6 1653.4Q1071.8 1654.2 1069.3 1654.3Q1066.9 1654.4 1062.8 1654.4Q1058.8 1654.4 1061.7 1652.4Q1064.5 1650.5 1067.5 1649.6Q1070.5 1648.7 1073.8 1648.0Q1077.1 1647.3 1079.3 1648.1Q1081.6 1648.9 1080.5 1650.7Z"/>
<path d="M1088.8 1639.4Q1089.2 1640.7 1085.7 1642.2Q1082.3 1643.6 1079.2 1643.9Q1076.1 1644.2 1074.7 1643.5Q1073.4 1642.7 1073.7 1641.3Q1074.0 1639.9 1077.0 1638.1Q1080.0 1636.3 1084.0 1635.7Q1088.1 1635.0 1088.2 1636.5Q1088.4 1638.1 1088.8 1639.4Z"/>
<path d="M1101.3 1639.2Q1099.6 1641.6 1097.6 1642.0Q1095.5 1642.4 1093.8 1641.8Q1092.0 1641.1 1090.0 1639.1Q1088.0 1637.1 1089.1 1634.1Q1090.2 1631.1 1092.7 1631.2Q1095.3 1631.4 1097.9 1630.9Q1100.6 1630.4 1101.8 1633.5Q1103.0 1636.7 1101.3 1639.2Z"/>
<path d="M1110.6 1637.6Q1108.2 1638.6 1105.3 1639.4Q1102.5 1640.2 1099.6 1639.2Q1096.7 1638.2 1095.8 1637.0Q1094.8 1635.8 1096.0 1634.7Q1097.2 1633.7 1100.0 1633.5Q1102.8 1633.3 1105.8 1633.7Q1108.8 1634.0 1110.9 1635.3Q1113.0 1636.6 1110.6 1637.6Z"/>
<path d="M1122.5 1635.9Q1123.3 1637.5 1119.9 1637.6Q1116.5 1637.8 1113.5 1638.1Q1110.5 1638.3 1108.4 1637.1Q1106.3 1635.8 1108.8 1634.4Q1111.3 1633.0 1113.6 1632.3Q1116.0 1631.7 1118.5 1631.8Q1121.0 1632.0 1121.4 1633.2Q1121.8 1634.4 1122.5 1635.9Z"/>
<path d="M1134.5 1639.3Q1131.3 1639.5 1128.8 1639.5Q1126.4 1639.4 1122.4 1639.0Q1118.3 1638.6 1116.3 1637.3Q1114.4 1635.9 1116.8 1635.2Q1119.2 1634.5 1123.1 1634.8Q1127.0 1635.1 1129.5 1636.0Q1132.1 1636.9 1134.9 1638.0Q1137.7 1639.1 1134.5 1639.3Z"/>
<path d="M1144.1 1635.5Q1144.2 1637.3 1143.3 1640.1Q1142.4 1642.9 1140.0 1641.2Q1137.7 1639.4 1135.2 1638.6Q1132.8 1637.8 1133.4 1635.2Q1134.0 1632.7 1135.7 1630.9Q1137.4 1629.1 1139.8 1629.6Q1142.1 1630.2 1143.1 1632.0Q1144.0 1633.7 1144.1 1635.5Z"/>
<path d="M1157.5 1642.9Q1155.7 1643.5 1152.4 1643.0Q1149.2 1642.4 1146.1 1641.0Q1143.0 1639.7 1143.3 1638.6Q1143.6 1637.4 1144.5 1636.8Q1145.5 1636.1 1148.2 1636.4Q1150.9 1636.8 1153.3 1638.0Q1155.7 1639.3 1157.5 1640.8Q1159.3 1642.3 1157.5 1642.9Z"/>
<path d="M1175.1 1638.2Q1173.3 1639.2 1171.2 1639.9Q1169.0 1640.7 1165.7 1640.6Q1162.3 1640.6 1162.8 1639.1Q1163.3 1637.7 1162.7 1636.3Q1162.1 1634.9 1165.4 1634.2Q1168.8 1633.5 1171.3 1634.3Q1173.9 1635.2 1175.3 1636.2Q1176.8 1637.2 1175.1 1638.2Z"/>
<path d="M1182.3 1638.9Q1182.8 1641.3 1180.5 1642.6Q1178.2 1643.8 1175.4 1644.3Q1172.6 1644.7 1171.0 1642.4Q1169.5 1640.0 1170.4 1637.7Q1171.3 1635.3 1172.7 1632.5Q1174.1 1629.7 1176.5 1631.7Q1179.0 1633.7 1180.3 1635.1Q1181.7 1636.5 1182.3 1638.9Z"/>
<path d="M1193.0 1643.8Q1191.5 1645.3 1188.8 1644.8Q1186.0 1644.3 1183.5 1643.2Q1181.0 1642.1 1180.5 1640.1Q1180.0 1638.1 1181.7 1637.0Q1183.5 1635.9 1185.9 1636.3Q1188.3 1636.8 1190.4 1637.7Q1192.5 1638.6 1193.4 1640.5Q1194.4 1642.3 1193.0 1643.8Z"/>
<path d="M1201.1 1641.8Q1199.6 1643.1 1197.5 1644.2Q1195.3 1645.4 1192.7 1645.4Q1190.1 1645.5 1188.5 1644.9Q1186.9 1644.3 1186.8 1642.9Q1186.7 1641.5 1190.3 1640.7Q1194.0 1639.9 1197.8 1638.8Q1201.6 1637.7 1202.0 1639.1Q1202.5 1640.5 1201.1 1641.8Z"/>
<path d="M1213.6 1642.2Q1212.6 1642.6 1210.1 1642.7Q1207.6 1642.8 1205.9 1641.1Q1204.1 1639.5 1201.3 1637.8Q1198.5 1636.0 1201.5 1636.3Q1204.5 1636.5 1207.2 1636.4Q1209.9 1636.3 1212.5 1638.1Q1215.1 1639.9 1214.9 1640.8Q1214.6 1641.8 1213.6 1642.2Z"/>
<path d="M1228.8 1638.7Q1229.1 1640.4 1225.4 1641.8Q1221.7 1643.3 1217.8 1643.3Q1213.9 1643.3 1213.3 1641.8Q1212.7 1640.2 1213.6 1638.8Q1214.6 1637.3 1217.4 1636.5Q1220.2 1635.7 1223.9 1634.8Q1227.6 1633.9 1228.1 1635.5Q1228.6 1637.1 1228.8 1638.7Z"/>
<path d="M1234.6 1640.3Q1234.6 1641.3 1232.4 1641.8Q1230.3 1642.4 1228.6 1642.3Q1227.0 1642.3 1225.4 1641.9Q1223.7 1641.5 1224.2 1640.4Q1224.6 1639.3 1227.1 1638.9Q1229.5 1638.5 1231.0 1638.5Q1232.5 1638.5 1233.5 1639.0Q1234.6 1639.4 1234.6 1640.3Z"/>
<path d="M1243.9 1638.4Q1243.9 1639.3 1240.4 1639.5Q1236.9 1639.7 1234.3 1639.5Q1231.8 1639.3 1230.8 1638.7Q1229.7 1638.1 1228.9 1637.1Q1228.1 1636.0 1232.4 1636.0Q1236.7 1636.0 1240.1 1635.9Q1243.5 1635.9 1243.6 1636.7Q1243.8 1637.6 1243.9 1638.4Z"/>
<path d="M1257.4 1637.7Q1256.1 1638.9 1253.7 1639.5Q1251.3 1640.1 1249.8 1638.9Q1248.4 1637.7 1247.8 1636.9Q1247.2 1636.1 1247.3 1635.0Q1247.4 1633.9 1249.4 1634.0Q1251.4 1634.1 1254.0 1633.8Q1256.6 1633.6 1257.7 1635.0Q1258.7 1636.4 1257.4 1637.7Z"/>
<path d="M747.7 1609.1Q747.2 1611.7 744.7 1612.4Q742.2 1613.2 739.7 1613.2Q737.1 1613.2 736.2 1610.9Q735.3 1608.6 734.9 1606.4Q734.6 1604.2 735.9 1602.0Q737.2 1599.9 739.7 1599.8Q742.2 1599.7 743.9 1601.1Q745.7 1602.6 746.9 1604.5Q748.1 1606.5 747.7 1609.1Z"/>
<path d="M811.1 1617.7Q810.0 1619.3 808.5 1620.8Q807.1 1622.3 805.3 1621.4Q803.5 1620.4 801.8 1619.3Q800.2 1618.1 800.9 1616.3Q801.6 1614.4 802.3 1612.7Q803.1 1610.9 805.1 1610.3Q807.1 1609.6 808.8 1610.9Q810.4 1612.3 811.4 1614.1Q812.3 1616.0 811.1 1617.7Z"/>
<path d="M855.3 1645.1Q854.3 1647.6 850.8 1648.0Q847.4 1648.4 844.2 1646.7Q841.1 1645.0 840.7 1642.4Q840.2 1639.8 841.0 1637.9Q841.8 1636.0 843.6 1634.3Q845.4 1632.6 848.2 1633.7Q851.0 1634.8 852.8 1636.5Q854.5 1638.1 855.4 1640.4Q856.3 1642.6 855.3 1645.1Z"/>
<path d="M988.9 1616.9Q990.0 1620.2 986.7 1622.7Q983.4 1625.2 980.1 1627.5Q976.8 1629.7 972.9 1628.9Q969.0 1628.1 967.3 1624.9Q965.6 1621.7 968.2 1618.6Q970.9 1615.5 973.3 1613.5Q975.8 1611.6 979.6 1609.9Q983.5 1608.2 985.7 1610.9Q987.9 1613.6 988.9 1616.9Z"/>
<path d="M1033.5 1625.5Q1031.8 1628.6 1029.7 1630.5Q1027.6 1632.5 1024.4 1633.9Q1021.2 1635.2 1019.2 1632.9Q1017.2 1630.7 1016.5 1628.3Q1015.7 1626.0 1016.9 1623.6Q1018.0 1621.2 1020.6 1619.2Q1023.2 1617.2 1026.3 1618.1Q1029.4 1618.9 1032.4 1620.7Q1035.3 1622.5 1033.5 1625.5Z"/>
<path d="M1070.0 1669.2Q1067.6 1671.4 1065.3 1673.8Q1063.0 1676.1 1059.2 1675.4Q1055.4 1674.7 1053.7 1672.2Q1052.1 1669.6 1051.6 1666.9Q1051.2 1664.1 1053.4 1661.9Q1055.6 1659.6 1059.1 1659.9Q1062.5 1660.3 1066.2 1660.6Q1070.0 1661.0 1071.2 1664.0Q1072.4 1667.0 1070.0 1669.2Z"/>
<path d="M1088.6 1648.7Q1087.0 1653.3 1084.8 1656.4Q1082.7 1659.6 1082.2 1656.1Q1081.6 1652.7 1081.4 1649.6Q1081.1 1646.6 1082.4 1642.3Q1083.7 1638.1 1085.4 1633.4Q1087.1 1628.6 1088.5 1629.5Q1089.9 1630.5 1091.1 1632.1Q1092.2 1633.8 1091.2 1638.9Q1090.3 1644.1 1088.6 1648.7Z"/>
<path d="M1128.7 1627.2Q1126.9 1629.3 1124.0 1628.1Q1121.2 1626.9 1119.0 1625.6Q1116.8 1624.3 1115.6 1621.8Q1114.4 1619.3 1116.0 1617.4Q1117.7 1615.4 1120.1 1615.1Q1122.5 1614.7 1125.2 1615.0Q1127.8 1615.2 1129.6 1617.6Q1131.4 1619.9 1131.0 1622.5Q1130.6 1625.2 1128.7 1627.2Z"/>
<path d="M1153.6 1645.4Q1154.0 1648.9 1152.3 1651.0Q1150.7 1653.0 1148.4 1654.0Q1146.0 1654.9 1142.9 1653.6Q1139.8 1652.3 1138.9 1648.4Q1138.1 1644.5 1137.7 1640.5Q1137.3 1636.5 1140.2 1635.8Q1143.2 1635.1 1146.0 1635.6Q1148.9 1636.2 1151.0 1639.1Q1153.2 1642.0 1153.6 1645.4Z"/>
<path d="M400.0 1333.9Q399.5 1335.7 397.7 1336.7Q396.0 1337.6 394.3 1336.9Q392.6 1336.2 391.5 1334.9Q390.4 1333.7 390.7 1332.1Q391.0 1330.5 391.7 1329.1Q392.5 1327.6 394.2 1327.0Q396.0 1326.4 397.2 1327.8Q398.4 1329.2 399.5 1330.6Q400.6 1332.0 400.0 1333.9Z"/>
<path d="M888.2 1615.3Q887.1 1615.9 885.5 1616.2Q884.0 1616.5 882.1 1615.8Q880.3 1615.0 878.7 1613.7Q877.1 1612.4 877.9 1611.2Q878.6 1610.0 880.2 1609.3Q881.7 1608.6 883.7 1609.5Q885.8 1610.4 887.4 1611.3Q888.9 1612.2 889.1 1613.4Q889.3 1614.6 888.2 1615.3Z"/>
<path d="M1075.6 1619.3Q1074.9 1620.7 1074.2 1621.9Q1073.5 1623.1 1072.5 1622.8Q1071.4 1622.5 1071.1 1621.0Q1070.7 1619.4 1070.6 1617.9Q1070.5 1616.5 1070.9 1614.8Q1071.3 1613.2 1072.4 1613.5Q1073.5 1613.7 1074.4 1614.2Q1075.4 1614.6 1075.8 1616.3Q1076.2 1618.0 1075.6 1619.3Z"/>
<path d="M1039.0 1481.1Q1038.6 1482.2 1037.6 1483.1Q1036.7 1484.0 1035.5 1483.4Q1034.3 1482.9 1033.3 1482.1Q1032.2 1481.4 1032.3 1480.0Q1032.3 1478.6 1033.3 1477.8Q1034.2 1476.9 1035.4 1477.0Q1036.5 1477.1 1037.5 1477.5Q1038.5 1477.9 1038.9 1478.9Q1039.4 1480.0 1039.0 1481.1Z"/>
<path d="M1077.3 1551.0Q1076.4 1552.0 1075.5 1552.8Q1074.6 1553.6 1073.5 1553.1Q1072.5 1552.7 1071.4 1552.0Q1070.4 1551.3 1070.4 1550.0Q1070.5 1548.7 1071.2 1547.6Q1072.0 1546.5 1073.3 1546.5Q1074.6 1546.4 1075.4 1547.3Q1076.3 1548.1 1077.2 1549.1Q1078.1 1550.0 1077.3 1551.0Z"/>
<path d="M223.9 1425.0Q223.4 1426.0 222.5 1426.7Q221.6 1427.5 220.6 1427.0Q219.5 1426.6 218.9 1425.8Q218.4 1425.0 218.3 1424.0Q218.2 1423.0 218.9 1422.2Q219.5 1421.3 220.5 1421.1Q221.6 1420.8 222.5 1421.4Q223.4 1422.0 223.9 1423.0Q224.4 1424.0 223.9 1425.0Z"/>
</g>
<ellipse cx="1060" cy="1700" rx="26" ry="22" fill="#9a9a9c" opacity="0.45" filter="url(#blur8)"/>
<g stroke="#b4b4b4" stroke-width="4" stroke-linecap="round" opacity="0.8" filter="url(#soft2)">
<line x1="425" y1="1706" x2="470" y2="1672"/><line x1="400" y1="1668" x2="440" y2="1658"/><line x1="470" y1="1690" x2="534" y2="1658"/><line x1="350" y1="1660" x2="372" y2="1666"/><line x1="480" y1="1640" x2="498" y2="1652"/>
</g>
<g fill="#4a46d8" opacity="0.6" filter="url(#soft)">
<circle cx="696.0" cy="1716.4" r="1.7"/>
<circle cx="627.7" cy="1733.8" r="1.7"/>
<circle cx="545.8" cy="1747.5" r="2.0"/>
<circle cx="724.9" cy="1774.8" r="2.0"/>
<circle cx="682.6" cy="1776.4" r="1.4"/>
<circle cx="665.4" cy="1781.9" r="2.0"/>
<circle cx="735.8" cy="1723.9" r="2.4"/>
<circle cx="601.3" cy="1740.5" r="1.4"/>
<circle cx="722.2" cy="1760.5" r="2.4"/>
<circle cx="670.5" cy="1709.3" r="2.4"/>
<circle cx="684.3" cy="1761.4" r="1.4"/>
<circle cx="643.3" cy="1703.8" r="1.7"/>
<circle cx="753.6" cy="1797.7" r="2.4"/>
<circle cx="656.3" cy="1709.7" r="2.4"/>
<circle cx="675.1" cy="1711.8" r="1.4"/>
<circle cx="665.0" cy="1742.3" r="1.7"/>
<circle cx="628.4" cy="1768.9" r="2.4"/>
<circle cx="693.5" cy="1727.0" r="2.4"/>
<circle cx="730.0" cy="1738.9" r="1.7"/>
<circle cx="695.0" cy="1730.5" r="1.4"/>
<circle cx="598.0" cy="1731.6" r="2.4"/>
<circle cx="571.6" cy="1733.4" r="1.7"/>
<circle cx="690.2" cy="1712.1" r="1.7"/>
<circle cx="652.3" cy="1750.5" r="2.4"/>
<circle cx="629.6" cy="1773.9" r="1.4"/>
<circle cx="774.6" cy="1738.0" r="2.0"/>
<circle cx="610.2" cy="1758.4" r="2.0"/>
<circle cx="695.4" cy="1764.5" r="2.0"/>
<circle cx="661.2" cy="1727.6" r="1.7"/>
<circle cx="532.0" cy="1714.1" r="1.7"/>
<circle cx="657.1" cy="1744.4" r="2.4"/>
<circle cx="649.9" cy="1720.3" r="1.7"/>
<circle cx="672.4" cy="1733.2" r="2.4"/>
<circle cx="760.6" cy="1724.5" r="2.0"/>
<circle cx="674.5" cy="1781.8" r="1.7"/>
<circle cx="703.5" cy="1757.3" r="1.7"/>
<circle cx="655.5" cy="1704.7" r="2.4"/>
<circle cx="683.5" cy="1726.5" r="1.4"/>
<circle cx="603.8" cy="1741.1" r="2.4"/>
<circle cx="578.8" cy="1717.7" r="2.0"/>
<circle cx="617.8" cy="1737.2" r="1.7"/>
<circle cx="644.2" cy="1698.6" r="2.4"/>
<circle cx="655.7" cy="1760.5" r="2.0"/>
<circle cx="729.0" cy="1736.0" r="2.0"/>
<circle cx="598.5" cy="1710.4" r="2.4"/>
<circle cx="633.6" cy="1729.8" r="2.4"/>
<circle cx="656.1" cy="1758.0" r="2.0"/>
<circle cx="690.0" cy="1762.8" r="2.4"/>
<circle cx="678.8" cy="1739.1" r="1.4"/>
<circle cx="597.2" cy="1764.5" r="2.4"/>
<circle cx="545.5" cy="1666.4" r="1.4"/>
<circle cx="650.5" cy="1772.9" r="1.4"/>
<circle cx="648.6" cy="1731.5" r="2.0"/>
<circle cx="613.9" cy="1773.8" r="2.0"/>
<circle cx="657.7" cy="1742.9" r="1.4"/>
<circle cx="688.5" cy="1752.1" r="1.4"/>
<circle cx="693.7" cy="1749.0" r="1.7"/>
<circle cx="576.8" cy="1739.0" r="1.4"/>
<circle cx="600.9" cy="1732.4" r="1.7"/>
<circle cx="671.9" cy="1788.1" r="2.0"/>
<circle cx="468.4" cy="1785.5" r="2.4"/>
<circle cx="458.3" cy="1793.0" r="1.7"/>
<circle cx="444.7" cy="1744.5" r="1.4"/>
<circle cx="458.1" cy="1782.5" r="2.4"/>
<circle cx="459.2" cy="1737.7" r="2.0"/>
<circle cx="449.2" cy="1761.4" r="1.4"/>
<circle cx="430.9" cy="1796.8" r="2.0"/>
<circle cx="443.8" cy="1732.1" r="2.4"/>
<circle cx="485.4" cy="1760.3" r="1.7"/>
<circle cx="479.9" cy="1742.3" r="1.4"/>
<circle cx="415.4" cy="1767.0" r="1.4"/>
<circle cx="513.6" cy="1772.8" r="1.4"/>
<circle cx="538.0" cy="1772.9" r="2.0"/>
<circle cx="489.7" cy="1795.2" r="1.7"/>
<circle cx="496.2" cy="1770.8" r="1.4"/>
<circle cx="313.1" cy="1675.2" r="2.4"/>
<circle cx="338.2" cy="1699.8" r="1.7"/>
<circle cx="361.4" cy="1711.8" r="1.4"/>
<circle cx="359.2" cy="1685.9" r="1.4"/>
<circle cx="360.6" cy="1693.0" r="2.4"/>
<circle cx="399.6" cy="1688.0" r="1.7"/>
<circle cx="356.7" cy="1685.0" r="1.4"/>
<circle cx="364.8" cy="1702.2" r="1.4"/>
<circle cx="362.5" cy="1669.4" r="1.7"/>
<circle cx="364.8" cy="1696.6" r="1.4"/>
<circle cx="387.0" cy="1699.4" r="2.0"/>
<circle cx="379.1" cy="1687.6" r="1.4"/>
<circle cx="369.0" cy="1688.4" r="1.4"/>
<circle cx="390.0" cy="1686.1" r="1.4"/>
<circle cx="399.6" cy="1693.4" r="2.0"/>
<circle cx="385.4" cy="1686.4" r="2.0"/>
<circle cx="365.3" cy="1682.3" r="2.0"/>
<circle cx="352.1" cy="1694.6" r="2.4"/>
<circle cx="224.4" cy="1779.0" r="1.7"/>
<circle cx="241.9" cy="1791.2" r="1.7"/>
<circle cx="264.4" cy="1774.8" r="1.7"/>
<circle cx="273.7" cy="1793.4" r="1.7"/>
<circle cx="209.6" cy="1785.0" r="2.4"/>
<circle cx="184.1" cy="1771.1" r="1.7"/>
<circle cx="188.1" cy="1797.4" r="2.4"/>
<circle cx="254.0" cy="1790.4" r="1.4"/>
<circle cx="262.3" cy="1770.6" r="2.4"/>
<circle cx="1150.6" cy="1676.6" r="2.4"/>
<circle cx="1253.8" cy="1730.3" r="1.4"/>
<circle cx="1106.7" cy="1658.8" r="2.0"/>
<circle cx="1219.3" cy="1683.5" r="2.4"/>
<circle cx="1204.3" cy="1712.2" r="1.7"/>
<circle cx="1223.4" cy="1695.1" r="2.4"/>
<circle cx="1243.9" cy="1724.6" r="1.4"/>
<circle cx="1203.5" cy="1646.8" r="1.4"/>
<circle cx="1229.3" cy="1656.5" r="2.4"/>
<circle cx="1151.5" cy="1705.4" r="1.7"/>
<circle cx="1207.1" cy="1688.7" r="2.4"/>
<circle cx="1204.0" cy="1704.4" r="2.4"/>
<circle cx="1217.9" cy="1711.1" r="1.7"/>
<circle cx="1209.4" cy="1704.9" r="2.4"/>
<circle cx="1195.1" cy="1642.6" r="1.4"/>
<circle cx="1198.7" cy="1674.8" r="1.7"/>
<circle cx="1175.6" cy="1657.9" r="1.4"/>
<circle cx="1104.3" cy="1700.1" r="1.7"/>
<circle cx="1141.8" cy="1685.7" r="2.4"/>
<circle cx="1146.2" cy="1662.1" r="2.4"/>
<circle cx="1215.3" cy="1681.2" r="2.4"/>
<circle cx="1194.5" cy="1706.6" r="2.0"/>
<circle cx="1180.0" cy="1708.6" r="2.0"/>
<circle cx="1206.1" cy="1687.3" r="2.4"/>
<circle cx="1182.3" cy="1699.2" r="1.4"/>
<circle cx="1110.3" cy="1686.0" r="2.0"/>
<circle cx="1217.5" cy="1673.7" r="2.0"/>
<circle cx="1217.4" cy="1692.0" r="2.4"/>
<circle cx="1245.7" cy="1664.1" r="2.4"/>
<circle cx="1228.5" cy="1710.6" r="1.7"/>
<circle cx="1209.2" cy="1721.9" r="1.7"/>
<circle cx="1195.4" cy="1642.9" r="2.4"/>
<circle cx="1134.7" cy="1652.9" r="2.0"/>
<circle cx="983.9" cy="1665.3" r="1.4"/>
<circle cx="987.6" cy="1674.1" r="1.4"/>
<circle cx="985.3" cy="1767.8" r="1.4"/>
<circle cx="996.7" cy="1713.3" r="2.4"/>
<circle cx="988.8" cy="1644.2" r="2.0"/>
<circle cx="1003.8" cy="1742.8" r="1.4"/>
<circle cx="999.0" cy="1744.8" r="1.7"/>
<circle cx="980.4" cy="1698.6" r="1.4"/>
<circle cx="978.4" cy="1707.9" r="1.4"/>
<circle cx="999.7" cy="1669.5" r="1.7"/>
<circle cx="993.6" cy="1743.4" r="2.0"/>
<circle cx="984.7" cy="1642.1" r="2.0"/>
<circle cx="994.3" cy="1740.1" r="1.4"/>
<circle cx="997.1" cy="1774.3" r="1.7"/>
<circle cx="991.8" cy="1695.3" r="1.4"/>
<circle cx="999.4" cy="1675.3" r="2.4"/>
<circle cx="997.8" cy="1747.7" r="1.7"/>
<circle cx="987.6" cy="1763.5" r="2.0"/>
<circle cx="833.5" cy="1702.7" r="2.0"/>
<circle cx="757.4" cy="1759.4" r="1.4"/>
<circle cx="737.9" cy="1745.4" r="1.4"/>
<circle cx="737.8" cy="1687.1" r="1.4"/>
<circle cx="802.4" cy="1727.8" r="1.4"/>
<circle cx="634.6" cy="1742.2" r="1.4"/>
<circle cx="677.2" cy="1765.0" r="1.4"/>
<circle cx="720.5" cy="1713.0" r="1.7"/>
<circle cx="768.5" cy="1716.7" r="1.4"/>
<circle cx="699.3" cy="1731.0" r="1.4"/>
<circle cx="722.4" cy="1749.3" r="1.7"/>
<circle cx="829.8" cy="1709.1" r="1.4"/>
<circle cx="727.6" cy="1710.7" r="1.7"/>
<circle cx="847.8" cy="1710.9" r="2.4"/>
<circle cx="839.0" cy="1657.7" r="2.0"/>
<circle cx="862.1" cy="1669.6" r="2.0"/>
<circle cx="891.9" cy="1662.1" r="2.0"/>
<circle cx="820.6" cy="1657.4" r="2.0"/>
<circle cx="879.0" cy="1692.5" r="1.4"/>
<circle cx="890.3" cy="1677.2" r="2.0"/>
<circle cx="846.8" cy="1673.6" r="1.7"/>
<circle cx="848.5" cy="1659.1" r="1.7"/>
<circle cx="873.7" cy="1659.6" r="2.0"/>
<circle cx="817.3" cy="1685.1" r="2.0"/>
<circle cx="815.5" cy="1657.6" r="1.7"/>
<circle cx="870.6" cy="1671.6" r="2.4"/>
<circle cx="1099.3" cy="1662.1" r="1.7"/>
<circle cx="1101.5" cy="1722.1" r="2.0"/>
<circle cx="1099.0" cy="1673.3" r="1.4"/>
<circle cx="1100.3" cy="1677.7" r="1.4"/>
<circle cx="1101.5" cy="1708.0" r="1.4"/>
<circle cx="1105.7" cy="1696.6" r="1.4"/>
<circle cx="1095.0" cy="1673.7" r="2.4"/>
<circle cx="1107.0" cy="1722.3" r="1.4"/>
<circle cx="1075.0" cy="1694.9" r="2.0"/>
<circle cx="449.7" cy="1744.0" r="2.0"/>
<circle cx="426.4" cy="1698.9" r="1.4"/>
<circle cx="445.1" cy="1697.6" r="2.0"/>
<circle cx="402.9" cy="1672.1" r="2.4"/>
<circle cx="418.3" cy="1695.8" r="1.7"/>
<circle cx="419.6" cy="1696.3" r="2.4"/>
<circle cx="449.4" cy="1715.7" r="1.7"/>
<circle cx="420.2" cy="1733.7" r="1.7"/>
<circle cx="446.0" cy="1721.4" r="1.4"/>
<circle cx="421.6" cy="1708.4" r="1.7"/>
<circle cx="415.3" cy="1727.7" r="2.4"/>
<circle cx="469.0" cy="1708.1" r="1.4"/>
<circle cx="673.2" cy="1674.2" r="1.4"/>
<circle cx="633.6" cy="1679.1" r="1.4"/>
<circle cx="672.4" cy="1664.1" r="2.0"/>
<circle cx="669.2" cy="1678.7" r="2.4"/>
<circle cx="689.2" cy="1647.2" r="1.4"/>
<circle cx="686.3" cy="1695.7" r="2.4"/>
<circle cx="616.5" cy="1667.8" r="2.4"/>
<circle cx="641.7" cy="1657.4" r="2.4"/>
<circle cx="612.3" cy="1695.3" r="2.4"/>
<circle cx="648.0" cy="1669.7" r="2.4"/>
<circle cx="596.1" cy="1676.8" r="2.4"/>
<circle cx="638.2" cy="1708.1" r="2.0"/>
<circle cx="224.7" cy="1673.2" r="1.4"/>
<circle cx="289.7" cy="1655.7" r="2.0"/>
<circle cx="202.7" cy="1655.3" r="1.4"/>
<circle cx="188.1" cy="1652.1" r="2.4"/>
<circle cx="223.8" cy="1663.7" r="2.4"/>
<circle cx="247.3" cy="1675.2" r="1.4"/>
<circle cx="286.4" cy="1689.6" r="1.4"/>
<circle cx="236.9" cy="1675.1" r="1.7"/>
<circle cx="954.9" cy="1753.7" r="2.4"/>
<circle cx="952.3" cy="1761.8" r="2.0"/>
<circle cx="947.1" cy="1683.2" r="2.0"/>
<circle cx="956.4" cy="1770.1" r="1.4"/>
<circle cx="960.1" cy="1750.7" r="2.4"/>
<circle cx="948.8" cy="1754.1" r="2.4"/>
<circle cx="945.5" cy="1743.6" r="2.4"/>
<circle cx="950.2" cy="1734.5" r="2.4"/>
<circle cx="955.6" cy="1715.2" r="1.7"/>
<circle cx="952.1" cy="1761.8" r="2.4"/>
<circle cx="1220.3" cy="1728.9" r="1.8"/>
<circle cx="1247.0" cy="1678.9" r="1.2"/>
<circle cx="512.5" cy="1720.4" r="1.5"/>
<circle cx="1244.1" cy="1683.2" r="1.8"/>
<circle cx="263.0" cy="1776.7" r="1.5"/>
<circle cx="767.4" cy="1683.3" r="1.8"/>
<circle cx="563.5" cy="1780.8" r="1.5"/>
<circle cx="721.7" cy="1746.0" r="1.5"/>
<circle cx="560.7" cy="1787.7" r="1.5"/>
<circle cx="1106.1" cy="1732.2" r="1.8"/>
<circle cx="811.5" cy="1661.9" r="1.8"/>
<circle cx="526.1" cy="1675.2" r="1.5"/>
<circle cx="188.2" cy="1697.5" r="1.5"/>
<circle cx="1006.1" cy="1763.5" r="1.5"/>
<circle cx="606.8" cy="1757.0" r="1.5"/>
<circle cx="563.7" cy="1732.8" r="1.2"/>
<circle cx="841.8" cy="1650.2" r="1.8"/>
<circle cx="807.6" cy="1758.5" r="1.2"/>
<circle cx="207.0" cy="1690.1" r="1.5"/>
<circle cx="547.0" cy="1763.9" r="1.5"/>
<circle cx="688.5" cy="1682.2" r="1.8"/>
<circle cx="565.4" cy="1769.7" r="1.2"/>
<circle cx="216.9" cy="1687.1" r="1.8"/>
<circle cx="671.0" cy="1696.4" r="1.2"/>
<circle cx="801.7" cy="1719.0" r="1.5"/>
<circle cx="1015.2" cy="1796.7" r="1.8"/>
<circle cx="180.0" cy="1714.9" r="1.2"/>
<circle cx="674.0" cy="1683.7" r="1.8"/>
<circle cx="392.7" cy="1704.5" r="1.2"/>
<circle cx="1102.6" cy="1654.2" r="1.2"/>
<circle cx="264.8" cy="1787.7" r="1.2"/>
<circle cx="691.2" cy="1697.5" r="1.2"/>
<circle cx="387.6" cy="1758.4" r="1.8"/>
<circle cx="302.4" cy="1753.8" r="1.2"/>
<circle cx="828.3" cy="1752.9" r="1.5"/>
<circle cx="1131.4" cy="1693.4" r="1.5"/>
<circle cx="469.7" cy="1668.9" r="1.8"/>
<circle cx="655.5" cy="1791.8" r="1.5"/>
<circle cx="820.1" cy="1709.4" r="1.5"/>
<circle cx="690.3" cy="1761.8" r="1.2"/>
<circle cx="415.7" cy="1701.5" r="1.8"/>
<circle cx="1096.9" cy="1689.7" r="1.5"/>
<circle cx="1044.3" cy="1770.2" r="1.2"/>
<circle cx="485.3" cy="1743.2" r="1.8"/>
<circle cx="711.0" cy="1779.6" r="1.5"/>
<circle cx="615.0" cy="1786.2" r="1.2"/>
<circle cx="751.4" cy="1729.9" r="1.5"/>
<circle cx="534.8" cy="1756.9" r="1.8"/>
<circle cx="249.7" cy="1755.3" r="1.5"/>
<circle cx="276.6" cy="1761.9" r="1.8"/>
<circle cx="1047.0" cy="1782.5" r="1.5"/>
<circle cx="722.9" cy="1750.2" r="1.8"/>
<circle cx="808.7" cy="1655.7" r="1.5"/>
<circle cx="632.6" cy="1670.3" r="1.2"/>
<circle cx="288.8" cy="1773.1" r="1.8"/>
<circle cx="682.6" cy="1786.1" r="1.8"/>
<circle cx="832.2" cy="1702.9" r="1.8"/>
<circle cx="1228.5" cy="1672.6" r="1.2"/>
<circle cx="914.4" cy="1748.7" r="1.8"/>
<circle cx="269.1" cy="1731.7" r="1.5"/>
<circle cx="308.2" cy="1787.2" r="1.5"/>
<circle cx="325.1" cy="1689.4" r="1.8"/>
<circle cx="171.4" cy="1693.9" r="1.2"/>
<circle cx="482.4" cy="1721.7" r="1.2"/>
<circle cx="635.0" cy="1712.4" r="1.2"/>
<circle cx="1022.2" cy="1776.9" r="1.8"/>
</g>
<g fill="#6a68cc" opacity="0.55" filter="url(#soft)">
<circle cx="1168.2" cy="1506.5" r="2.3"/>
<circle cx="200.3" cy="1514.4" r="2.3"/>
<circle cx="1160.2" cy="1353.2" r="1.3"/>
<circle cx="1246.6" cy="1388.2" r="2.0"/>
<circle cx="1244.8" cy="1577.9" r="1.6"/>
<circle cx="334.3" cy="1518.6" r="2.0"/>
<circle cx="558.5" cy="1575.7" r="1.6"/>
<circle cx="204.5" cy="1460.4" r="2.3"/>
<circle cx="894.1" cy="1481.7" r="1.6"/>
<circle cx="765.7" cy="1341.8" r="2.3"/>
<circle cx="252.5" cy="1528.4" r="2.0"/>
<circle cx="991.8" cy="1438.5" r="1.6"/>
<circle cx="849.3" cy="1379.1" r="2.3"/>
<circle cx="1138.7" cy="1331.4" r="1.6"/>
<circle cx="184.5" cy="1543.8" r="2.0"/>
<circle cx="407.9" cy="1452.6" r="2.3"/>
<circle cx="1163.7" cy="1461.9" r="2.0"/>
<circle cx="856.0" cy="1587.1" r="1.3"/>
<circle cx="896.4" cy="1325.4" r="2.0"/>
<circle cx="1165.7" cy="1587.7" r="1.3"/>
<circle cx="201.8" cy="1516.2" r="1.3"/>
<circle cx="772.3" cy="1399.7" r="2.3"/>
<circle cx="528.3" cy="1569.3" r="1.3"/>
<circle cx="720.7" cy="1354.6" r="1.3"/>
<circle cx="578.3" cy="1611.7" r="1.3"/>
<circle cx="1008.5" cy="1454.8" r="1.3"/>
<circle cx="725.2" cy="1599.1" r="1.6"/>
<circle cx="809.3" cy="1467.9" r="2.0"/>
<circle cx="508.8" cy="1356.3" r="1.6"/>
<circle cx="463.4" cy="1527.0" r="1.3"/>
<circle cx="340.9" cy="1489.6" r="1.3"/>
<circle cx="1214.9" cy="1546.1" r="2.0"/>
<circle cx="480.4" cy="1374.8" r="2.0"/>
<circle cx="237.7" cy="1340.2" r="1.3"/>
<circle cx="282.1" cy="1573.6" r="2.3"/>
<circle cx="815.3" cy="1566.2" r="2.0"/>
<circle cx="831.2" cy="1451.4" r="2.0"/>
<circle cx="655.7" cy="1531.9" r="1.6"/>
<circle cx="1142.7" cy="1398.5" r="2.3"/>
<circle cx="1174.4" cy="1385.2" r="1.6"/>
<circle cx="895.4" cy="1452.0" r="1.6"/>
<circle cx="391.5" cy="1609.4" r="2.3"/>
<circle cx="849.8" cy="1322.4" r="1.6"/>
<circle cx="408.4" cy="1508.5" r="1.3"/>
<circle cx="406.8" cy="1442.8" r="2.0"/>
<circle cx="1133.0" cy="1543.5" r="2.0"/>
<circle cx="564.3" cy="1563.8" r="2.3"/>
<circle cx="1234.4" cy="1429.2" r="1.6"/>
<circle cx="755.9" cy="1527.9" r="1.3"/>
<circle cx="807.9" cy="1368.5" r="1.6"/>
<circle cx="402.4" cy="1318.8" r="1.6"/>
<circle cx="815.4" cy="1329.2" r="2.0"/>
<circle cx="461.5" cy="1444.9" r="2.0"/>
<circle cx="647.1" cy="1481.0" r="2.0"/>
<circle cx="392.9" cy="1422.0" r="1.6"/>
<circle cx="291.7" cy="1410.7" r="1.6"/>
<circle cx="899.1" cy="1423.9" r="2.3"/>
<circle cx="634.9" cy="1440.6" r="1.6"/>
<circle cx="365.8" cy="1365.8" r="1.3"/>
<circle cx="476.8" cy="1584.2" r="2.3"/>
<circle cx="1034.8" cy="1591.1" r="2.3"/>
<circle cx="1034.9" cy="1334.1" r="2.0"/>
<circle cx="390.1" cy="1573.0" r="2.3"/>
<circle cx="447.6" cy="1319.7" r="1.6"/>
<circle cx="422.9" cy="1570.9" r="1.3"/>
<circle cx="674.9" cy="1386.7" r="2.0"/>
<circle cx="1026.4" cy="1592.6" r="1.6"/>
<circle cx="989.2" cy="1321.0" r="2.3"/>
<circle cx="396.9" cy="1345.0" r="2.0"/>
<circle cx="987.1" cy="1557.9" r="1.3"/>
<circle cx="934.2" cy="1480.9" r="1.6"/>
<circle cx="366.1" cy="1522.9" r="1.3"/>
<circle cx="169.0" cy="1429.8" r="1.3"/>
<circle cx="838.7" cy="1539.4" r="1.6"/>
<circle cx="1088.9" cy="1481.8" r="1.3"/>
<circle cx="238.8" cy="1581.7" r="1.6"/>
<circle cx="296.9" cy="1430.1" r="1.3"/>
<circle cx="307.3" cy="1359.9" r="2.0"/>
<circle cx="215.1" cy="1458.3" r="1.3"/>
<circle cx="506.5" cy="1334.6" r="1.6"/>
<circle cx="754.0" cy="1600.8" r="2.0"/>
<circle cx="1070.9" cy="1331.8" r="1.6"/>
<circle cx="569.6" cy="1583.6" r="1.3"/>
<circle cx="1093.5" cy="1424.6" r="2.3"/>
<circle cx="592.4" cy="1471.6" r="2.0"/>
<circle cx="696.6" cy="1591.4" r="2.3"/>
<circle cx="303.1" cy="1502.5" r="1.3"/>
<circle cx="1214.7" cy="1461.1" r="1.6"/>
<circle cx="775.8" cy="1395.6" r="2.3"/>
<circle cx="1177.0" cy="1435.8" r="1.6"/>
<circle cx="758.9" cy="1396.5" r="1.3"/>
<circle cx="863.6" cy="1466.8" r="1.3"/>
<circle cx="948.1" cy="1329.6" r="2.3"/>
<circle cx="1128.1" cy="1331.8" r="1.6"/>
<circle cx="262.9" cy="1380.5" r="1.3"/>
<circle cx="305.4" cy="1516.7" r="1.3"/>
<circle cx="1247.9" cy="1391.9" r="1.3"/>
<circle cx="745.5" cy="1522.9" r="1.3"/>
<circle cx="836.8" cy="1381.1" r="1.6"/>
<circle cx="1160.6" cy="1496.2" r="1.6"/>
<circle cx="717.5" cy="1470.7" r="2.0"/>
<circle cx="372.5" cy="1333.8" r="2.0"/>
<circle cx="532.9" cy="1549.4" r="2.3"/>
<circle cx="275.7" cy="1379.1" r="2.3"/>
<circle cx="455.2" cy="1481.5" r="2.0"/>
<circle cx="541.1" cy="1583.9" r="2.0"/>
<circle cx="1187.5" cy="1388.3" r="2.3"/>
<circle cx="1162.9" cy="1479.5" r="1.3"/>
<circle cx="947.9" cy="1578.5" r="2.0"/>
<circle cx="656.8" cy="1457.7" r="2.3"/>
<circle cx="876.8" cy="1317.2" r="2.0"/>
<circle cx="817.6" cy="1397.0" r="1.6"/>
<circle cx="860.9" cy="1450.0" r="2.0"/>
<circle cx="652.5" cy="1403.3" r="2.0"/>
<circle cx="257.3" cy="1445.1" r="1.3"/>
<circle cx="637.7" cy="1500.6" r="1.3"/>
<circle cx="283.7" cy="1440.7" r="2.0"/>
<circle cx="736.6" cy="1522.8" r="1.3"/>
<circle cx="614.7" cy="1348.7" r="2.0"/>
<circle cx="1190.1" cy="1322.8" r="1.3"/>
<circle cx="216.2" cy="1518.7" r="2.3"/>
<circle cx="1065.5" cy="1477.3" r="1.3"/>
<circle cx="1024.7" cy="1379.8" r="1.3"/>
<circle cx="1003.0" cy="1471.2" r="1.3"/>
<circle cx="1036.2" cy="1586.4" r="2.0"/>
<circle cx="684.4" cy="1534.1" r="2.0"/>
<circle cx="1218.6" cy="1597.8" r="2.0"/>
<circle cx="209.7" cy="1469.6" r="1.3"/>
<circle cx="210.5" cy="1386.6" r="1.6"/>
<circle cx="478.8" cy="1423.2" r="1.3"/>
<circle cx="223.6" cy="1437.0" r="1.6"/>
<circle cx="1209.6" cy="1446.0" r="1.6"/>
<circle cx="661.6" cy="1376.7" r="2.3"/>
<circle cx="410.0" cy="1462.9" r="2.3"/>
<circle cx="763.9" cy="1535.5" r="1.6"/>
<circle cx="799.3" cy="1609.8" r="1.6"/>
<circle cx="265.0" cy="1594.9" r="1.3"/>
<circle cx="1106.1" cy="1504.6" r="2.0"/>
<circle cx="500.8" cy="1367.1" r="1.6"/>
<circle cx="369.7" cy="1334.4" r="2.0"/>
<circle cx="1089.6" cy="1343.3" r="2.3"/>
<circle cx="189.8" cy="1515.3" r="1.3"/>
<circle cx="816.6" cy="1553.5" r="2.3"/>
<circle cx="1149.9" cy="1432.8" r="1.3"/>
<circle cx="1235.9" cy="1403.1" r="1.3"/>
<circle cx="408.1" cy="1330.1" r="2.0"/>
<circle cx="391.2" cy="1505.6" r="1.3"/>
<circle cx="951.1" cy="1547.7" r="1.6"/>
<circle cx="428.3" cy="1573.2" r="1.3"/>
<circle cx="1025.9" cy="1500.9" r="2.3"/>
<circle cx="625.5" cy="1417.7" r="2.0"/>
<circle cx="650.9" cy="1501.1" r="2.0"/>
<circle cx="1038.3" cy="1469.1" r="2.0"/>
<circle cx="1099.7" cy="1524.8" r="2.3"/>
<circle cx="462.4" cy="1481.7" r="2.0"/>
<circle cx="389.0" cy="1402.0" r="2.0"/>
<circle cx="989.3" cy="1576.5" r="2.3"/>
<circle cx="1111.7" cy="1450.9" r="1.3"/>
<circle cx="604.7" cy="1476.0" r="2.3"/>
<circle cx="1142.1" cy="1534.2" r="1.3"/>
<circle cx="744.8" cy="1410.1" r="2.3"/>
<circle cx="488.3" cy="1555.3" r="2.0"/>
<circle cx="1131.6" cy="1455.4" r="2.0"/>
<circle cx="1061.9" cy="1355.2" r="1.6"/>
<circle cx="1185.6" cy="1378.1" r="2.3"/>
<circle cx="314.5" cy="1376.6" r="1.3"/>
<circle cx="507.1" cy="1386.3" r="1.3"/>
<circle cx="1080.9" cy="1584.5" r="2.3"/>
<circle cx="1206.7" cy="1547.1" r="1.3"/>
<circle cx="871.2" cy="1428.8" r="2.3"/>
</g>
</g>
<rect x="411.3" y="1154" width="583.7" height="97.6" fill="#fff"/>
<text x="444.6" y="1222" font-size="54.5" fill="#161616" filter="url(#soft)">Roughness: 11.2 µm</text>
<text x="198" y="1062.3" font-size="82" letter-spacing="2" fill="#0a0a0a" filter="url(#soft)">(c)</text>
<rect x="1055.7" y="1737.3" width="182.29999999999995" height="56.700000000000045" fill="#fdfdfd"/>
<g filter="url(#soft)"><text class="b" x="1147" y="1768.3" font-size="29" textLength="86" lengthAdjust="spacingAndGlyphs" text-anchor="middle" fill="#3232d2">200 µm</text>
<rect x="1059.5" y="1778.0" width="176.79999999999995" height="4.8" fill="#2a2ad8"/>
<rect x="1059.5" y="1771.9" width="3.8" height="17" fill="#2a2ad8"/><rect x="1232.5" y="1771.9" width="3.8" height="17" fill="#2a2ad8"/></g>
<rect x="164.2" y="1798.6" width="1094.8" height="3" fill="#c3bcf6" opacity="0.85" filter="url(#soft)"/>
<rect x="164.2" y="1300" width="2" height="500" fill="#c3bcf6" opacity="0.6" filter="url(#soft)"/>
</g>
</svg></body></html>
